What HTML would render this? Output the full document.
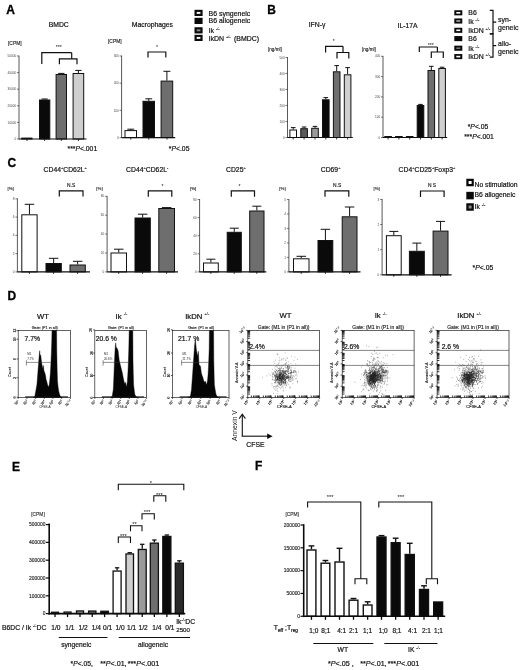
<!DOCTYPE html>
<html lang="en"><head><meta charset="utf-8"><title>Figure</title>
<style>
html,body{margin:0;padding:0;background:#fff;}
svg{display:block;font-family:"Liberation Sans", sans-serif;}
</style></head><body>
<svg width="520" height="670" viewBox="0 0 520 670">
<rect x="0" y="0" width="520" height="670" fill="#ffffff"/>
<text x="6.20" y="13.82" font-size="12.0" font-weight="bold" fill="#000" stroke="#000" stroke-width="0.3">A</text>
<text x="58.70" y="27.45" font-size="6.8" text-anchor="middle" fill="#111" stroke="#111" stroke-width="0.190" >BMDC</text>
<text x="8.00" y="45.36" font-size="4.9" fill="#222" stroke="#222" stroke-width="0.137" >[CPM]</text>
<line x1="19.00" y1="55.62" x2="19.00" y2="139.38" stroke="#222" stroke-width="0.75" stroke-linecap="butt"/>
<line x1="17.00" y1="56.00" x2="19.00" y2="56.00" stroke="#222" stroke-width="0.6000000000000001" stroke-linecap="butt"/>
<text x="16.20" y="57.12" font-size="3.1" text-anchor="end" fill="#444" >50000</text>
<line x1="17.00" y1="72.60" x2="19.00" y2="72.60" stroke="#222" stroke-width="0.6000000000000001" stroke-linecap="butt"/>
<text x="16.20" y="73.72" font-size="3.1" text-anchor="end" fill="#444" >40000</text>
<line x1="17.00" y1="89.20" x2="19.00" y2="89.20" stroke="#222" stroke-width="0.6000000000000001" stroke-linecap="butt"/>
<text x="16.20" y="90.32" font-size="3.1" text-anchor="end" fill="#444" >30000</text>
<line x1="17.00" y1="105.80" x2="19.00" y2="105.80" stroke="#222" stroke-width="0.6000000000000001" stroke-linecap="butt"/>
<text x="16.20" y="106.92" font-size="3.1" text-anchor="end" fill="#444" >20000</text>
<line x1="17.00" y1="122.40" x2="19.00" y2="122.40" stroke="#222" stroke-width="0.6000000000000001" stroke-linecap="butt"/>
<text x="16.20" y="123.52" font-size="3.1" text-anchor="end" fill="#444" >10000</text>
<line x1="17.00" y1="139.00" x2="19.00" y2="139.00" stroke="#222" stroke-width="0.6000000000000001" stroke-linecap="butt"/>
<text x="16.20" y="140.12" font-size="3.1" text-anchor="end" fill="#444" >0</text>
<rect x="21.70" y="138.10" width="10.30" height="0.90" fill="#ffffff" stroke="#111" stroke-width="1.0"/>
<line x1="44.65" y1="99.50" x2="44.65" y2="99.00" stroke="#111" stroke-width="1.0" stroke-linecap="butt"/>
<line x1="41.54" y1="99.00" x2="47.76" y2="99.00" stroke="#111" stroke-width="1.0" stroke-linecap="butt"/>
<rect x="39.50" y="100.00" width="10.30" height="39.00" fill="#0a0a0a" stroke="#111" stroke-width="1.0"/>
<line x1="61.30" y1="74.00" x2="61.30" y2="73.40" stroke="#111" stroke-width="1.0" stroke-linecap="butt"/>
<line x1="58.16" y1="73.40" x2="64.44" y2="73.40" stroke="#111" stroke-width="1.0" stroke-linecap="butt"/>
<rect x="56.10" y="74.50" width="10.40" height="64.50" fill="#6e6e6e" stroke="#111" stroke-width="1.0"/>
<line x1="78.40" y1="73.00" x2="78.40" y2="70.40" stroke="#111" stroke-width="1.0" stroke-linecap="butt"/>
<line x1="75.21" y1="70.40" x2="81.59" y2="70.40" stroke="#111" stroke-width="1.0" stroke-linecap="butt"/>
<rect x="73.10" y="73.50" width="10.60" height="65.50" fill="#cfcfcf" stroke="#111" stroke-width="1.0"/>
<line x1="19.00" y1="139.00" x2="86.50" y2="139.00" stroke="#111" stroke-width="1.2" stroke-linecap="butt"/>
<line x1="27.00" y1="139.00" x2="27.00" y2="141.00" stroke="#111" stroke-width="0.84" stroke-linecap="butt"/>
<line x1="44.60" y1="139.00" x2="44.60" y2="141.00" stroke="#111" stroke-width="0.84" stroke-linecap="butt"/>
<line x1="61.30" y1="139.00" x2="61.30" y2="141.00" stroke="#111" stroke-width="0.84" stroke-linecap="butt"/>
<line x1="78.40" y1="139.00" x2="78.40" y2="141.00" stroke="#111" stroke-width="0.84" stroke-linecap="butt"/>
<path d="M41.8 64V52.7H71.7" fill="none" stroke="#111" stroke-width="1.2" stroke-linejoin="miter"/>
<path d="M59.40 64.20V58.80H77.00V64.20" fill="none" stroke="#111" stroke-width="1.2" stroke-linejoin="miter"/>
<line x1="71.70" y1="52.70" x2="71.70" y2="58.80" stroke="#111" stroke-width="1.2" stroke-linecap="butt"/>
<text x="58.70" y="49.36" font-size="5.2" text-anchor="middle" fill="#111">***</text>
<text x="67.50" y="151.45" font-size="6.8" fill="#111" stroke="#111" stroke-width="0.190" >***<tspan font-style="italic">P</tspan>&lt;.001</text>
<text x="152.40" y="27.45" font-size="6.8" text-anchor="middle" fill="#111" stroke="#111" stroke-width="0.190" >Macrophages</text>
<text x="108.00" y="42.76" font-size="4.9" fill="#222" stroke="#222" stroke-width="0.137" >[CPM]</text>
<line x1="121.60" y1="55.62" x2="121.60" y2="137.97" stroke="#222" stroke-width="0.75" stroke-linecap="butt"/>
<line x1="119.60" y1="56.00" x2="121.60" y2="56.00" stroke="#222" stroke-width="0.6000000000000001" stroke-linecap="butt"/>
<text x="118.80" y="57.12" font-size="3.1" text-anchor="end" fill="#444" >300</text>
<line x1="119.60" y1="83.20" x2="121.60" y2="83.20" stroke="#222" stroke-width="0.6000000000000001" stroke-linecap="butt"/>
<text x="118.80" y="84.32" font-size="3.1" text-anchor="end" fill="#444" >200</text>
<line x1="119.60" y1="110.40" x2="121.60" y2="110.40" stroke="#222" stroke-width="0.6000000000000001" stroke-linecap="butt"/>
<text x="118.80" y="111.52" font-size="3.1" text-anchor="end" fill="#444" >100</text>
<line x1="119.60" y1="137.60" x2="121.60" y2="137.60" stroke="#222" stroke-width="0.6000000000000001" stroke-linecap="butt"/>
<text x="118.80" y="138.72" font-size="3.1" text-anchor="end" fill="#444" >0</text>
<line x1="130.75" y1="130.10" x2="130.75" y2="129.20" stroke="#111" stroke-width="1.0" stroke-linecap="butt"/>
<line x1="127.31" y1="129.20" x2="134.19" y2="129.20" stroke="#111" stroke-width="1.0" stroke-linecap="butt"/>
<rect x="125.00" y="130.60" width="11.50" height="7.00" fill="#ffffff" stroke="#111" stroke-width="1.0"/>
<line x1="148.75" y1="100.80" x2="148.75" y2="98.80" stroke="#111" stroke-width="1.0" stroke-linecap="butt"/>
<line x1="145.31" y1="98.80" x2="152.19" y2="98.80" stroke="#111" stroke-width="1.0" stroke-linecap="butt"/>
<rect x="143.00" y="101.30" width="11.50" height="36.30" fill="#0a0a0a" stroke="#111" stroke-width="1.0"/>
<line x1="166.90" y1="80.60" x2="166.90" y2="71.30" stroke="#111" stroke-width="1.0" stroke-linecap="butt"/>
<line x1="163.43" y1="71.30" x2="170.36" y2="71.30" stroke="#111" stroke-width="1.0" stroke-linecap="butt"/>
<rect x="161.10" y="81.10" width="11.60" height="56.50" fill="#6e6e6e" stroke="#111" stroke-width="1.0"/>
<line x1="121.60" y1="137.60" x2="175.20" y2="137.60" stroke="#111" stroke-width="1.2" stroke-linecap="butt"/>
<line x1="130.80" y1="137.60" x2="130.80" y2="139.60" stroke="#111" stroke-width="0.84" stroke-linecap="butt"/>
<line x1="148.80" y1="137.60" x2="148.80" y2="139.60" stroke="#111" stroke-width="0.84" stroke-linecap="butt"/>
<line x1="167.00" y1="137.60" x2="167.00" y2="139.60" stroke="#111" stroke-width="0.84" stroke-linecap="butt"/>
<path d="M148.00 57.60V52.00H165.80V57.60" fill="none" stroke="#111" stroke-width="1.2" stroke-linejoin="miter"/>
<text x="156.90" y="49.36" font-size="5.2" text-anchor="middle" fill="#111">*</text>
<text x="168.80" y="151.45" font-size="6.8" fill="#111" stroke="#111" stroke-width="0.190" >*<tspan font-style="italic">P</tspan>&lt;.05</text>
<rect x="194.5" y="9.80" width="8.1" height="6.2" fill="#0a0a0a"/>
<rect x="196.7" y="11.95" width="3.7" height="1.9" fill="#ffffff"/>
<text x="208.60" y="15.70" font-size="6.95" fill="#111" stroke="#111" stroke-width="0.195" >B6 syngeneic</text>
<rect x="194.5" y="17.80" width="8.1" height="6.2" fill="#0a0a0a"/>
<rect x="196.7" y="19.95" width="3.7" height="1.9" fill="#0a0a0a"/>
<text x="208.60" y="23.20" font-size="6.95" fill="#111" stroke="#111" stroke-width="0.195" >B6 allogeneic</text>
<rect x="194.5" y="27.25" width="8.1" height="6.2" fill="#0a0a0a"/>
<rect x="196.7" y="29.40" width="3.7" height="1.9" fill="#8c8c8c"/>
<text x="208.60" y="33.00" font-size="6.95" fill="#111" stroke="#111" stroke-width="0.195" >Ik <tspan font-size="3.94" dy="-3.06" stroke-width="0.06">-/-</tspan><tspan dy="3.06" font-size="6.8">&#8203;</tspan></text>
<rect x="194.5" y="34.80" width="8.1" height="6.2" fill="#0a0a0a"/>
<rect x="196.7" y="36.95" width="3.7" height="1.9" fill="#ffffff"/>
<text x="208.60" y="41.00" font-size="6.95" fill="#111" stroke="#111" stroke-width="0.195" >IkDN <tspan font-size="3.94" dy="-3.06" stroke-width="0.06">+/-</tspan><tspan dy="3.06" font-size="6.8">&#8203;</tspan>&#160;&#8201;(BMDC)</text>
<text x="267.30" y="13.92" font-size="12.0" font-weight="bold" fill="#000" stroke="#000" stroke-width="0.3">B</text>
<text x="317.00" y="27.45" font-size="6.8" text-anchor="middle" fill="#111" stroke="#111" stroke-width="0.190" >IFN-γ</text>
<text x="268.00" y="50.66" font-size="4.6" fill="#222" stroke="#222" stroke-width="0.129" >[ng/ml]</text>
<line x1="287.50" y1="57.12" x2="287.50" y2="137.88" stroke="#222" stroke-width="0.75" stroke-linecap="butt"/>
<line x1="285.50" y1="57.50" x2="287.50" y2="57.50" stroke="#222" stroke-width="0.6000000000000001" stroke-linecap="butt"/>
<text x="284.70" y="58.62" font-size="3.1" text-anchor="end" fill="#444" >500</text>
<line x1="285.50" y1="73.50" x2="287.50" y2="73.50" stroke="#222" stroke-width="0.6000000000000001" stroke-linecap="butt"/>
<text x="284.70" y="74.62" font-size="3.1" text-anchor="end" fill="#444" >400</text>
<line x1="285.50" y1="89.50" x2="287.50" y2="89.50" stroke="#222" stroke-width="0.6000000000000001" stroke-linecap="butt"/>
<text x="284.70" y="90.62" font-size="3.1" text-anchor="end" fill="#444" >300</text>
<line x1="285.50" y1="105.50" x2="287.50" y2="105.50" stroke="#222" stroke-width="0.6000000000000001" stroke-linecap="butt"/>
<text x="284.70" y="106.62" font-size="3.1" text-anchor="end" fill="#444" >200</text>
<line x1="285.50" y1="121.50" x2="287.50" y2="121.50" stroke="#222" stroke-width="0.6000000000000001" stroke-linecap="butt"/>
<text x="284.70" y="122.62" font-size="3.1" text-anchor="end" fill="#444" >100</text>
<line x1="285.50" y1="137.50" x2="287.50" y2="137.50" stroke="#222" stroke-width="0.6000000000000001" stroke-linecap="butt"/>
<text x="284.70" y="138.62" font-size="3.1" text-anchor="end" fill="#444" >0</text>
<line x1="293.20" y1="129.50" x2="293.20" y2="127.60" stroke="#111" stroke-width="1.0" stroke-linecap="butt"/>
<line x1="290.90" y1="127.60" x2="295.50" y2="127.60" stroke="#111" stroke-width="1.0" stroke-linecap="butt"/>
<rect x="289.90" y="130.00" width="6.60" height="7.50" fill="#ffffff" stroke="#111" stroke-width="1.0"/>
<line x1="304.10" y1="128.20" x2="304.10" y2="127.00" stroke="#111" stroke-width="1.0" stroke-linecap="butt"/>
<line x1="301.80" y1="127.00" x2="306.40" y2="127.00" stroke="#111" stroke-width="1.0" stroke-linecap="butt"/>
<rect x="300.80" y="128.70" width="6.60" height="8.80" fill="#5a5a5a" stroke="#111" stroke-width="1.0"/>
<line x1="315.00" y1="127.80" x2="315.00" y2="126.40" stroke="#111" stroke-width="1.0" stroke-linecap="butt"/>
<line x1="312.70" y1="126.40" x2="317.30" y2="126.40" stroke="#111" stroke-width="1.0" stroke-linecap="butt"/>
<rect x="311.70" y="128.30" width="6.60" height="9.20" fill="#9a9a9a" stroke="#111" stroke-width="1.0"/>
<line x1="325.80" y1="99.30" x2="325.80" y2="97.60" stroke="#111" stroke-width="1.0" stroke-linecap="butt"/>
<line x1="323.50" y1="97.60" x2="328.10" y2="97.60" stroke="#111" stroke-width="1.0" stroke-linecap="butt"/>
<rect x="322.50" y="99.80" width="6.60" height="37.70" fill="#0a0a0a" stroke="#111" stroke-width="1.0"/>
<line x1="336.70" y1="71.30" x2="336.70" y2="65.60" stroke="#111" stroke-width="1.0" stroke-linecap="butt"/>
<line x1="334.40" y1="65.60" x2="339.00" y2="65.60" stroke="#111" stroke-width="1.0" stroke-linecap="butt"/>
<rect x="333.40" y="71.80" width="6.60" height="65.70" fill="#6e6e6e" stroke="#111" stroke-width="1.0"/>
<line x1="347.60" y1="74.30" x2="347.60" y2="67.60" stroke="#111" stroke-width="1.0" stroke-linecap="butt"/>
<line x1="345.30" y1="67.60" x2="349.90" y2="67.60" stroke="#111" stroke-width="1.0" stroke-linecap="butt"/>
<rect x="344.30" y="74.80" width="6.60" height="62.70" fill="#cfcfcf" stroke="#111" stroke-width="1.0"/>
<line x1="287.50" y1="137.50" x2="352.80" y2="137.50" stroke="#111" stroke-width="1.2" stroke-linecap="butt"/>
<line x1="293.20" y1="137.50" x2="293.20" y2="139.50" stroke="#111" stroke-width="0.84" stroke-linecap="butt"/>
<line x1="304.10" y1="137.50" x2="304.10" y2="139.50" stroke="#111" stroke-width="0.84" stroke-linecap="butt"/>
<line x1="315.00" y1="137.50" x2="315.00" y2="139.50" stroke="#111" stroke-width="0.84" stroke-linecap="butt"/>
<line x1="325.80" y1="137.50" x2="325.80" y2="139.50" stroke="#111" stroke-width="0.84" stroke-linecap="butt"/>
<line x1="336.70" y1="137.50" x2="336.70" y2="139.50" stroke="#111" stroke-width="0.84" stroke-linecap="butt"/>
<line x1="347.60" y1="137.50" x2="347.60" y2="139.50" stroke="#111" stroke-width="0.84" stroke-linecap="butt"/>
<path d="M325.6 52.5V46.3H343" fill="none" stroke="#111" stroke-width="1.2" stroke-linejoin="miter"/>
<path d="M337.00 58.60V52.50H348.80V58.60" fill="none" stroke="#111" stroke-width="1.2" stroke-linejoin="miter"/>
<line x1="343.00" y1="46.30" x2="343.00" y2="52.50" stroke="#111" stroke-width="1.2" stroke-linecap="butt"/>
<text x="333.80" y="43.16" font-size="5.2" text-anchor="middle" fill="#111">*</text>
<text x="407.60" y="27.85" font-size="6.8" text-anchor="middle" fill="#111" stroke="#111" stroke-width="0.190" >IL-17A</text>
<text x="362.00" y="50.66" font-size="4.6" fill="#222" stroke="#222" stroke-width="0.129" >[ng/ml]</text>
<line x1="383.00" y1="55.92" x2="383.00" y2="137.88" stroke="#222" stroke-width="0.75" stroke-linecap="butt"/>
<line x1="381.00" y1="56.30" x2="383.00" y2="56.30" stroke="#222" stroke-width="0.6000000000000001" stroke-linecap="butt"/>
<text x="380.20" y="57.42" font-size="3.1" text-anchor="end" fill="#444" >400</text>
<line x1="381.00" y1="76.60" x2="383.00" y2="76.60" stroke="#222" stroke-width="0.6000000000000001" stroke-linecap="butt"/>
<text x="380.20" y="77.72" font-size="3.1" text-anchor="end" fill="#444" >300</text>
<line x1="381.00" y1="96.90" x2="383.00" y2="96.90" stroke="#222" stroke-width="0.6000000000000001" stroke-linecap="butt"/>
<text x="380.20" y="98.02" font-size="3.1" text-anchor="end" fill="#444" >200</text>
<line x1="381.00" y1="117.20" x2="383.00" y2="117.20" stroke="#222" stroke-width="0.6000000000000001" stroke-linecap="butt"/>
<text x="380.20" y="118.32" font-size="3.1" text-anchor="end" fill="#444" >100</text>
<line x1="381.00" y1="137.50" x2="383.00" y2="137.50" stroke="#222" stroke-width="0.6000000000000001" stroke-linecap="butt"/>
<text x="380.20" y="138.62" font-size="3.1" text-anchor="end" fill="#444" >0</text>
<rect x="384.80" y="136.50" width="6.60" height="1.00" fill="#0a0a0a" stroke="#111" stroke-width="1.0"/>
<rect x="395.60" y="136.50" width="6.60" height="1.00" fill="#0a0a0a" stroke="#111" stroke-width="1.0"/>
<rect x="406.40" y="136.50" width="6.60" height="1.00" fill="#0a0a0a" stroke="#111" stroke-width="1.0"/>
<line x1="420.50" y1="105.00" x2="420.50" y2="104.40" stroke="#111" stroke-width="1.0" stroke-linecap="butt"/>
<line x1="418.20" y1="104.40" x2="422.80" y2="104.40" stroke="#111" stroke-width="1.0" stroke-linecap="butt"/>
<rect x="417.20" y="105.50" width="6.60" height="32.00" fill="#0a0a0a" stroke="#111" stroke-width="1.0"/>
<line x1="431.30" y1="70.00" x2="431.30" y2="66.30" stroke="#111" stroke-width="1.0" stroke-linecap="butt"/>
<line x1="429.00" y1="66.30" x2="433.60" y2="66.30" stroke="#111" stroke-width="1.0" stroke-linecap="butt"/>
<rect x="428.00" y="70.50" width="6.60" height="67.00" fill="#6e6e6e" stroke="#111" stroke-width="1.0"/>
<line x1="442.10" y1="68.00" x2="442.10" y2="67.20" stroke="#111" stroke-width="1.0" stroke-linecap="butt"/>
<line x1="439.80" y1="67.20" x2="444.40" y2="67.20" stroke="#111" stroke-width="1.0" stroke-linecap="butt"/>
<rect x="438.80" y="68.50" width="6.60" height="69.00" fill="#cfcfcf" stroke="#111" stroke-width="1.0"/>
<line x1="383.00" y1="137.50" x2="447.20" y2="137.50" stroke="#111" stroke-width="1.2" stroke-linecap="butt"/>
<line x1="388.10" y1="137.50" x2="388.10" y2="139.50" stroke="#111" stroke-width="0.84" stroke-linecap="butt"/>
<line x1="398.90" y1="137.50" x2="398.90" y2="139.50" stroke="#111" stroke-width="0.84" stroke-linecap="butt"/>
<line x1="409.70" y1="137.50" x2="409.70" y2="139.50" stroke="#111" stroke-width="0.84" stroke-linecap="butt"/>
<line x1="420.50" y1="137.50" x2="420.50" y2="139.50" stroke="#111" stroke-width="0.84" stroke-linecap="butt"/>
<line x1="431.30" y1="137.50" x2="431.30" y2="139.50" stroke="#111" stroke-width="0.84" stroke-linecap="butt"/>
<line x1="442.10" y1="137.50" x2="442.10" y2="139.50" stroke="#111" stroke-width="0.84" stroke-linecap="butt"/>
<path d="M419.3 52V47H437.4" fill="none" stroke="#111" stroke-width="1.2" stroke-linejoin="miter"/>
<path d="M431.30 58.00V52.00H443.30V58.00" fill="none" stroke="#111" stroke-width="1.2" stroke-linejoin="miter"/>
<line x1="437.40" y1="47.00" x2="437.40" y2="52.00" stroke="#111" stroke-width="1.2" stroke-linecap="butt"/>
<text x="430.80" y="46.96" font-size="5.2" text-anchor="middle" fill="#111">***</text>
<rect x="454.3" y="10.25" width="8.0" height="5.1" fill="#0a0a0a"/>
<rect x="456.3" y="12.00" width="4.0" height="1.6" fill="#ffffff"/>
<text x="468.30" y="15.48" font-size="6.9" fill="#111" stroke="#111" stroke-width="0.193" >B6</text>
<rect x="454.3" y="18.45" width="8.0" height="5.1" fill="#0a0a0a"/>
<rect x="456.3" y="20.20" width="4.0" height="1.6" fill="#a8a8a8"/>
<text x="468.30" y="23.68" font-size="6.9" fill="#111" stroke="#111" stroke-width="0.193" >Ik <tspan font-size="3.94" dy="-3.06" stroke-width="0.06">-/-</tspan><tspan dy="3.06" font-size="6.8">&#8203;</tspan></text>
<rect x="454.3" y="27.75" width="8.0" height="5.1" fill="#0a0a0a"/>
<rect x="456.3" y="29.50" width="4.0" height="1.6" fill="#ffffff"/>
<text x="468.30" y="32.98" font-size="6.9" fill="#111" stroke="#111" stroke-width="0.193" >IkDN <tspan font-size="3.94" dy="-3.06" stroke-width="0.06">+/-</tspan><tspan dy="3.06" font-size="6.8">&#8203;</tspan></text>
<rect x="454.3" y="36.05" width="8.0" height="5.1" fill="#0a0a0a"/>
<rect x="456.3" y="37.80" width="4.0" height="1.6" fill="#0a0a0a"/>
<text x="468.30" y="41.28" font-size="6.9" fill="#111" stroke="#111" stroke-width="0.193" >B6</text>
<rect x="454.3" y="45.65" width="8.0" height="5.1" fill="#0a0a0a"/>
<rect x="456.3" y="47.40" width="4.0" height="1.6" fill="#777777"/>
<text x="468.30" y="50.88" font-size="6.9" fill="#111" stroke="#111" stroke-width="0.193" >Ik <tspan font-size="3.94" dy="-3.06" stroke-width="0.06">-/-</tspan><tspan dy="3.06" font-size="6.8">&#8203;</tspan></text>
<rect x="454.3" y="54.05" width="8.0" height="5.1" fill="#0a0a0a"/>
<rect x="456.3" y="55.80" width="4.0" height="1.6" fill="#ffffff"/>
<text x="468.30" y="59.28" font-size="6.9" fill="#111" stroke="#111" stroke-width="0.193" >IkDN <tspan font-size="3.94" dy="-3.06" stroke-width="0.06">+/-</tspan><tspan dy="3.06" font-size="6.8">&#8203;</tspan></text>
<path d="M489.8 10.40H493V22.15H496.2M493 22.15V33.90H489.8" fill="none" stroke="#111" stroke-width="1.2" stroke-linejoin="miter"/>
<path d="M489.8 33.90H493V45.55H496.2M493 45.55V57.20H489.8" fill="none" stroke="#111" stroke-width="1.2" stroke-linejoin="miter"/>
<text x="498.10" y="22.08" font-size="6.9" fill="#111" stroke="#111" stroke-width="0.193" >syn-</text>
<text x="498.10" y="30.28" font-size="6.9" fill="#111" stroke="#111" stroke-width="0.193" >geneic</text>
<text x="498.10" y="45.68" font-size="6.9" fill="#111" stroke="#111" stroke-width="0.193" >allo-</text>
<text x="498.10" y="53.58" font-size="6.9" fill="#111" stroke="#111" stroke-width="0.193" >geneic</text>
<text x="467.70" y="129.45" font-size="6.8" fill="#111" stroke="#111" stroke-width="0.190" >*<tspan font-style="italic">P</tspan>&lt;.05</text>
<text x="464.20" y="138.75" font-size="6.8" fill="#111" stroke="#111" stroke-width="0.190" >***<tspan font-style="italic">P</tspan>&lt;.001</text>
<text x="7.50" y="166.72" font-size="12.0" font-weight="bold" fill="#000" stroke="#000" stroke-width="0.3">C</text>
<text x="65.20" y="172.45" font-size="6.8" text-anchor="middle" fill="#111" stroke="#111" stroke-width="0.190" >CD44<tspan font-size="3.94" dy="-3.06" stroke-width="0.06">+</tspan><tspan dy="3.06" font-size="6.8">&#8203;</tspan>CD62L<tspan font-size="3.94" dy="-3.06" stroke-width="0.06">+</tspan><tspan dy="3.06" font-size="6.8">&#8203;</tspan></text>
<text x="7.50" y="190.08" font-size="4.4" fill="#222" stroke="#222" stroke-width="0.123" >[%]</text>
<line x1="17.40" y1="198.43" x2="17.40" y2="272.27" stroke="#222" stroke-width="0.75" stroke-linecap="butt"/>
<line x1="15.40" y1="198.80" x2="17.40" y2="198.80" stroke="#222" stroke-width="0.6000000000000001" stroke-linecap="butt"/>
<text x="14.60" y="199.92" font-size="3.1" text-anchor="end" fill="#444" >8</text>
<line x1="15.40" y1="217.08" x2="17.40" y2="217.08" stroke="#222" stroke-width="0.6000000000000001" stroke-linecap="butt"/>
<text x="14.60" y="218.19" font-size="3.1" text-anchor="end" fill="#444" >6</text>
<line x1="15.40" y1="235.35" x2="17.40" y2="235.35" stroke="#222" stroke-width="0.6000000000000001" stroke-linecap="butt"/>
<text x="14.60" y="236.47" font-size="3.1" text-anchor="end" fill="#444" >4</text>
<line x1="15.40" y1="253.62" x2="17.40" y2="253.62" stroke="#222" stroke-width="0.6000000000000001" stroke-linecap="butt"/>
<text x="14.60" y="254.74" font-size="3.1" text-anchor="end" fill="#444" >2</text>
<line x1="15.40" y1="271.90" x2="17.40" y2="271.90" stroke="#222" stroke-width="0.6000000000000001" stroke-linecap="butt"/>
<text x="14.60" y="273.02" font-size="3.1" text-anchor="end" fill="#444" >0</text>
<line x1="29.45" y1="214.30" x2="29.45" y2="204.30" stroke="#111" stroke-width="1.0" stroke-linecap="butt"/>
<line x1="24.70" y1="204.30" x2="34.20" y2="204.30" stroke="#111" stroke-width="1.0" stroke-linecap="butt"/>
<rect x="21.80" y="214.80" width="15.30" height="57.10" fill="#ffffff" stroke="#111" stroke-width="1.0"/>
<line x1="53.65" y1="263.00" x2="53.65" y2="258.30" stroke="#111" stroke-width="1.0" stroke-linecap="butt"/>
<line x1="48.90" y1="258.30" x2="58.40" y2="258.30" stroke="#111" stroke-width="1.0" stroke-linecap="butt"/>
<rect x="46.00" y="263.50" width="15.30" height="8.40" fill="#0a0a0a" stroke="#111" stroke-width="1.0"/>
<line x1="77.65" y1="264.50" x2="77.65" y2="261.30" stroke="#111" stroke-width="1.0" stroke-linecap="butt"/>
<line x1="72.90" y1="261.30" x2="82.40" y2="261.30" stroke="#111" stroke-width="1.0" stroke-linecap="butt"/>
<rect x="70.00" y="265.00" width="15.30" height="6.90" fill="#6e6e6e" stroke="#111" stroke-width="1.0"/>
<line x1="17.40" y1="271.90" x2="90.00" y2="271.90" stroke="#111" stroke-width="1.2" stroke-linecap="butt"/>
<line x1="29.40" y1="271.90" x2="29.40" y2="273.90" stroke="#111" stroke-width="0.84" stroke-linecap="butt"/>
<line x1="53.60" y1="271.90" x2="53.60" y2="273.90" stroke="#111" stroke-width="0.84" stroke-linecap="butt"/>
<line x1="77.60" y1="271.90" x2="77.60" y2="273.90" stroke="#111" stroke-width="0.84" stroke-linecap="butt"/>
<path d="M59.30 196.40V190.80H83.00V196.40" fill="none" stroke="#111" stroke-width="1.2" stroke-linejoin="miter"/>
<text x="71.20" y="187.26" font-size="4.9" text-anchor="middle" fill="#111" stroke="#111" stroke-width="0.137" >N.S</text>
<text x="147.20" y="172.45" font-size="6.8" text-anchor="middle" fill="#111" stroke="#111" stroke-width="0.190" >CD44<tspan font-size="3.94" dy="-3.06" stroke-width="0.06">+</tspan><tspan dy="3.06" font-size="6.8">&#8203;</tspan>CD62L<tspan font-size="3.94" dy="-3.06" stroke-width="0.06">-</tspan><tspan dy="3.06" font-size="6.8">&#8203;</tspan></text>
<text x="96.30" y="190.08" font-size="4.4" fill="#222" stroke="#222" stroke-width="0.123" >[%]</text>
<line x1="107.10" y1="195.93" x2="107.10" y2="272.27" stroke="#222" stroke-width="0.75" stroke-linecap="butt"/>
<line x1="105.10" y1="196.30" x2="107.10" y2="196.30" stroke="#222" stroke-width="0.6000000000000001" stroke-linecap="butt"/>
<text x="104.30" y="197.42" font-size="3.1" text-anchor="end" fill="#444" >80</text>
<line x1="105.10" y1="215.20" x2="107.10" y2="215.20" stroke="#222" stroke-width="0.6000000000000001" stroke-linecap="butt"/>
<text x="104.30" y="216.32" font-size="3.1" text-anchor="end" fill="#444" >60</text>
<line x1="105.10" y1="234.10" x2="107.10" y2="234.10" stroke="#222" stroke-width="0.6000000000000001" stroke-linecap="butt"/>
<text x="104.30" y="235.22" font-size="3.1" text-anchor="end" fill="#444" >40</text>
<line x1="105.10" y1="253.00" x2="107.10" y2="253.00" stroke="#222" stroke-width="0.6000000000000001" stroke-linecap="butt"/>
<text x="104.30" y="254.12" font-size="3.1" text-anchor="end" fill="#444" >20</text>
<line x1="105.10" y1="271.90" x2="107.10" y2="271.90" stroke="#222" stroke-width="0.6000000000000001" stroke-linecap="butt"/>
<text x="104.30" y="273.02" font-size="3.1" text-anchor="end" fill="#444" >0</text>
<line x1="118.75" y1="252.50" x2="118.75" y2="249.20" stroke="#111" stroke-width="1.0" stroke-linecap="butt"/>
<line x1="114.00" y1="249.20" x2="123.50" y2="249.20" stroke="#111" stroke-width="1.0" stroke-linecap="butt"/>
<rect x="111.00" y="253.00" width="15.50" height="18.90" fill="#ffffff" stroke="#111" stroke-width="1.0"/>
<line x1="142.65" y1="217.50" x2="142.65" y2="214.20" stroke="#111" stroke-width="1.0" stroke-linecap="butt"/>
<line x1="137.90" y1="214.20" x2="147.40" y2="214.20" stroke="#111" stroke-width="1.0" stroke-linecap="butt"/>
<rect x="135.00" y="218.00" width="15.30" height="53.90" fill="#0a0a0a" stroke="#111" stroke-width="1.0"/>
<line x1="166.65" y1="208.00" x2="166.65" y2="207.60" stroke="#111" stroke-width="1.0" stroke-linecap="butt"/>
<line x1="161.90" y1="207.60" x2="171.40" y2="207.60" stroke="#111" stroke-width="1.0" stroke-linecap="butt"/>
<rect x="158.80" y="208.50" width="15.70" height="63.40" fill="#6e6e6e" stroke="#111" stroke-width="1.0"/>
<line x1="107.10" y1="271.90" x2="178.00" y2="271.90" stroke="#111" stroke-width="1.2" stroke-linecap="butt"/>
<line x1="118.70" y1="271.90" x2="118.70" y2="273.90" stroke="#111" stroke-width="0.84" stroke-linecap="butt"/>
<line x1="142.60" y1="271.90" x2="142.60" y2="273.90" stroke="#111" stroke-width="0.84" stroke-linecap="butt"/>
<line x1="166.60" y1="271.90" x2="166.60" y2="273.90" stroke="#111" stroke-width="0.84" stroke-linecap="butt"/>
<path d="M148.30 196.80V190.80H171.80V196.80" fill="none" stroke="#111" stroke-width="1.2" stroke-linejoin="miter"/>
<text x="162.50" y="188.16" font-size="5.2" text-anchor="middle" fill="#111">*</text>
<text x="235.90" y="172.45" font-size="6.8" text-anchor="middle" fill="#111" stroke="#111" stroke-width="0.190" >CD25<tspan font-size="3.94" dy="-3.06" stroke-width="0.06">+</tspan><tspan dy="3.06" font-size="6.8">&#8203;</tspan></text>
<text x="190.00" y="190.08" font-size="4.4" fill="#222" stroke="#222" stroke-width="0.123" >[%]</text>
<line x1="199.60" y1="199.12" x2="199.60" y2="272.27" stroke="#222" stroke-width="0.75" stroke-linecap="butt"/>
<line x1="197.60" y1="199.50" x2="199.60" y2="199.50" stroke="#222" stroke-width="0.6000000000000001" stroke-linecap="butt"/>
<text x="196.80" y="200.62" font-size="3.1" text-anchor="end" fill="#444" >80</text>
<line x1="197.60" y1="217.60" x2="199.60" y2="217.60" stroke="#222" stroke-width="0.6000000000000001" stroke-linecap="butt"/>
<text x="196.80" y="218.72" font-size="3.1" text-anchor="end" fill="#444" >60</text>
<line x1="197.60" y1="235.70" x2="199.60" y2="235.70" stroke="#222" stroke-width="0.6000000000000001" stroke-linecap="butt"/>
<text x="196.80" y="236.82" font-size="3.1" text-anchor="end" fill="#444" >40</text>
<line x1="197.60" y1="253.80" x2="199.60" y2="253.80" stroke="#222" stroke-width="0.6000000000000001" stroke-linecap="butt"/>
<text x="196.80" y="254.92" font-size="3.1" text-anchor="end" fill="#444" >20</text>
<line x1="197.60" y1="271.90" x2="199.60" y2="271.90" stroke="#222" stroke-width="0.6000000000000001" stroke-linecap="butt"/>
<text x="196.80" y="273.02" font-size="3.1" text-anchor="end" fill="#444" >0</text>
<line x1="210.90" y1="262.50" x2="210.90" y2="259.20" stroke="#111" stroke-width="1.0" stroke-linecap="butt"/>
<line x1="206.40" y1="259.20" x2="215.40" y2="259.20" stroke="#111" stroke-width="1.0" stroke-linecap="butt"/>
<rect x="203.50" y="263.00" width="14.80" height="8.90" fill="#ffffff" stroke="#111" stroke-width="1.0"/>
<line x1="234.25" y1="231.80" x2="234.25" y2="228.20" stroke="#111" stroke-width="1.0" stroke-linecap="butt"/>
<line x1="229.75" y1="228.20" x2="238.75" y2="228.20" stroke="#111" stroke-width="1.0" stroke-linecap="butt"/>
<rect x="227.20" y="232.30" width="14.10" height="39.60" fill="#0a0a0a" stroke="#111" stroke-width="1.0"/>
<line x1="256.85" y1="210.50" x2="256.85" y2="206.20" stroke="#111" stroke-width="1.0" stroke-linecap="butt"/>
<line x1="252.35" y1="206.20" x2="261.35" y2="206.20" stroke="#111" stroke-width="1.0" stroke-linecap="butt"/>
<rect x="249.70" y="211.00" width="14.30" height="60.90" fill="#6e6e6e" stroke="#111" stroke-width="1.0"/>
<line x1="199.60" y1="271.90" x2="266.30" y2="271.90" stroke="#111" stroke-width="1.2" stroke-linecap="butt"/>
<line x1="210.90" y1="271.90" x2="210.90" y2="273.90" stroke="#111" stroke-width="0.84" stroke-linecap="butt"/>
<line x1="234.20" y1="271.90" x2="234.20" y2="273.90" stroke="#111" stroke-width="0.84" stroke-linecap="butt"/>
<line x1="256.80" y1="271.90" x2="256.80" y2="273.90" stroke="#111" stroke-width="0.84" stroke-linecap="butt"/>
<path d="M231.30 196.80V190.80H254.50V196.80" fill="none" stroke="#111" stroke-width="1.2" stroke-linejoin="miter"/>
<text x="239.50" y="188.16" font-size="5.2" text-anchor="middle" fill="#111">*</text>
<text x="330.60" y="172.45" font-size="6.8" text-anchor="middle" fill="#111" stroke="#111" stroke-width="0.190" >CD69<tspan font-size="3.94" dy="-3.06" stroke-width="0.06">+</tspan><tspan dy="3.06" font-size="6.8">&#8203;</tspan></text>
<text x="279.30" y="190.08" font-size="4.4" fill="#222" stroke="#222" stroke-width="0.123" >[%]</text>
<line x1="288.90" y1="199.12" x2="288.90" y2="272.27" stroke="#222" stroke-width="0.75" stroke-linecap="butt"/>
<line x1="286.90" y1="199.50" x2="288.90" y2="199.50" stroke="#222" stroke-width="0.6000000000000001" stroke-linecap="butt"/>
<text x="286.10" y="200.62" font-size="3.1" text-anchor="end" fill="#444" >5</text>
<line x1="286.90" y1="213.98" x2="288.90" y2="213.98" stroke="#222" stroke-width="0.6000000000000001" stroke-linecap="butt"/>
<text x="286.10" y="215.10" font-size="3.1" text-anchor="end" fill="#444" >4</text>
<line x1="286.90" y1="228.46" x2="288.90" y2="228.46" stroke="#222" stroke-width="0.6000000000000001" stroke-linecap="butt"/>
<text x="286.10" y="229.58" font-size="3.1" text-anchor="end" fill="#444" >3</text>
<line x1="286.90" y1="242.94" x2="288.90" y2="242.94" stroke="#222" stroke-width="0.6000000000000001" stroke-linecap="butt"/>
<text x="286.10" y="244.06" font-size="3.1" text-anchor="end" fill="#444" >2</text>
<line x1="286.90" y1="257.42" x2="288.90" y2="257.42" stroke="#222" stroke-width="0.6000000000000001" stroke-linecap="butt"/>
<text x="286.10" y="258.54" font-size="3.1" text-anchor="end" fill="#444" >1</text>
<line x1="286.90" y1="271.90" x2="288.90" y2="271.90" stroke="#222" stroke-width="0.6000000000000001" stroke-linecap="butt"/>
<text x="286.10" y="273.02" font-size="3.1" text-anchor="end" fill="#444" >0</text>
<line x1="301.25" y1="258.30" x2="301.25" y2="256.30" stroke="#111" stroke-width="1.0" stroke-linecap="butt"/>
<line x1="296.50" y1="256.30" x2="306.00" y2="256.30" stroke="#111" stroke-width="1.0" stroke-linecap="butt"/>
<rect x="293.50" y="258.80" width="15.50" height="13.10" fill="#ffffff" stroke="#111" stroke-width="1.0"/>
<line x1="325.40" y1="240.00" x2="325.40" y2="229.30" stroke="#111" stroke-width="1.0" stroke-linecap="butt"/>
<line x1="320.65" y1="229.30" x2="330.15" y2="229.30" stroke="#111" stroke-width="1.0" stroke-linecap="butt"/>
<rect x="318.00" y="240.50" width="14.80" height="31.40" fill="#0a0a0a" stroke="#111" stroke-width="1.0"/>
<line x1="349.60" y1="216.30" x2="349.60" y2="207.00" stroke="#111" stroke-width="1.0" stroke-linecap="butt"/>
<line x1="344.85" y1="207.00" x2="354.35" y2="207.00" stroke="#111" stroke-width="1.0" stroke-linecap="butt"/>
<rect x="342.20" y="216.80" width="14.80" height="55.10" fill="#6e6e6e" stroke="#111" stroke-width="1.0"/>
<line x1="288.90" y1="271.90" x2="360.50" y2="271.90" stroke="#111" stroke-width="1.2" stroke-linecap="butt"/>
<line x1="301.20" y1="271.90" x2="301.20" y2="273.90" stroke="#111" stroke-width="0.84" stroke-linecap="butt"/>
<line x1="325.40" y1="271.90" x2="325.40" y2="273.90" stroke="#111" stroke-width="0.84" stroke-linecap="butt"/>
<line x1="349.60" y1="271.90" x2="349.60" y2="273.90" stroke="#111" stroke-width="0.84" stroke-linecap="butt"/>
<path d="M325.00 196.80V190.80H348.80V196.80" fill="none" stroke="#111" stroke-width="1.2" stroke-linejoin="miter"/>
<text x="337.20" y="187.26" font-size="4.9" text-anchor="middle" fill="#111" stroke="#111" stroke-width="0.137" >N.S</text>
<text x="427.00" y="172.45" font-size="6.8" text-anchor="middle" fill="#111" stroke="#111" stroke-width="0.190" >CD4<tspan font-size="3.94" dy="-3.06" stroke-width="0.06">+</tspan><tspan dy="3.06" font-size="6.8">&#8203;</tspan>CD25<tspan font-size="3.94" dy="-3.06" stroke-width="0.06">+</tspan><tspan dy="3.06" font-size="6.8">&#8203;</tspan>Foxp3<tspan font-size="3.94" dy="-3.06" stroke-width="0.06">+</tspan><tspan dy="3.06" font-size="6.8">&#8203;</tspan></text>
<text x="373.50" y="190.08" font-size="4.4" fill="#222" stroke="#222" stroke-width="0.123" >[%]</text>
<line x1="382.10" y1="199.03" x2="382.10" y2="275.18" stroke="#222" stroke-width="0.75" stroke-linecap="butt"/>
<line x1="380.10" y1="199.40" x2="382.10" y2="199.40" stroke="#222" stroke-width="0.6000000000000001" stroke-linecap="butt"/>
<text x="379.30" y="200.52" font-size="3.1" text-anchor="end" fill="#444" >3</text>
<line x1="380.10" y1="224.53" x2="382.10" y2="224.53" stroke="#222" stroke-width="0.6000000000000001" stroke-linecap="butt"/>
<text x="379.30" y="225.65" font-size="3.1" text-anchor="end" fill="#444" >2</text>
<line x1="380.10" y1="249.66" x2="382.10" y2="249.66" stroke="#222" stroke-width="0.6000000000000001" stroke-linecap="butt"/>
<text x="379.30" y="250.78" font-size="3.1" text-anchor="end" fill="#444" >1</text>
<line x1="380.10" y1="274.79" x2="382.10" y2="274.79" stroke="#222" stroke-width="0.6000000000000001" stroke-linecap="butt"/>
<text x="379.30" y="275.91" font-size="3.1" text-anchor="end" fill="#444" >0</text>
<line x1="393.80" y1="235.20" x2="393.80" y2="231.40" stroke="#111" stroke-width="1.0" stroke-linecap="butt"/>
<line x1="389.30" y1="231.40" x2="398.30" y2="231.40" stroke="#111" stroke-width="1.0" stroke-linecap="butt"/>
<rect x="386.40" y="235.70" width="14.80" height="39.10" fill="#ffffff" stroke="#111" stroke-width="1.0"/>
<line x1="416.85" y1="250.80" x2="416.85" y2="243.10" stroke="#111" stroke-width="1.0" stroke-linecap="butt"/>
<line x1="412.35" y1="243.10" x2="421.35" y2="243.10" stroke="#111" stroke-width="1.0" stroke-linecap="butt"/>
<rect x="409.40" y="251.30" width="14.90" height="23.50" fill="#0a0a0a" stroke="#111" stroke-width="1.0"/>
<line x1="440.55" y1="230.60" x2="440.55" y2="221.40" stroke="#111" stroke-width="1.0" stroke-linecap="butt"/>
<line x1="436.05" y1="221.40" x2="445.05" y2="221.40" stroke="#111" stroke-width="1.0" stroke-linecap="butt"/>
<rect x="433.10" y="231.10" width="14.90" height="43.70" fill="#6e6e6e" stroke="#111" stroke-width="1.0"/>
<line x1="382.10" y1="274.80" x2="451.60" y2="274.80" stroke="#111" stroke-width="1.2" stroke-linecap="butt"/>
<line x1="393.80" y1="274.80" x2="393.80" y2="276.80" stroke="#111" stroke-width="0.84" stroke-linecap="butt"/>
<line x1="416.80" y1="274.80" x2="416.80" y2="276.80" stroke="#111" stroke-width="0.84" stroke-linecap="butt"/>
<line x1="440.50" y1="274.80" x2="440.50" y2="276.80" stroke="#111" stroke-width="0.84" stroke-linecap="butt"/>
<path d="M420.50 196.90V191.00H444.10V196.90" fill="none" stroke="#111" stroke-width="1.2" stroke-linejoin="miter"/>
<text x="432.00" y="186.56" font-size="4.9" text-anchor="middle" fill="#111" stroke="#111" stroke-width="0.137" >N S</text>
<rect x="466.3" y="178.75" width="7.5" height="7.5" fill="#0a0a0a"/>
<rect x="468.6" y="181.00" width="3.0" height="3.0" fill="#ffffff"/>
<text x="474.50" y="186.75" font-size="6.8" fill="#111" stroke="#111" stroke-width="0.190" >No stimulation</text>
<rect x="466.3" y="191.85" width="7.5" height="7.5" fill="#0a0a0a"/>
<rect x="468.6" y="194.10" width="3.0" height="3.0" fill="#0a0a0a"/>
<text x="474.50" y="197.35" font-size="6.8" fill="#111" stroke="#111" stroke-width="0.190" >B6 allogeneic</text>
<rect x="466.3" y="203.25" width="7.5" height="7.5" fill="#0a0a0a"/>
<rect x="468.6" y="205.50" width="3.0" height="3.0" fill="#8a8a8a"/>
<text x="474.50" y="208.85" font-size="6.8" fill="#111" stroke="#111" stroke-width="0.190" >Ik <tspan font-size="3.94" dy="-3.06" stroke-width="0.06">-/-</tspan><tspan dy="3.06" font-size="6.8">&#8203;</tspan></text>
<text x="472.60" y="270.45" font-size="6.8" fill="#111" stroke="#111" stroke-width="0.190" >*<tspan font-style="italic">P</tspan>&lt;.05</text>
<text x="7.40" y="299.82" font-size="12.0" font-weight="bold" fill="#000" stroke="#000" stroke-width="0.3">D</text>
<text x="43.10" y="318.57" font-size="7.7" text-anchor="middle" fill="#111" stroke="#111" stroke-width="0.216" >WT</text>
<text x="44.70" y="329.05" font-size="3.75" text-anchor="middle" fill="#111" stroke="#111" stroke-width="0.105" >Gate: (P1 in all)</text>
<rect x="18.20" y="330.40" width="52.20" height="67.00" fill="none" stroke="#222" stroke-width="0.7"/>
<polygon points="33.00,397.40 34.70,396.80 35.80,391.00 36.90,384.70 37.60,376.00 38.30,366.80 39.00,358.00 39.70,350.70 40.20,356.00 40.70,354.90 41.30,360.00 41.90,364.40 42.80,368.60 43.40,365.40 43.90,370.50 44.70,372.60 45.50,375.20 46.10,379.60 46.70,381.20 47.60,385.00 48.50,387.10 49.20,385.00 49.80,380.00 50.40,373.00 50.90,364.00 51.40,352.00 51.80,340.00 52.00,330.40 56.60,330.40 56.80,352.00 57.10,368.00 57.50,381.20 58.10,387.00 58.70,391.00 59.60,394.50 60.60,396.80 62.00,397.40" fill="#050505" stroke="#050505" stroke-width="0.4" stroke-linejoin="round"/>
<line x1="25.20" y1="396.90" x2="67.90" y2="396.90" stroke="#111" stroke-width="1.0" stroke-linecap="butt"/>
<line x1="26.40" y1="362.40" x2="51.40" y2="362.40" stroke="#333" stroke-width="0.55" stroke-linecap="butt"/>
<line x1="26.40" y1="360.20" x2="26.40" y2="365.60" stroke="#333" stroke-width="0.55" stroke-linecap="butt"/>
<text x="27.30" y="355.24" font-size="2.9" fill="#222" >M1</text>
<text x="27.30" y="360.44" font-size="2.9" fill="#222" >7.7%</text>
<text x="24.60" y="340.65" font-size="6.8" fill="#111" stroke="#111" stroke-width="0.190" >7.7%</text>
<line x1="16.60" y1="330.60" x2="18.20" y2="330.60" stroke="#111" stroke-width="0.7" stroke-linecap="butt"/>
<text x="15.90" y="330.60" font-size="3.3" fill="#111" stroke="#111" stroke-width="0.1" text-anchor="middle" transform="rotate(-90 15.90 330.60)">12</text>
<line x1="16.60" y1="339.20" x2="18.20" y2="339.20" stroke="#111" stroke-width="0.7" stroke-linecap="butt"/>
<text x="15.90" y="339.20" font-size="3.3" fill="#111" stroke="#111" stroke-width="0.1" text-anchor="middle" transform="rotate(-90 15.90 339.20)">10</text>
<line x1="16.60" y1="359.00" x2="18.20" y2="359.00" stroke="#111" stroke-width="0.7" stroke-linecap="butt"/>
<text x="15.90" y="359.00" font-size="3.3" fill="#111" stroke="#111" stroke-width="0.1" text-anchor="middle" transform="rotate(-90 15.90 359.00)">6</text>
<line x1="16.60" y1="377.70" x2="18.20" y2="377.70" stroke="#111" stroke-width="0.7" stroke-linecap="butt"/>
<text x="15.90" y="377.70" font-size="3.3" fill="#111" stroke="#111" stroke-width="0.1" text-anchor="middle" transform="rotate(-90 15.90 377.70)">2</text>
<line x1="16.60" y1="397.30" x2="18.20" y2="397.30" stroke="#111" stroke-width="0.7" stroke-linecap="butt"/>
<text x="15.90" y="397.30" font-size="3.3" fill="#111" stroke="#111" stroke-width="0.1" text-anchor="middle" transform="rotate(-90 15.90 397.30)">0</text>
<text x="11.20" y="372" font-size="3.7" fill="#111" stroke="#111" stroke-width="0.12" text-anchor="middle" transform="rotate(-90 11.20 372)">Count</text>
<line x1="18.20" y1="397.40" x2="18.20" y2="398.90" stroke="#111" stroke-width="0.7" stroke-linecap="butt"/>
<line x1="26.90" y1="397.40" x2="26.90" y2="398.90" stroke="#111" stroke-width="0.7" stroke-linecap="butt"/>
<line x1="35.60" y1="397.40" x2="35.60" y2="398.90" stroke="#111" stroke-width="0.7" stroke-linecap="butt"/>
<line x1="44.30" y1="397.40" x2="44.30" y2="398.90" stroke="#111" stroke-width="0.7" stroke-linecap="butt"/>
<line x1="53.00" y1="397.40" x2="53.00" y2="398.90" stroke="#111" stroke-width="0.7" stroke-linecap="butt"/>
<line x1="61.70" y1="397.40" x2="61.70" y2="398.90" stroke="#111" stroke-width="0.7" stroke-linecap="butt"/>
<line x1="70.40" y1="397.40" x2="70.40" y2="398.90" stroke="#111" stroke-width="0.7" stroke-linecap="butt"/>
<text x="19.40" y="401.40" font-size="3.3" fill="#000" stroke="#000" stroke-width="0.12" text-anchor="end" transform="rotate(-45 19.40 401.40)">10<tspan font-size="2.47" dy="-1.39" stroke-width="0.06">1</tspan><tspan dy="1.39" font-size="3.3">&#8203;</tspan></text>
<text x="28.10" y="401.40" font-size="3.3" fill="#000" stroke="#000" stroke-width="0.12" text-anchor="end" transform="rotate(-45 28.10 401.40)">10<tspan font-size="2.47" dy="-1.39" stroke-width="0.06">2</tspan><tspan dy="1.39" font-size="3.3">&#8203;</tspan></text>
<text x="36.80" y="401.40" font-size="3.3" fill="#000" stroke="#000" stroke-width="0.12" text-anchor="end" transform="rotate(-45 36.80 401.40)">10<tspan font-size="2.47" dy="-1.39" stroke-width="0.06">3</tspan><tspan dy="1.39" font-size="3.3">&#8203;</tspan></text>
<text x="45.50" y="401.40" font-size="3.3" fill="#000" stroke="#000" stroke-width="0.12" text-anchor="end" transform="rotate(-45 45.50 401.40)">10<tspan font-size="2.47" dy="-1.39" stroke-width="0.06">4</tspan><tspan dy="1.39" font-size="3.3">&#8203;</tspan></text>
<text x="54.20" y="401.40" font-size="3.3" fill="#000" stroke="#000" stroke-width="0.12" text-anchor="end" transform="rotate(-45 54.20 401.40)">10<tspan font-size="2.47" dy="-1.39" stroke-width="0.06">5</tspan><tspan dy="1.39" font-size="3.3">&#8203;</tspan></text>
<text x="62.90" y="401.40" font-size="3.3" fill="#000" stroke="#000" stroke-width="0.12" text-anchor="end" transform="rotate(-45 62.90 401.40)">10<tspan font-size="2.47" dy="-1.39" stroke-width="0.06">6</tspan><tspan dy="1.39" font-size="3.3">&#8203;</tspan></text>
<text x="71.60" y="401.40" font-size="3.3" fill="#000" stroke="#000" stroke-width="0.12" text-anchor="end" transform="rotate(-45 71.60 401.40)">10<tspan font-size="2.47" dy="-1.39" stroke-width="0.06">7.2</tspan><tspan dy="1.39" font-size="3.3">&#8203;</tspan></text>
<text x="44.90" y="408.02" font-size="3.1" text-anchor="middle" fill="#111" >CFSE-A</text>
<text x="121.40" y="318.57" font-size="7.7" text-anchor="middle" fill="#111" stroke="#111" stroke-width="0.216" >Ik <tspan font-size="3.85" dy="-3.23" stroke-width="0.06">-/-</tspan><tspan dy="3.23" font-size="7.7">&#8203;</tspan></text>
<text x="121.10" y="329.05" font-size="3.75" text-anchor="middle" fill="#111" stroke="#111" stroke-width="0.105" >Gate: (P1 in all)</text>
<rect x="94.80" y="330.40" width="51.80" height="67.00" fill="none" stroke="#222" stroke-width="0.7"/>
<polygon points="110.50,397.40 112.10,396.70 113.30,389.50 113.90,376.00 114.50,360.80 115.10,348.90 115.70,342.90 116.10,346.50 116.50,347.70 117.30,348.60 118.10,350.70 118.70,356.00 119.30,360.80 120.10,364.00 120.80,366.80 121.60,370.00 122.30,372.80 123.00,376.50 123.70,380.00 124.60,383.50 125.50,382.30 126.00,385.00 126.40,387.10 127.30,382.30 127.80,375.00 128.20,366.80 128.80,349.00 129.20,330.40 132.80,330.40 133.00,360.80 133.30,374.00 133.60,384.70 134.20,390.00 134.80,394.30 136.00,396.80 137.60,397.40" fill="#050505" stroke="#050505" stroke-width="0.4" stroke-linejoin="round"/>
<line x1="101.80" y1="396.90" x2="144.10" y2="396.90" stroke="#111" stroke-width="1.0" stroke-linecap="butt"/>
<line x1="103.10" y1="362.40" x2="128.80" y2="362.40" stroke="#333" stroke-width="0.55" stroke-linecap="butt"/>
<line x1="103.10" y1="360.20" x2="103.10" y2="365.60" stroke="#333" stroke-width="0.55" stroke-linecap="butt"/>
<text x="104.00" y="355.24" font-size="2.9" fill="#222" >M1</text>
<text x="104.00" y="360.44" font-size="2.9" fill="#222" >20.6%</text>
<text x="95.70" y="340.65" font-size="6.8" fill="#111" stroke="#111" stroke-width="0.190" >20.6 %</text>
<line x1="93.20" y1="329.80" x2="94.80" y2="329.80" stroke="#111" stroke-width="0.7" stroke-linecap="butt"/>
<text x="92.50" y="329.80" font-size="3.3" fill="#111" stroke="#111" stroke-width="0.1" text-anchor="middle" transform="rotate(-90 92.50 329.80)">30</text>
<line x1="93.20" y1="353.00" x2="94.80" y2="353.00" stroke="#111" stroke-width="0.7" stroke-linecap="butt"/>
<text x="92.50" y="353.00" font-size="3.3" fill="#111" stroke="#111" stroke-width="0.1" text-anchor="middle" transform="rotate(-90 92.50 353.00)">20</text>
<line x1="93.20" y1="375.50" x2="94.80" y2="375.50" stroke="#111" stroke-width="0.7" stroke-linecap="butt"/>
<text x="92.50" y="375.50" font-size="3.3" fill="#111" stroke="#111" stroke-width="0.1" text-anchor="middle" transform="rotate(-90 92.50 375.50)">10</text>
<line x1="93.20" y1="397.50" x2="94.80" y2="397.50" stroke="#111" stroke-width="0.7" stroke-linecap="butt"/>
<text x="92.50" y="397.50" font-size="3.3" fill="#111" stroke="#111" stroke-width="0.1" text-anchor="middle" transform="rotate(-90 92.50 397.50)">0</text>
<text x="87.80" y="372" font-size="3.7" fill="#111" stroke="#111" stroke-width="0.12" text-anchor="middle" transform="rotate(-90 87.80 372)">Count</text>
<line x1="94.80" y1="397.40" x2="94.80" y2="398.90" stroke="#111" stroke-width="0.7" stroke-linecap="butt"/>
<line x1="103.43" y1="397.40" x2="103.43" y2="398.90" stroke="#111" stroke-width="0.7" stroke-linecap="butt"/>
<line x1="112.07" y1="397.40" x2="112.07" y2="398.90" stroke="#111" stroke-width="0.7" stroke-linecap="butt"/>
<line x1="120.70" y1="397.40" x2="120.70" y2="398.90" stroke="#111" stroke-width="0.7" stroke-linecap="butt"/>
<line x1="129.33" y1="397.40" x2="129.33" y2="398.90" stroke="#111" stroke-width="0.7" stroke-linecap="butt"/>
<line x1="137.97" y1="397.40" x2="137.97" y2="398.90" stroke="#111" stroke-width="0.7" stroke-linecap="butt"/>
<line x1="146.60" y1="397.40" x2="146.60" y2="398.90" stroke="#111" stroke-width="0.7" stroke-linecap="butt"/>
<text x="96.00" y="401.40" font-size="3.3" fill="#000" stroke="#000" stroke-width="0.12" text-anchor="end" transform="rotate(-45 96.00 401.40)">10<tspan font-size="2.47" dy="-1.39" stroke-width="0.06">1</tspan><tspan dy="1.39" font-size="3.3">&#8203;</tspan></text>
<text x="104.63" y="401.40" font-size="3.3" fill="#000" stroke="#000" stroke-width="0.12" text-anchor="end" transform="rotate(-45 104.63 401.40)">10<tspan font-size="2.47" dy="-1.39" stroke-width="0.06">2</tspan><tspan dy="1.39" font-size="3.3">&#8203;</tspan></text>
<text x="113.27" y="401.40" font-size="3.3" fill="#000" stroke="#000" stroke-width="0.12" text-anchor="end" transform="rotate(-45 113.27 401.40)">10<tspan font-size="2.47" dy="-1.39" stroke-width="0.06">3</tspan><tspan dy="1.39" font-size="3.3">&#8203;</tspan></text>
<text x="121.90" y="401.40" font-size="3.3" fill="#000" stroke="#000" stroke-width="0.12" text-anchor="end" transform="rotate(-45 121.90 401.40)">10<tspan font-size="2.47" dy="-1.39" stroke-width="0.06">4</tspan><tspan dy="1.39" font-size="3.3">&#8203;</tspan></text>
<text x="130.53" y="401.40" font-size="3.3" fill="#000" stroke="#000" stroke-width="0.12" text-anchor="end" transform="rotate(-45 130.53 401.40)">10<tspan font-size="2.47" dy="-1.39" stroke-width="0.06">5</tspan><tspan dy="1.39" font-size="3.3">&#8203;</tspan></text>
<text x="139.17" y="401.40" font-size="3.3" fill="#000" stroke="#000" stroke-width="0.12" text-anchor="end" transform="rotate(-45 139.17 401.40)">10<tspan font-size="2.47" dy="-1.39" stroke-width="0.06">6</tspan><tspan dy="1.39" font-size="3.3">&#8203;</tspan></text>
<text x="147.80" y="401.40" font-size="3.3" fill="#000" stroke="#000" stroke-width="0.12" text-anchor="end" transform="rotate(-45 147.80 401.40)">10<tspan font-size="2.47" dy="-1.39" stroke-width="0.06">7.2</tspan><tspan dy="1.39" font-size="3.3">&#8203;</tspan></text>
<text x="121.30" y="408.02" font-size="3.1" text-anchor="middle" fill="#111" >CFSE-A</text>
<text x="197.10" y="318.57" font-size="7.7" text-anchor="middle" fill="#111" stroke="#111" stroke-width="0.216" >IkDN <tspan font-size="3.85" dy="-3.23" stroke-width="0.06">+/-</tspan><tspan dy="3.23" font-size="7.7">&#8203;</tspan></text>
<text x="201.20" y="329.05" font-size="3.75" text-anchor="middle" fill="#111" stroke="#111" stroke-width="0.105" >Gate: (P1 in all)</text>
<rect x="172.60" y="330.40" width="56.40" height="67.00" fill="none" stroke="#222" stroke-width="0.7"/>
<polygon points="188.00,397.40 190.30,396.70 191.50,389.50 192.10,381.00 192.70,372.80 193.50,360.80 194.50,346.50 195.30,338.70 195.80,344.00 196.30,348.90 197.00,353.00 197.70,356.10 198.40,351.30 198.70,358.00 199.00,364.40 199.80,365.40 200.50,366.20 201.30,372.80 202.10,375.40 202.90,377.60 203.60,380.30 204.30,382.30 205.00,381.20 205.50,381.60 206.40,384.70 207.00,383.00 207.60,380.00 208.10,374.00 208.50,366.80 209.20,349.00 209.40,330.40 213.60,330.40 213.80,361.00 214.10,374.00 214.40,384.70 215.20,390.00 216.00,394.30 217.20,396.70 219.00,397.40" fill="#050505" stroke="#050505" stroke-width="0.4" stroke-linejoin="round"/>
<line x1="179.60" y1="396.90" x2="226.50" y2="396.90" stroke="#111" stroke-width="1.0" stroke-linecap="butt"/>
<line x1="181.60" y1="362.40" x2="208.80" y2="362.40" stroke="#333" stroke-width="0.55" stroke-linecap="butt"/>
<line x1="181.60" y1="360.20" x2="181.60" y2="365.60" stroke="#333" stroke-width="0.55" stroke-linecap="butt"/>
<text x="182.50" y="355.24" font-size="2.9" fill="#222" >M1</text>
<text x="182.50" y="360.44" font-size="2.9" fill="#222" >21.7%</text>
<text x="178.10" y="340.65" font-size="6.8" fill="#111" stroke="#111" stroke-width="0.190" >21.7 %</text>
<line x1="171.00" y1="329.80" x2="172.60" y2="329.80" stroke="#111" stroke-width="0.7" stroke-linecap="butt"/>
<text x="170.30" y="329.80" font-size="3.3" fill="#111" stroke="#111" stroke-width="0.1" text-anchor="middle" transform="rotate(-90 170.30 329.80)">30</text>
<line x1="171.00" y1="353.00" x2="172.60" y2="353.00" stroke="#111" stroke-width="0.7" stroke-linecap="butt"/>
<text x="170.30" y="353.00" font-size="3.3" fill="#111" stroke="#111" stroke-width="0.1" text-anchor="middle" transform="rotate(-90 170.30 353.00)">20</text>
<line x1="171.00" y1="375.50" x2="172.60" y2="375.50" stroke="#111" stroke-width="0.7" stroke-linecap="butt"/>
<text x="170.30" y="375.50" font-size="3.3" fill="#111" stroke="#111" stroke-width="0.1" text-anchor="middle" transform="rotate(-90 170.30 375.50)">10</text>
<line x1="171.00" y1="397.50" x2="172.60" y2="397.50" stroke="#111" stroke-width="0.7" stroke-linecap="butt"/>
<text x="170.30" y="397.50" font-size="3.3" fill="#111" stroke="#111" stroke-width="0.1" text-anchor="middle" transform="rotate(-90 170.30 397.50)">0</text>
<text x="165.60" y="372" font-size="3.7" fill="#111" stroke="#111" stroke-width="0.12" text-anchor="middle" transform="rotate(-90 165.60 372)">Count</text>
<line x1="172.60" y1="397.40" x2="172.60" y2="398.90" stroke="#111" stroke-width="0.7" stroke-linecap="butt"/>
<line x1="182.00" y1="397.40" x2="182.00" y2="398.90" stroke="#111" stroke-width="0.7" stroke-linecap="butt"/>
<line x1="191.40" y1="397.40" x2="191.40" y2="398.90" stroke="#111" stroke-width="0.7" stroke-linecap="butt"/>
<line x1="200.80" y1="397.40" x2="200.80" y2="398.90" stroke="#111" stroke-width="0.7" stroke-linecap="butt"/>
<line x1="210.20" y1="397.40" x2="210.20" y2="398.90" stroke="#111" stroke-width="0.7" stroke-linecap="butt"/>
<line x1="219.60" y1="397.40" x2="219.60" y2="398.90" stroke="#111" stroke-width="0.7" stroke-linecap="butt"/>
<line x1="229.00" y1="397.40" x2="229.00" y2="398.90" stroke="#111" stroke-width="0.7" stroke-linecap="butt"/>
<text x="173.80" y="401.40" font-size="3.3" fill="#000" stroke="#000" stroke-width="0.12" text-anchor="end" transform="rotate(-45 173.80 401.40)">10<tspan font-size="2.47" dy="-1.39" stroke-width="0.06">1</tspan><tspan dy="1.39" font-size="3.3">&#8203;</tspan></text>
<text x="183.20" y="401.40" font-size="3.3" fill="#000" stroke="#000" stroke-width="0.12" text-anchor="end" transform="rotate(-45 183.20 401.40)">10<tspan font-size="2.47" dy="-1.39" stroke-width="0.06">2</tspan><tspan dy="1.39" font-size="3.3">&#8203;</tspan></text>
<text x="192.60" y="401.40" font-size="3.3" fill="#000" stroke="#000" stroke-width="0.12" text-anchor="end" transform="rotate(-45 192.60 401.40)">10<tspan font-size="2.47" dy="-1.39" stroke-width="0.06">3</tspan><tspan dy="1.39" font-size="3.3">&#8203;</tspan></text>
<text x="202.00" y="401.40" font-size="3.3" fill="#000" stroke="#000" stroke-width="0.12" text-anchor="end" transform="rotate(-45 202.00 401.40)">10<tspan font-size="2.47" dy="-1.39" stroke-width="0.06">4</tspan><tspan dy="1.39" font-size="3.3">&#8203;</tspan></text>
<text x="211.40" y="401.40" font-size="3.3" fill="#000" stroke="#000" stroke-width="0.12" text-anchor="end" transform="rotate(-45 211.40 401.40)">10<tspan font-size="2.47" dy="-1.39" stroke-width="0.06">5</tspan><tspan dy="1.39" font-size="3.3">&#8203;</tspan></text>
<text x="220.80" y="401.40" font-size="3.3" fill="#000" stroke="#000" stroke-width="0.12" text-anchor="end" transform="rotate(-45 220.80 401.40)">10<tspan font-size="2.47" dy="-1.39" stroke-width="0.06">6</tspan><tspan dy="1.39" font-size="3.3">&#8203;</tspan></text>
<text x="230.20" y="401.40" font-size="3.3" fill="#000" stroke="#000" stroke-width="0.12" text-anchor="end" transform="rotate(-45 230.20 401.40)">10<tspan font-size="2.47" dy="-1.39" stroke-width="0.06">7.2</tspan><tspan dy="1.39" font-size="3.3">&#8203;</tspan></text>
<text x="201.40" y="408.02" font-size="3.1" text-anchor="middle" fill="#111" >CFSE-A</text>
<text x="285.60" y="318.37" font-size="7.7" text-anchor="middle" fill="#111" stroke="#111" stroke-width="0.216" >WT</text>
<text x="283.70" y="329.30" font-size="5.0" text-anchor="middle" fill="#222" stroke="#222" stroke-width="0.140" >Gate: (M1 in (P1 in all))</text>
<rect x="247.80" y="330.40" width="71.80" height="67.00" fill="none" stroke="#222" stroke-width="0.7"/>
<line x1="247.80" y1="350.40" x2="319.60" y2="350.40" stroke="#333" stroke-width="0.6" stroke-linecap="butt"/>
<line x1="247.80" y1="365.40" x2="319.60" y2="365.40" stroke="#333" stroke-width="0.6" stroke-linecap="butt"/>
<text x="249.30" y="348.85" font-size="6.8" fill="#111" stroke="#111" stroke-width="0.190" >2.4%</text>
<path d="M273.2 374.2h.6M275.7 377.2h.6M275.5 377.0h.6M285.2 382.5h.6M281.8 372.0h.6M288.2 376.3h.6M285.2 372.6h.6M278.9 377.2h.6M280.0 378.3h.6M274.3 380.1h.6M277.6 373.9h.6M283.7 375.4h.6M295.5 364.0h.6M285.8 377.4h.6M284.9 380.2h.6M281.8 374.3h.6M284.1 364.2h.6M283.0 375.1h.6M282.1 366.0h.6M287.6 370.8h.6M275.9 385.9h.6M289.3 376.7h.6M285.3 379.9h.6M276.8 375.9h.6M279.8 375.4h.6M290.3 377.6h.6M278.9 387.4h.6M276.8 393.6h.6M275.1 382.0h.6M297.2 382.6h.6M279.7 383.9h.6M279.6 378.8h.6M277.9 376.0h.6M283.8 378.0h.6M276.2 365.3h.6M282.4 382.9h.6M282.9 373.7h.6M279.5 368.4h.6M286.3 375.0h.6M285.3 375.4h.6M282.3 376.7h.6M286.7 383.0h.6M286.3 377.2h.6M289.7 375.8h.6M290.5 369.3h.6M281.9 376.1h.6M279.6 381.5h.6M281.4 380.7h.6M289.7 377.6h.6M289.7 377.6h.6M285.0 373.1h.6M287.0 378.3h.6M287.8 374.2h.6M280.2 375.2h.6M281.3 377.4h.6M279.4 369.3h.6M284.9 366.6h.6M275.6 388.0h.6M285.3 373.3h.6M286.1 371.5h.6M282.9 378.5h.6M292.3 377.6h.6M291.1 356.7h.6M279.6 372.4h.6M280.7 376.0h.6M292.6 375.6h.6M280.6 383.2h.6M274.6 371.8h.6M282.7 377.6h.6M287.8 377.1h.6M277.5 372.1h.6M276.9 388.7h.6M274.7 380.3h.6M285.3 373.9h.6M286.1 376.7h.6M283.2 371.1h.6M290.2 373.3h.6M277.6 378.3h.6M276.2 380.1h.6M277.6 384.1h.6M281.7 365.2h.6M280.6 376.6h.6M283.7 372.7h.6M284.2 379.4h.6M285.9 378.5h.6M280.6 378.3h.6M281.4 376.5h.6M290.7 363.5h.6M288.5 379.4h.6M283.6 377.7h.6M288.4 377.7h.6M278.7 373.0h.6M287.2 369.8h.6M283.1 377.1h.6M280.5 375.0h.6M275.1 371.5h.6M274.0 374.1h.6M287.3 376.0h.6M288.9 381.5h.6M275.0 369.6h.6M287.3 371.1h.6M273.7 361.6h.6M285.3 373.4h.6M283.0 379.4h.6M287.6 369.1h.6M280.4 376.1h.6M283.5 384.9h.6M283.2 382.2h.6M279.0 370.2h.6M291.6 372.6h.6M287.6 366.9h.6M278.7 383.3h.6M279.0 373.1h.6M285.4 378.6h.6M284.3 375.9h.6M288.2 377.1h.6M288.6 379.8h.6M279.4 376.8h.6M278.0 363.7h.6M274.6 375.5h.6M291.8 376.7h.6M287.0 375.1h.6M278.4 377.7h.6M282.8 369.9h.6M279.1 379.7h.6M289.0 373.3h.6M284.9 379.6h.6M278.9 374.3h.6M278.9 376.2h.6M290.6 378.2h.6M281.3 381.8h.6M277.7 380.2h.6M281.2 379.6h.6M283.7 370.1h.6M272.0 369.4h.6M279.7 370.5h.6M278.9 384.9h.6M284.0 383.0h.6M286.9 376.5h.6M271.7 385.2h.6M276.0 380.7h.6M281.5 382.9h.6M283.9 378.2h.6M280.2 372.9h.6M287.6 376.0h.6M283.9 378.5h.6M278.4 376.5h.6M281.7 384.4h.6M286.4 363.0h.6M283.4 376.1h.6M277.9 386.4h.6M276.1 379.6h.6M278.1 370.4h.6M275.0 379.2h.6M280.6 379.5h.6M286.7 378.2h.6M277.7 364.6h.6M282.3 377.9h.6M285.8 376.7h.6M284.5 374.1h.6M283.4 371.9h.6M287.7 371.0h.6M281.6 371.3h.6M290.5 376.2h.6M283.0 377.6h.6M284.8 372.1h.6M281.3 358.9h.6M282.3 372.0h.6M284.6 377.4h.6M287.9 361.6h.6M276.1 373.3h.6M279.2 378.1h.6M279.0 378.6h.6M283.4 374.7h.6M284.1 376.4h.6M276.9 354.7h.6M275.6 373.7h.6M281.7 376.4h.6M281.8 381.3h.6M296.4 378.4h.6M275.7 376.5h.6M279.0 382.8h.6M285.6 381.5h.6M282.4 377.7h.6M283.0 382.7h.6M284.3 373.6h.6M287.7 376.8h.6M282.8 375.1h.6M282.4 376.9h.6M284.7 375.1h.6M285.8 376.5h.6M291.4 378.7h.6M280.3 378.6h.6M282.5 380.3h.6M283.9 375.4h.6M280.6 378.3h.6M287.9 377.3h.6M287.2 376.7h.6M282.8 368.6h.6M279.3 383.1h.6M282.0 370.9h.6M288.2 377.6h.6M294.6 357.1h.6M282.4 378.5h.6M278.9 376.2h.6M281.2 378.1h.6M281.4 372.4h.6M277.8 377.8h.6M279.8 370.1h.6M284.3 382.1h.6M287.3 371.2h.6M279.7 384.3h.6M274.5 368.0h.6M274.9 375.5h.6M275.8 382.1h.6M280.9 376.3h.6M276.6 375.7h.6M284.8 382.0h.6M281.1 382.8h.6M278.3 383.2h.6M286.5 376.9h.6M279.5 373.8h.6M278.9 372.6h.6M293.3 372.8h.6M280.9 374.3h.6M274.0 382.6h.6M281.1 386.0h.6M277.9 380.3h.6M281.4 382.0h.6M270.0 375.3h.6M290.2 381.3h.6M280.8 380.5h.6M276.0 376.1h.6M277.7 354.1h.6M274.6 375.5h.6M284.6 380.4h.6M288.3 384.3h.6M279.9 371.9h.6M281.0 383.8h.6M280.3 373.6h.6M284.7 376.3h.6M275.0 376.0h.6M290.7 372.0h.6M275.1 366.2h.6M287.3 365.3h.6M279.4 357.8h.6M288.4 369.8h.6M283.2 382.4h.6M281.4 367.4h.6M277.6 378.8h.6M288.8 366.6h.6M276.7 372.1h.6M283.3 379.0h.6M288.0 373.7h.6M280.9 379.8h.6M279.1 372.4h.6M281.0 380.2h.6M280.1 374.1h.6M281.5 373.4h.6M285.4 371.9h.6M272.3 374.6h.6M280.2 378.6h.6M285.9 357.9h.6M277.4 377.1h.6M281.6 360.1h.6M277.0 378.0h.6M279.1 368.9h.6M281.6 380.2h.6M282.6 374.0h.6M290.3 374.2h.6M283.2 382.7h.6M282.7 370.8h.6M285.1 381.8h.6M290.9 377.4h.6M284.1 376.0h.6M277.5 391.4h.6M281.2 376.6h.6M282.9 388.0h.6M283.3 383.4h.6M279.5 378.8h.6M275.0 378.6h.6M279.4 375.7h.6M271.9 379.8h.6M280.5 377.9h.6M279.4 374.7h.6M286.4 374.6h.6M285.2 359.9h.6M286.0 378.7h.6M279.1 380.7h.6M278.8 374.9h.6M279.7 374.0h.6M275.1 360.1h.6M280.7 375.9h.6M284.0 380.6h.6M288.8 378.6h.6M278.8 377.1h.6M280.9 379.0h.6M286.5 381.2h.6M275.4 377.0h.6M283.6 372.2h.6M279.5 377.8h.6M277.2 367.2h.6M276.6 370.2h.6M278.6 380.4h.6M290.2 377.2h.6M281.4 370.5h.6M290.9 381.0h.6M275.7 376.8h.6M283.2 382.1h.6M274.5 363.3h.6M287.6 376.2h.6M275.6 374.7h.6M282.7 375.8h.6M286.1 384.6h.6M283.3 374.7h.6M283.9 373.1h.6M292.1 378.2h.6M292.6 380.4h.6M281.9 375.7h.6M288.3 371.8h.6M280.7 377.8h.6M287.6 376.7h.6M284.8 380.8h.6M282.9 378.6h.6M285.0 379.4h.6M282.0 380.3h.6M289.3 379.3h.6M277.4 376.0h.6M293.1 376.0h.6M284.2 376.1h.6M276.2 380.2h.6M287.4 366.7h.6M286.1 377.2h.6M275.6 383.2h.6M291.2 371.2h.6M273.7 380.8h.6M284.8 379.5h.6M280.1 368.8h.6M285.1 380.2h.6M282.5 380.3h.6M279.2 378.2h.6M283.9 373.8h.6M278.1 379.1h.6M287.1 372.2h.6M289.9 370.8h.6M282.8 391.1h.6M288.6 373.2h.6M286.3 385.4h.6M288.5 364.4h.6M279.5 378.6h.6M283.4 372.0h.6M279.2 376.8h.6M282.2 375.5h.6M288.1 373.2h.6M280.7 380.5h.6M284.2 375.9h.6M276.9 385.6h.6M287.6 368.8h.6M278.6 375.6h.6M283.7 380.0h.6M283.5 383.5h.6M280.3 375.0h.6M291.2 372.5h.6M280.5 380.6h.6M287.9 377.1h.6M277.1 371.6h.6M276.5 370.7h.6M287.5 378.3h.6M278.6 373.7h.6M297.1 381.4h.6M276.1 376.6h.6M277.9 375.6h.6M280.4 375.9h.6M280.1 374.5h.6M278.0 376.7h.6M282.6 378.7h.6M280.0 373.7h.6M277.2 378.9h.6M284.6 371.0h.6M288.0 369.0h.6M282.7 372.6h.6M281.9 376.7h.6M285.2 387.7h.6M274.9 379.8h.6M282.1 373.6h.6M280.8 382.3h.6M284.2 378.5h.6M279.3 370.3h.6M280.4 378.0h.6M276.8 379.0h.6M280.4 376.0h.6M274.2 375.0h.6M281.3 383.1h.6M282.7 378.3h.6M283.7 373.8h.6M293.6 378.9h.6M279.9 379.6h.6M290.6 367.3h.6M277.4 379.3h.6M280.9 377.2h.6M280.7 366.3h.6M274.9 379.1h.6M280.4 385.4h.6M277.9 379.4h.6M280.7 377.9h.6M284.8 353.0h.6M279.9 382.2h.6M272.8 379.5h.6M275.3 386.6h.6M291.1 375.6h.6M290.6 375.9h.6M290.7 369.8h.6M275.2 380.6h.6M273.3 387.8h.6M278.8 379.4h.6M281.1 379.6h.6M277.3 378.1h.6M284.8 377.2h.6M282.7 386.0h.6M278.9 374.0h.6M282.0 377.7h.6M274.3 382.8h.6M286.5 378.7h.6M282.8 376.0h.6M278.8 362.8h.6M278.6 380.8h.6M282.1 375.1h.6M279.0 378.6h.6M280.1 378.5h.6M279.3 376.9h.6M276.4 379.6h.6M279.3 374.6h.6M285.8 372.2h.6M279.0 383.3h.6M275.1 382.4h.6M279.2 380.8h.6M280.7 377.6h.6M280.0 371.0h.6M281.3 374.4h.6M282.9 390.1h.6M295.1 371.8h.6M279.1 376.2h.6M279.1 378.2h.6M278.2 381.3h.6M281.8 380.6h.6M282.4 382.3h.6M282.4 379.3h.6M282.5 381.5h.6M280.8 372.1h.6M277.6 379.7h.6M279.1 378.1h.6M276.9 375.2h.6M280.0 378.2h.6M283.2 374.3h.6M279.0 375.3h.6M274.0 371.1h.6M273.2 373.2h.6M275.2 371.4h.6M277.8 378.9h.6M285.3 373.9h.6M284.1 379.9h.6M278.9 380.8h.6M286.3 368.1h.6M279.0 374.9h.6M276.9 376.4h.6M275.4 377.6h.6M277.1 374.0h.6M286.3 377.6h.6M282.1 375.2h.6M284.8 367.8h.6M285.6 360.7h.6M281.6 374.7h.6M278.8 383.6h.6M280.2 380.3h.6M281.7 381.5h.6M281.1 378.0h.6M279.6 375.6h.6M280.5 373.1h.6M284.3 371.7h.6M279.9 381.9h.6M273.6 386.4h.6M279.4 374.1h.6M280.4 370.1h.6M275.3 375.7h.6M281.3 368.3h.6M285.1 384.1h.6M287.3 377.3h.6M273.5 372.8h.6M290.1 372.4h.6M277.8 374.6h.6M282.9 378.7h.6M287.9 375.3h.6M278.8 365.4h.6M279.6 378.2h.6M276.9 377.8h.6M281.9 370.5h.6M276.6 380.7h.6M286.9 378.0h.6M279.8 372.0h.6M280.7 379.0h.6M280.9 387.6h.6M279.7 378.1h.6M290.6 379.5h.6M280.5 381.7h.6M279.9 378.6h.6M282.2 375.4h.6M281.5 381.4h.6M287.6 377.8h.6M275.0 380.9h.6M283.8 379.1h.6M284.6 371.8h.6M293.7 360.8h.6M282.6 372.1h.6M281.9 377.8h.6M282.7 379.0h.6M285.1 379.5h.6M282.0 386.7h.6M274.3 376.2h.6M280.4 371.4h.6M285.8 367.6h.6M295.9 374.6h.6M279.3 374.6h.6M288.8 380.3h.6M277.7 379.8h.6M288.5 370.3h.6M284.9 377.4h.6M279.8 381.9h.6M279.9 374.8h.6M280.9 372.4h.6M281.4 378.7h.6M279.6 377.6h.6M277.7 379.3h.6M282.1 376.6h.6M276.7 390.2h.6M283.4 377.1h.6M285.2 371.4h.6M288.5 377.7h.6M290.5 373.1h.6M274.0 386.4h.6M277.9 374.6h.6M288.4 380.6h.6M286.2 370.6h.6M278.6 376.6h.6M278.6 371.2h.6M283.4 376.6h.6M276.6 374.5h.6M284.4 378.5h.6M276.4 374.6h.6M284.9 385.8h.6M283.6 358.4h.6M291.3 374.1h.6M293.7 395.2h.6M280.6 384.6h.6M294.3 371.1h.6M262.0 377.2h.6M283.5 373.0h.6M281.2 373.5h.6M281.4 375.5h.6M279.2 376.2h.6M288.1 369.2h.6M281.9 370.3h.6M268.6 373.9h.6M284.3 384.7h.6M282.9 378.2h.6M282.5 375.7h.6M275.2 382.2h.6M288.3 373.4h.6M286.3 373.9h.6M280.4 374.0h.6M286.3 374.7h.6M278.2 382.3h.6M276.1 373.9h.6M283.4 381.6h.6M281.1 378.8h.6M279.7 360.2h.6M284.9 377.2h.6M284.7 377.4h.6M282.7 381.7h.6M281.4 373.9h.6M272.4 377.0h.6M279.3 374.7h.6M285.1 383.5h.6M282.9 372.9h.6M282.9 375.9h.6M283.3 371.4h.6M277.7 378.9h.6M282.6 376.5h.6M285.5 371.4h.6M284.6 383.4h.6M277.4 379.1h.6M285.7 370.8h.6M285.5 382.1h.6M278.0 380.2h.6M285.1 370.7h.6M282.2 378.4h.6M283.1 375.2h.6M278.1 382.6h.6M298.3 372.1h.6M275.1 372.4h.6M282.6 359.2h.6M276.8 378.3h.6M289.5 388.0h.6M278.8 378.9h.6M279.9 375.8h.6M277.3 373.1h.6M286.8 382.8h.6M287.3 372.1h.6M286.3 378.1h.6M285.1 363.5h.6M276.1 376.4h.6M280.7 374.3h.6M282.9 380.9h.6M283.3 379.8h.6M280.4 374.6h.6M282.1 378.3h.6M276.7 375.9h.6M290.3 387.8h.6M283.8 376.5h.6M275.1 372.5h.6M283.2 364.9h.6M282.2 371.8h.6M289.9 379.1h.6M282.1 379.5h.6M276.8 353.8h.6M278.9 378.2h.6M285.5 382.9h.6M275.3 377.8h.6M288.3 375.7h.6M282.6 375.2h.6M279.8 374.5h.6M276.7 379.3h.6M276.8 379.2h.6M280.6 376.2h.6M276.9 376.3h.6M282.5 379.5h.6M277.7 377.7h.6M286.4 374.4h.6M280.4 377.3h.6M290.9 373.3h.6M284.6 377.3h.6M283.9 372.3h.6M274.7 376.8h.6M282.0 379.0h.6M281.0 373.6h.6M277.0 382.4h.6M297.4 381.2h.6M278.5 384.7h.6M283.1 368.5h.6M280.1 376.2h.6M277.9 371.0h.6M296.7 375.9h.6M286.6 374.2h.6M281.5 377.8h.6M286.1 363.0h.6M271.7 383.5h.6M276.8 378.7h.6M277.8 383.0h.6M284.5 382.2h.6M285.0 373.7h.6M277.1 386.2h.6M289.6 372.9h.6M274.0 375.8h.6M282.5 374.3h.6M277.2 378.9h.6M291.4 372.1h.6M281.4 379.6h.6M279.9 375.1h.6M288.1 378.5h.6M277.5 381.5h.6M276.8 380.6h.6M276.0 386.6h.6M282.8 377.0h.6M287.3 378.0h.6M284.1 372.8h.6M281.4 374.1h.6M281.7 377.0h.6M296.1 372.9h.6M277.7 377.6h.6M289.9 376.8h.6M290.1 381.4h.6M283.4 373.1h.6M285.2 375.4h.6M289.6 386.5h.6M281.2 381.9h.6M292.2 379.8h.6M294.7 368.2h.6M280.2 382.9h.6M284.9 383.2h.6M286.7 377.9h.6M277.6 376.7h.6M280.0 379.4h.6M279.6 380.5h.6M273.5 377.0h.6M284.0 371.6h.6M280.4 372.4h.6M276.2 370.2h.6M280.9 381.4h.6M274.1 388.9h.6M277.1 378.5h.6M291.7 372.5h.6M285.2 377.1h.6M295.0 375.0h.6M295.1 378.7h.6M278.5 376.6h.6M279.6 377.6h.6M279.4 376.2h.6M271.8 372.7h.6M291.5 368.0h.6M283.5 379.6h.6M277.0 376.8h.6M281.6 383.0h.6M278.7 377.5h.6M272.0 373.8h.6M289.3 377.3h.6M277.8 368.8h.6M297.0 359.5h.6M282.1 378.3h.6M275.9 374.3h.6M279.6 367.4h.6M272.0 376.2h.6M284.9 382.3h.6M285.5 364.7h.6M278.3 370.5h.6M287.4 366.1h.6M285.2 380.2h.6M287.1 358.2h.6M279.7 377.9h.6M280.4 388.8h.6M277.5 382.3h.6M280.6 385.2h.6M281.4 379.8h.6M280.6 374.1h.6M278.6 375.0h.6M279.8 385.2h.6M280.3 380.6h.6M279.3 371.8h.6M278.6 378.1h.6M281.1 384.2h.6M283.1 377.2h.6M288.3 371.3h.6M283.7 382.4h.6M275.4 390.2h.6M279.0 382.4h.6M279.3 375.7h.6M276.9 377.4h.6M281.5 376.3h.6M285.9 370.7h.6M273.4 393.4h.6M278.3 368.5h.6M283.2 381.7h.6M278.8 360.8h.6M278.9 378.8h.6M281.1 376.9h.6M279.4 378.4h.6M280.7 379.2h.6M276.0 376.2h.6M266.7 375.9h.6M280.2 378.9h.6M280.5 368.8h.6M281.5 380.3h.6M284.9 382.2h.6M276.1 366.8h.6M277.2 380.0h.6M285.3 364.2h.6M279.4 380.3h.6M282.4 382.9h.6M282.2 377.7h.6M272.3 379.0h.6M280.2 378.0h.6M282.4 378.2h.6M283.8 378.2h.6M285.4 378.3h.6M275.6 375.1h.6M277.2 378.2h.6M283.6 375.9h.6M282.6 377.1h.6M279.6 374.7h.6M292.6 383.7h.6M284.0 380.7h.6M276.5 375.8h.6M275.2 378.2h.6M277.5 377.5h.6M283.8 370.6h.6M276.3 377.5h.6M290.3 373.7h.6M284.9 380.9h.6M282.7 371.4h.6M283.1 374.8h.6M272.7 374.3h.6M277.4 377.8h.6M275.5 378.8h.6M281.3 384.4h.6M294.3 376.7h.6M288.9 367.5h.6M282.2 374.5h.6M279.5 384.2h.6M288.1 380.2h.6" stroke="#222" stroke-width="0.6" stroke-opacity="0.85" fill="none"/>
<text x="287.00" y="368.54" font-size="2.6" fill="#222" >R1</text>
<text x="290.50" y="373.44" font-size="2.6" fill="#222" >2.4%</text>
<line x1="246.20" y1="397.40" x2="247.80" y2="397.40" stroke="#111" stroke-width="0.7" stroke-linecap="butt"/>
<text x="243.40" y="398.00" font-size="3.4" fill="#000" stroke="#000" stroke-width="0.12" text-anchor="middle" transform="rotate(-45 243.40 398.00)">10<tspan font-size="2.47" dy="-1.39" stroke-width="0.06">1</tspan><tspan dy="1.39" font-size="3.3">&#8203;</tspan></text>
<line x1="247.80" y1="397.40" x2="247.80" y2="399.00" stroke="#111" stroke-width="0.7" stroke-linecap="butt"/>
<line x1="246.20" y1="386.23" x2="247.80" y2="386.23" stroke="#111" stroke-width="0.7" stroke-linecap="butt"/>
<text x="243.40" y="386.83" font-size="3.4" fill="#000" stroke="#000" stroke-width="0.12" text-anchor="middle" transform="rotate(-45 243.40 386.83)">10<tspan font-size="2.47" dy="-1.39" stroke-width="0.06">2</tspan><tspan dy="1.39" font-size="3.3">&#8203;</tspan></text>
<line x1="259.77" y1="397.40" x2="259.77" y2="399.00" stroke="#111" stroke-width="0.7" stroke-linecap="butt"/>
<line x1="246.20" y1="375.07" x2="247.80" y2="375.07" stroke="#111" stroke-width="0.7" stroke-linecap="butt"/>
<text x="243.40" y="375.67" font-size="3.4" fill="#000" stroke="#000" stroke-width="0.12" text-anchor="middle" transform="rotate(-45 243.40 375.67)">10<tspan font-size="2.47" dy="-1.39" stroke-width="0.06">3</tspan><tspan dy="1.39" font-size="3.3">&#8203;</tspan></text>
<line x1="271.73" y1="397.40" x2="271.73" y2="399.00" stroke="#111" stroke-width="0.7" stroke-linecap="butt"/>
<line x1="246.20" y1="363.90" x2="247.80" y2="363.90" stroke="#111" stroke-width="0.7" stroke-linecap="butt"/>
<text x="243.40" y="364.50" font-size="3.4" fill="#000" stroke="#000" stroke-width="0.12" text-anchor="middle" transform="rotate(-45 243.40 364.50)">10<tspan font-size="2.47" dy="-1.39" stroke-width="0.06">4</tspan><tspan dy="1.39" font-size="3.3">&#8203;</tspan></text>
<line x1="283.70" y1="397.40" x2="283.70" y2="399.00" stroke="#111" stroke-width="0.7" stroke-linecap="butt"/>
<line x1="246.20" y1="352.73" x2="247.80" y2="352.73" stroke="#111" stroke-width="0.7" stroke-linecap="butt"/>
<text x="243.40" y="353.33" font-size="3.4" fill="#000" stroke="#000" stroke-width="0.12" text-anchor="middle" transform="rotate(-45 243.40 353.33)">10<tspan font-size="2.47" dy="-1.39" stroke-width="0.06">5</tspan><tspan dy="1.39" font-size="3.3">&#8203;</tspan></text>
<line x1="295.67" y1="397.40" x2="295.67" y2="399.00" stroke="#111" stroke-width="0.7" stroke-linecap="butt"/>
<line x1="246.20" y1="341.57" x2="247.80" y2="341.57" stroke="#111" stroke-width="0.7" stroke-linecap="butt"/>
<text x="243.40" y="342.17" font-size="3.4" fill="#000" stroke="#000" stroke-width="0.12" text-anchor="middle" transform="rotate(-45 243.40 342.17)">10<tspan font-size="2.47" dy="-1.39" stroke-width="0.06">6</tspan><tspan dy="1.39" font-size="3.3">&#8203;</tspan></text>
<line x1="307.63" y1="397.40" x2="307.63" y2="399.00" stroke="#111" stroke-width="0.7" stroke-linecap="butt"/>
<line x1="246.20" y1="330.40" x2="247.80" y2="330.40" stroke="#111" stroke-width="0.7" stroke-linecap="butt"/>
<text x="243.40" y="331.00" font-size="3.4" fill="#000" stroke="#000" stroke-width="0.12" text-anchor="middle" transform="rotate(-45 243.40 331.00)">10<tspan font-size="2.47" dy="-1.39" stroke-width="0.06">7.2</tspan><tspan dy="1.39" font-size="3.3">&#8203;</tspan></text>
<line x1="319.60" y1="397.40" x2="319.60" y2="399.00" stroke="#111" stroke-width="0.7" stroke-linecap="butt"/>
<path d="M247.80 394.05h2.3M251.39 397.40v-1.9M247.80 392.04h2.3M253.54 397.40v-1.9M247.80 390.70h2.3M254.98 397.40v-1.9M247.80 389.58h2.3M256.18 397.40v-1.9M247.80 388.69h2.3M257.13 397.40v-1.9M247.80 387.91h2.3M257.97 397.40v-1.9M247.80 387.35h2.3M258.57 397.40v-1.9M247.80 386.79h2.3M259.17 397.40v-1.9M247.80 382.88h2.3M263.36 397.40v-1.9M247.80 380.87h2.3M265.51 397.40v-1.9M247.80 379.53h2.3M266.95 397.40v-1.9M247.80 378.42h2.3M268.14 397.40v-1.9M247.80 377.52h2.3M269.10 397.40v-1.9M247.80 376.74h2.3M269.94 397.40v-1.9M247.80 376.18h2.3M270.54 397.40v-1.9M247.80 375.62h2.3M271.13 397.40v-1.9M247.80 371.72h2.3M275.32 397.40v-1.9M247.80 369.71h2.3M277.48 397.40v-1.9M247.80 368.37h2.3M278.91 397.40v-1.9M247.80 367.25h2.3M280.11 397.40v-1.9M247.80 366.36h2.3M281.07 397.40v-1.9M247.80 365.57h2.3M281.91 397.40v-1.9M247.80 365.02h2.3M282.50 397.40v-1.9M247.80 364.46h2.3M283.10 397.40v-1.9M247.80 360.55h2.3M287.29 397.40v-1.9M247.80 358.54h2.3M289.44 397.40v-1.9M247.80 357.20h2.3M290.88 397.40v-1.9M247.80 356.08h2.3M292.08 397.40v-1.9M247.80 355.19h2.3M293.03 397.40v-1.9M247.80 354.41h2.3M293.87 397.40v-1.9M247.80 353.85h2.3M294.47 397.40v-1.9M247.80 353.29h2.3M295.07 397.40v-1.9M247.80 349.38h2.3M299.26 397.40v-1.9M247.80 347.37h2.3M301.41 397.40v-1.9M247.80 346.03h2.3M302.85 397.40v-1.9M247.80 344.92h2.3M304.04 397.40v-1.9M247.80 344.02h2.3M305.00 397.40v-1.9M247.80 343.24h2.3M305.84 397.40v-1.9M247.80 342.68h2.3M306.44 397.40v-1.9M247.80 342.12h2.3M307.04 397.40v-1.9M247.80 338.22h2.3M311.22 397.40v-1.9M247.80 336.21h2.3M313.38 397.40v-1.9M247.80 334.87h2.3M314.81 397.40v-1.9M247.80 333.75h2.3M316.01 397.40v-1.9M247.80 332.86h2.3M316.97 397.40v-1.9M247.80 332.07h2.3M317.81 397.40v-1.9M247.80 331.52h2.3M318.40 397.40v-1.9M247.80 330.96h2.3M319.00 397.40v-1.9" stroke="#000" stroke-width="0.8" fill="none"/>
<text x="238.40" y="372.7" font-size="3.75" fill="#111" stroke="#111" stroke-width="0.12" text-anchor="middle" transform="rotate(-90 238.40 372.7)">Annexin V-A</text>
<text x="249.00" y="401.40" font-size="3.5" fill="#000" stroke="#000" stroke-width="0.12" text-anchor="end" transform="rotate(-45 249.00 401.40)">10<tspan font-size="2.62" dy="-1.47" stroke-width="0.06">1</tspan><tspan dy="1.47" font-size="3.5">&#8203;</tspan></text>
<text x="260.97" y="401.40" font-size="3.5" fill="#000" stroke="#000" stroke-width="0.12" text-anchor="end" transform="rotate(-45 260.97 401.40)">10<tspan font-size="2.62" dy="-1.47" stroke-width="0.06">2</tspan><tspan dy="1.47" font-size="3.5">&#8203;</tspan></text>
<text x="272.93" y="401.40" font-size="3.5" fill="#000" stroke="#000" stroke-width="0.12" text-anchor="end" transform="rotate(-45 272.93 401.40)">10<tspan font-size="2.62" dy="-1.47" stroke-width="0.06">3</tspan><tspan dy="1.47" font-size="3.5">&#8203;</tspan></text>
<text x="284.90" y="401.40" font-size="3.5" fill="#000" stroke="#000" stroke-width="0.12" text-anchor="end" transform="rotate(-45 284.90 401.40)">10<tspan font-size="2.62" dy="-1.47" stroke-width="0.06">4</tspan><tspan dy="1.47" font-size="3.5">&#8203;</tspan></text>
<text x="296.87" y="401.40" font-size="3.5" fill="#000" stroke="#000" stroke-width="0.12" text-anchor="end" transform="rotate(-45 296.87 401.40)">10<tspan font-size="2.62" dy="-1.47" stroke-width="0.06">5</tspan><tspan dy="1.47" font-size="3.5">&#8203;</tspan></text>
<text x="308.83" y="401.40" font-size="3.5" fill="#000" stroke="#000" stroke-width="0.12" text-anchor="end" transform="rotate(-45 308.83 401.40)">10<tspan font-size="2.62" dy="-1.47" stroke-width="0.06">6</tspan><tspan dy="1.47" font-size="3.5">&#8203;</tspan></text>
<text x="320.80" y="401.40" font-size="3.5" fill="#000" stroke="#000" stroke-width="0.12" text-anchor="end" transform="rotate(-45 320.80 401.40)">10<tspan font-size="2.62" dy="-1.47" stroke-width="0.06">7.2</tspan><tspan dy="1.47" font-size="3.5">&#8203;</tspan></text>
<text x="284.30" y="407.94" font-size="4.0" text-anchor="middle" fill="#111" stroke="#111" stroke-width="0.112" >CFSE-A</text>
<text x="380.60" y="318.37" font-size="7.7" text-anchor="middle" fill="#111" stroke="#111" stroke-width="0.216" >Ik <tspan font-size="3.85" dy="-3.23" stroke-width="0.06">-/-</tspan><tspan dy="3.23" font-size="7.7">&#8203;</tspan></text>
<text x="378.15" y="329.30" font-size="5.0" text-anchor="middle" fill="#222" stroke="#222" stroke-width="0.140" >Gate: (M1 in (P1 in all))</text>
<rect x="342.20" y="330.40" width="71.90" height="67.00" fill="none" stroke="#222" stroke-width="0.7"/>
<line x1="342.20" y1="350.40" x2="414.10" y2="350.40" stroke="#333" stroke-width="0.6" stroke-linecap="butt"/>
<line x1="342.20" y1="365.40" x2="414.10" y2="365.40" stroke="#333" stroke-width="0.6" stroke-linecap="butt"/>
<text x="343.90" y="348.85" font-size="6.8" fill="#111" stroke="#111" stroke-width="0.190" >2.6%</text>
<path d="M369.8 373.1h.6M375.5 378.1h.6M374.2 372.4h.6M373.6 372.4h.6M370.6 378.6h.6M383.7 384.3h.6M371.3 374.6h.6M372.7 377.2h.6M375.7 375.5h.6M380.1 377.1h.6M370.9 378.7h.6M371.0 376.2h.6M381.8 375.7h.6M368.3 383.9h.6M375.3 375.5h.6M371.2 368.0h.6M373.5 359.2h.6M370.6 372.5h.6M372.7 381.4h.6M373.8 373.6h.6M373.9 374.2h.6M373.0 381.8h.6M372.6 376.0h.6M374.6 383.1h.6M371.9 381.2h.6M383.8 376.4h.6M371.7 382.0h.6M361.5 366.9h.6M375.1 376.1h.6M372.3 369.4h.6M371.8 384.3h.6M372.4 378.3h.6M365.7 370.4h.6M375.1 364.8h.6M373.8 370.8h.6M380.1 380.4h.6M370.7 375.7h.6M379.2 362.2h.6M374.2 375.6h.6M367.2 363.8h.6M380.2 378.5h.6M370.4 372.5h.6M374.9 375.2h.6M364.2 382.0h.6M372.7 367.5h.6M376.8 357.5h.6M385.4 370.1h.6M377.1 378.4h.6M378.7 374.5h.6M385.6 370.1h.6M379.7 374.4h.6M371.4 381.6h.6M369.6 386.0h.6M373.7 373.1h.6M367.5 376.5h.6M372.5 381.7h.6M371.7 375.9h.6M370.5 383.2h.6M374.1 365.7h.6M376.0 378.6h.6M374.4 382.9h.6M372.6 381.2h.6M382.1 365.1h.6M373.4 381.7h.6M375.7 375.6h.6M381.9 379.2h.6M381.2 371.9h.6M376.1 372.1h.6M367.1 376.3h.6M370.2 372.8h.6M367.8 361.3h.6M372.1 374.5h.6M370.6 380.3h.6M373.0 382.5h.6M377.9 379.8h.6M376.4 375.8h.6M377.2 372.0h.6M375.6 381.7h.6M365.2 371.0h.6M370.6 375.8h.6M370.1 380.4h.6M373.1 375.6h.6M372.1 387.9h.6M378.1 380.2h.6M375.8 372.9h.6M378.6 377.1h.6M375.5 374.8h.6M378.5 380.3h.6M373.3 379.8h.6M378.6 377.7h.6M370.0 384.8h.6M384.5 379.0h.6M368.7 379.3h.6M381.0 369.6h.6M373.6 376.1h.6M369.1 380.1h.6M377.7 385.1h.6M375.4 373.2h.6M373.8 358.1h.6M368.2 373.8h.6M374.9 381.3h.6M373.3 378.5h.6M372.4 379.7h.6M371.3 366.9h.6M376.1 347.7h.6M373.4 386.4h.6M373.8 384.0h.6M369.7 376.9h.6M376.1 380.5h.6M386.6 363.8h.6M370.1 384.1h.6M366.2 372.7h.6M372.9 382.1h.6M382.6 367.9h.6M367.7 382.9h.6M372.5 365.2h.6M375.5 373.8h.6M369.1 381.3h.6M364.8 375.4h.6M379.3 379.6h.6M372.0 372.4h.6M368.3 376.3h.6M376.8 377.5h.6M375.3 377.7h.6M370.5 378.4h.6M373.2 381.0h.6M368.0 385.1h.6M370.1 382.6h.6M367.8 377.3h.6M371.7 376.3h.6M375.9 367.1h.6M381.5 379.2h.6M373.7 375.5h.6M369.5 373.7h.6M368.9 376.3h.6M375.3 376.3h.6M369.2 382.5h.6M379.7 380.4h.6M373.2 374.7h.6M378.5 370.6h.6M379.0 379.0h.6M361.3 391.8h.6M380.0 390.9h.6M371.4 380.5h.6M373.4 378.2h.6M371.7 379.9h.6M373.9 374.6h.6M366.4 372.6h.6M373.3 385.3h.6M380.1 375.5h.6M375.0 385.5h.6M363.3 375.1h.6M365.6 376.1h.6M370.9 376.2h.6M378.0 370.2h.6M376.1 378.4h.6M371.4 378.7h.6M365.8 378.0h.6M379.4 373.6h.6M374.2 374.8h.6M384.0 381.3h.6M365.4 369.7h.6M367.6 381.5h.6M372.2 373.6h.6M383.5 369.9h.6M372.1 379.3h.6M380.8 380.5h.6M371.0 376.6h.6M372.7 363.9h.6M384.0 363.4h.6M368.5 381.0h.6M367.9 375.3h.6M382.5 367.9h.6M372.5 373.8h.6M376.8 378.5h.6M375.5 380.3h.6M370.5 382.2h.6M363.1 375.7h.6M369.7 393.8h.6M373.4 377.3h.6M376.7 375.5h.6M380.0 377.0h.6M379.8 366.5h.6M374.4 372.6h.6M377.6 357.4h.6M372.6 381.5h.6M382.9 357.8h.6M373.0 380.4h.6M375.4 380.2h.6M380.0 375.6h.6M372.3 376.4h.6M387.5 374.0h.6M377.2 373.3h.6M370.6 378.5h.6M370.7 379.0h.6M373.5 386.9h.6M374.9 374.3h.6M374.9 387.1h.6M368.3 370.5h.6M370.5 377.2h.6M370.7 376.6h.6M371.9 373.5h.6M374.8 382.0h.6M366.2 372.0h.6M386.3 385.0h.6M373.9 376.6h.6M370.1 376.9h.6M373.2 382.3h.6M371.3 386.9h.6M370.3 372.4h.6M373.2 376.1h.6M366.5 380.8h.6M378.8 381.0h.6M372.2 375.7h.6M373.3 381.7h.6M377.4 371.5h.6M373.6 380.6h.6M374.6 378.4h.6M374.2 377.3h.6M371.7 385.7h.6M372.1 375.9h.6M382.1 380.2h.6M382.7 371.4h.6M364.2 374.3h.6M376.2 379.3h.6M370.2 370.3h.6M372.8 373.5h.6M372.7 378.0h.6M376.8 375.4h.6M378.6 375.5h.6M375.8 369.0h.6M373.8 376.4h.6M370.4 372.0h.6M371.5 385.1h.6M387.6 377.5h.6M370.2 379.9h.6M380.4 377.0h.6M375.4 381.7h.6M383.1 365.1h.6M371.3 381.0h.6M370.2 379.2h.6M377.3 384.3h.6M387.1 373.9h.6M379.7 377.0h.6M372.6 354.5h.6M373.4 373.3h.6M374.5 387.4h.6M380.9 375.8h.6M376.5 379.0h.6M374.0 381.8h.6M373.1 379.8h.6M373.3 378.7h.6M377.3 379.8h.6M369.3 361.6h.6M369.5 379.7h.6M373.0 377.0h.6M368.6 346.7h.6M378.9 371.7h.6M365.8 374.1h.6M374.9 373.8h.6M368.7 380.8h.6M386.1 371.9h.6M372.0 375.1h.6M367.3 376.8h.6M373.6 379.7h.6M382.0 380.0h.6M369.6 381.6h.6M375.6 377.4h.6M371.2 374.6h.6M367.3 365.0h.6M374.6 379.1h.6M385.0 390.4h.6M373.0 391.2h.6M373.8 376.7h.6M369.7 372.9h.6M369.2 373.2h.6M366.1 377.2h.6M374.7 385.4h.6M373.7 376.7h.6M371.8 377.1h.6M373.3 374.2h.6M379.6 381.2h.6M370.2 373.1h.6M367.8 375.7h.6M372.6 386.4h.6M368.9 378.1h.6M379.8 369.3h.6M377.6 374.3h.6M373.0 378.0h.6M374.7 380.4h.6M364.5 379.5h.6M372.8 380.7h.6M378.1 384.0h.6M374.8 377.8h.6M368.0 373.2h.6M378.6 376.4h.6M370.7 375.2h.6M380.5 378.4h.6M365.7 382.7h.6M371.8 376.2h.6M381.9 380.3h.6M382.7 369.6h.6M373.6 374.4h.6M383.0 362.8h.6M369.7 378.7h.6M362.8 389.2h.6M364.5 385.5h.6M382.0 377.4h.6M374.0 374.5h.6M370.5 366.9h.6M371.6 375.2h.6M373.1 366.5h.6M385.3 381.1h.6M365.3 373.2h.6M367.6 378.5h.6M377.5 379.1h.6M372.6 374.8h.6M382.8 369.8h.6M372.9 385.5h.6M373.3 383.2h.6M376.8 373.0h.6M372.3 375.3h.6M384.9 375.2h.6M373.5 374.6h.6M367.0 379.5h.6M372.2 372.7h.6M373.0 372.9h.6M376.0 372.1h.6M374.7 377.9h.6M369.7 378.6h.6M367.1 372.6h.6M370.5 378.3h.6M375.8 376.2h.6M375.6 381.8h.6M371.0 382.6h.6M372.6 360.6h.6M370.4 376.6h.6M372.4 373.4h.6M374.4 379.2h.6M382.7 371.5h.6M376.3 368.1h.6M369.9 383.5h.6M370.7 376.1h.6M368.6 374.6h.6M383.9 382.5h.6M366.0 375.7h.6M369.0 377.9h.6M379.9 378.2h.6M369.9 376.6h.6M380.1 370.5h.6M374.3 373.4h.6M376.3 378.2h.6M378.4 375.0h.6M379.1 379.4h.6M373.8 377.9h.6M369.5 370.3h.6M387.2 381.1h.6M377.9 364.2h.6M369.3 367.6h.6M372.7 377.8h.6M368.9 375.9h.6M369.6 377.6h.6M383.2 375.6h.6M378.6 375.0h.6M375.9 375.8h.6M370.7 383.5h.6M374.1 372.9h.6M362.7 390.1h.6M386.9 355.7h.6M368.8 384.6h.6M366.9 374.1h.6M371.4 377.3h.6M373.1 382.9h.6M369.8 383.6h.6M387.5 384.7h.6M368.1 380.9h.6M374.2 366.7h.6M370.0 377.7h.6M373.6 376.2h.6M367.1 379.2h.6M384.0 383.6h.6M366.3 377.9h.6M382.8 379.1h.6M367.4 380.6h.6M384.8 375.2h.6M374.4 381.5h.6M382.0 372.3h.6M375.8 373.2h.6M377.6 381.6h.6M371.0 380.2h.6M371.0 375.1h.6M369.0 383.8h.6M379.4 382.5h.6M381.6 364.0h.6M378.7 376.3h.6M386.6 395.9h.6M374.6 374.3h.6M373.3 374.7h.6M374.5 382.4h.6M375.2 379.5h.6M370.8 382.8h.6M373.0 374.9h.6M367.3 382.0h.6M372.9 376.2h.6M367.0 360.8h.6M370.1 372.7h.6M374.8 385.6h.6M372.4 379.0h.6M379.7 373.6h.6M378.7 385.1h.6M372.4 381.2h.6M372.9 375.0h.6M374.9 377.4h.6M379.0 374.2h.6M366.0 376.4h.6M372.2 378.1h.6M369.5 375.0h.6M368.9 381.3h.6M374.7 381.1h.6M381.6 380.4h.6M374.7 359.0h.6M381.0 376.2h.6M371.2 369.2h.6M374.7 381.9h.6M374.8 372.3h.6M373.6 374.6h.6M385.1 365.3h.6M380.2 377.4h.6M372.2 383.2h.6M373.4 378.5h.6M364.4 377.1h.6M369.9 380.2h.6M374.1 380.4h.6M375.4 381.9h.6M370.5 384.8h.6M376.3 376.0h.6M369.2 372.6h.6M381.9 374.8h.6M369.5 362.4h.6M373.8 370.9h.6M372.2 379.3h.6M368.9 377.5h.6M374.3 379.4h.6M385.0 376.0h.6M368.0 383.9h.6M375.4 369.1h.6M368.9 378.4h.6M382.1 373.4h.6M372.9 371.0h.6M373.2 375.1h.6M375.8 379.1h.6M374.4 383.3h.6M382.8 371.8h.6M373.6 378.0h.6M369.0 383.0h.6M372.3 380.0h.6M377.2 354.3h.6M367.4 380.0h.6M378.7 379.0h.6M381.6 382.9h.6M374.1 374.2h.6M368.9 390.5h.6M379.3 373.1h.6M377.8 376.5h.6M372.7 387.7h.6M374.4 379.8h.6M374.9 369.0h.6M371.5 384.9h.6M372.2 373.6h.6M378.4 379.3h.6M372.5 374.2h.6M377.9 371.4h.6M374.3 375.9h.6M380.3 375.1h.6M369.9 386.0h.6M377.0 375.1h.6M380.5 376.0h.6M372.1 384.4h.6M377.2 371.9h.6M374.4 379.9h.6M373.8 359.2h.6M385.9 370.3h.6M373.0 378.8h.6M374.8 371.8h.6M379.0 372.3h.6M380.5 374.9h.6M383.7 375.0h.6M374.4 375.2h.6M371.6 375.8h.6M392.7 354.7h.6M380.6 377.6h.6M373.3 377.5h.6M366.7 374.7h.6M373.3 376.0h.6M382.4 375.7h.6M373.7 382.2h.6M378.5 364.0h.6M375.5 376.3h.6M378.8 371.2h.6M369.7 379.2h.6M383.5 369.8h.6M374.0 371.6h.6M381.7 379.9h.6M370.4 376.9h.6M368.8 380.1h.6M369.2 376.5h.6M370.7 375.1h.6M372.6 381.8h.6M387.4 378.8h.6M373.1 377.5h.6M369.9 382.7h.6M374.0 384.6h.6M376.0 380.5h.6M369.3 382.2h.6M372.8 360.1h.6M373.5 378.4h.6M377.2 373.9h.6M373.9 375.7h.6M372.9 377.3h.6M373.5 381.7h.6M383.1 376.1h.6M366.4 387.9h.6M382.7 372.3h.6M376.3 388.5h.6M376.0 353.0h.6M369.5 381.3h.6M374.0 388.6h.6M378.2 371.5h.6M371.1 379.7h.6M378.1 374.6h.6M376.8 376.8h.6M373.2 377.5h.6M368.3 383.3h.6M367.1 376.7h.6M373.7 377.2h.6M376.1 375.2h.6M380.1 372.8h.6M377.2 376.1h.6M377.8 380.8h.6M371.6 378.4h.6M372.2 380.5h.6M380.0 381.0h.6M374.3 370.7h.6M373.0 376.3h.6M370.2 376.7h.6M368.7 382.5h.6M376.7 375.6h.6M374.0 374.4h.6M370.0 377.7h.6M377.3 376.3h.6M381.3 373.1h.6M370.5 377.8h.6M374.2 365.9h.6M372.9 380.6h.6M382.5 371.6h.6M376.0 376.6h.6M375.7 373.7h.6M373.4 375.2h.6M372.7 381.2h.6M373.3 382.2h.6M373.6 373.5h.6M374.7 368.2h.6M372.4 373.3h.6M380.0 376.5h.6M376.3 371.4h.6M372.2 373.2h.6M380.4 379.0h.6M368.9 384.5h.6M364.2 383.9h.6M369.3 363.9h.6M379.7 388.0h.6M369.9 383.7h.6M376.8 374.8h.6M378.0 371.0h.6M378.2 382.6h.6M371.3 384.9h.6M374.6 368.6h.6M370.9 371.1h.6M370.5 373.2h.6M383.2 381.6h.6M375.8 381.0h.6M369.0 365.6h.6M366.8 364.4h.6M378.2 361.4h.6M368.6 379.3h.6M375.9 374.3h.6M375.2 379.1h.6M373.9 377.6h.6M374.6 382.8h.6M378.0 370.5h.6M370.2 389.2h.6M370.7 368.3h.6M375.6 364.3h.6M380.2 375.7h.6M373.6 371.7h.6M373.8 381.6h.6M369.9 378.0h.6M384.1 373.8h.6M380.6 387.2h.6M374.9 374.1h.6M370.6 379.5h.6M377.1 375.0h.6M370.5 379.9h.6M367.6 375.9h.6M371.6 375.5h.6M373.4 374.8h.6M377.7 382.7h.6M375.2 382.6h.6M373.9 374.1h.6M377.1 372.1h.6M377.2 371.1h.6M376.9 382.0h.6M381.7 381.4h.6M372.7 383.3h.6M377.9 372.6h.6M370.7 383.1h.6M374.3 387.1h.6M367.1 378.8h.6M376.2 377.8h.6M367.9 381.5h.6M381.9 376.1h.6M373.5 380.5h.6M373.3 377.2h.6M376.3 379.8h.6M367.7 377.0h.6M365.6 372.4h.6M379.3 376.6h.6M373.8 383.9h.6M380.6 383.2h.6M370.2 378.7h.6M379.6 353.4h.6M384.6 372.1h.6M372.7 377.7h.6M369.6 383.5h.6M371.9 373.9h.6M370.6 379.9h.6M379.2 378.2h.6M365.2 387.0h.6M371.0 379.5h.6M365.9 377.6h.6M374.4 375.3h.6M373.8 375.1h.6M367.7 365.9h.6M370.1 377.6h.6M371.0 379.9h.6M374.1 379.9h.6M378.0 378.9h.6M371.0 371.9h.6M376.6 374.4h.6M377.7 377.9h.6M382.1 369.5h.6M364.6 370.3h.6M381.6 373.0h.6M375.1 379.9h.6M371.9 362.4h.6M376.9 380.4h.6M378.2 368.8h.6M373.0 379.3h.6M368.6 383.6h.6M376.7 390.7h.6M367.6 383.6h.6M370.6 371.3h.6M371.9 379.6h.6M372.1 376.5h.6M374.5 381.6h.6M370.4 374.2h.6M373.6 383.5h.6M375.4 385.1h.6M383.0 369.9h.6M379.4 380.4h.6M370.6 374.2h.6M365.5 372.4h.6M377.9 377.2h.6M370.4 372.5h.6M372.1 379.3h.6M371.0 380.3h.6M374.0 376.0h.6M374.9 380.3h.6M374.5 384.9h.6M375.8 370.8h.6M380.1 375.9h.6M379.5 375.6h.6M365.8 371.0h.6M374.4 383.9h.6M370.4 386.7h.6M381.1 366.5h.6M374.3 379.7h.6M375.7 377.1h.6M375.8 379.2h.6M369.0 381.2h.6M373.1 373.3h.6M372.7 379.4h.6M374.4 380.8h.6M377.7 377.7h.6M372.0 376.1h.6M364.2 373.9h.6M372.1 374.1h.6M379.1 377.3h.6M384.7 372.3h.6M372.9 380.3h.6M370.3 380.0h.6M376.7 375.8h.6M371.2 376.2h.6M382.6 377.8h.6M373.5 376.1h.6M371.6 384.0h.6M375.5 374.5h.6M374.4 376.8h.6M373.5 361.0h.6M370.9 356.5h.6M377.4 375.0h.6M365.9 374.9h.6M369.7 375.3h.6M370.6 376.0h.6M375.4 373.0h.6M373.8 377.4h.6M378.6 379.3h.6M375.0 379.4h.6M379.0 375.7h.6M368.8 372.8h.6M380.2 375.6h.6M369.0 384.6h.6M372.6 371.5h.6M369.0 380.7h.6M374.2 371.7h.6M371.0 374.7h.6M375.2 378.3h.6M374.4 373.4h.6M372.9 373.2h.6M374.0 375.8h.6M374.0 383.3h.6M385.0 355.0h.6M375.1 376.4h.6M369.1 385.2h.6M373.2 375.1h.6M383.7 372.5h.6M380.8 371.8h.6M378.9 376.4h.6M370.9 377.3h.6M370.5 374.9h.6M376.3 391.6h.6M380.7 379.6h.6M371.1 375.8h.6M384.3 367.7h.6M367.5 381.6h.6M370.2 370.8h.6M373.3 358.1h.6M370.4 380.5h.6M375.2 382.3h.6M370.5 378.0h.6M372.2 379.1h.6M373.2 381.1h.6M370.6 379.3h.6M384.9 373.0h.6M374.5 378.2h.6M382.7 374.5h.6M369.0 369.7h.6M374.9 374.8h.6M369.3 377.3h.6M371.7 380.1h.6M379.2 373.5h.6M366.3 385.7h.6M385.8 373.6h.6M366.8 376.5h.6M375.5 369.3h.6M376.7 386.4h.6M372.7 379.5h.6M376.6 381.3h.6M374.2 351.4h.6M374.9 375.0h.6M372.4 375.8h.6M372.9 387.7h.6M375.1 376.4h.6M377.7 360.9h.6M379.2 371.0h.6M369.3 376.8h.6M371.6 376.4h.6M383.6 368.0h.6M381.1 378.4h.6M378.6 377.1h.6M380.2 381.9h.6M386.1 375.8h.6M377.4 377.1h.6M381.7 393.3h.6M369.5 369.0h.6M375.2 381.8h.6M377.7 369.0h.6M363.7 383.7h.6M383.2 372.4h.6M377.9 373.1h.6M376.9 376.0h.6M374.2 381.6h.6M370.8 381.0h.6M378.6 372.8h.6M372.1 373.6h.6M379.1 392.6h.6M372.5 367.3h.6M364.1 372.0h.6M372.4 384.0h.6M372.4 377.6h.6M370.4 375.7h.6M376.6 369.8h.6M371.1 378.8h.6M371.6 380.2h.6M374.7 376.8h.6M380.1 386.1h.6M370.8 379.1h.6M378.3 379.3h.6M370.2 377.5h.6M374.0 372.8h.6M372.8 373.1h.6M376.1 364.7h.6M379.5 373.4h.6M377.5 376.8h.6M371.9 370.8h.6M370.5 380.3h.6M374.6 378.6h.6M373.5 375.7h.6M384.5 372.7h.6M365.0 371.8h.6M373.6 377.9h.6M379.8 377.4h.6M371.9 382.2h.6M373.2 369.3h.6M374.0 370.8h.6M379.6 376.3h.6M377.7 375.3h.6M373.0 367.8h.6M379.2 379.6h.6M370.7 375.8h.6M371.4 381.9h.6M376.9 377.2h.6M373.4 378.3h.6M375.3 374.0h.6M383.7 375.6h.6M373.1 374.1h.6M373.3 377.7h.6M369.5 370.6h.6M371.7 380.0h.6M370.4 374.5h.6M370.7 382.8h.6M369.4 368.8h.6M373.1 377.7h.6M377.7 380.7h.6M371.8 380.4h.6M385.9 375.2h.6M376.4 375.6h.6M372.9 378.0h.6M371.8 372.2h.6M372.1 384.2h.6M381.2 365.8h.6M376.9 389.9h.6M369.1 372.7h.6M376.7 380.6h.6M377.2 374.2h.6M363.5 385.9h.6M365.6 384.2h.6M379.8 374.3h.6M378.6 377.7h.6M366.2 345.7h.6M382.4 381.3h.6M381.3 375.9h.6M374.3 377.8h.6M380.7 374.0h.6M377.6 380.0h.6M378.5 377.2h.6M368.7 376.8h.6M375.3 375.7h.6M368.1 381.8h.6M380.0 377.6h.6M378.2 374.6h.6M376.8 372.9h.6M372.0 375.2h.6M375.0 362.9h.6M375.2 382.9h.6M372.1 367.6h.6M371.2 376.7h.6M366.8 380.5h.6M369.5 376.8h.6M377.1 377.8h.6M371.4 386.7h.6M370.4 383.1h.6M372.6 378.8h.6M373.2 372.6h.6M376.0 380.3h.6M374.7 374.0h.6M381.8 370.4h.6M381.1 375.9h.6M374.5 364.0h.6M376.7 380.8h.6M370.2 380.5h.6M374.8 370.0h.6M373.3 367.4h.6M386.7 378.2h.6M369.8 379.1h.6M368.0 384.0h.6M371.5 389.9h.6M376.6 379.7h.6M380.1 377.4h.6M380.5 378.8h.6M375.7 372.2h.6M367.9 382.2h.6M375.4 386.9h.6M374.1 372.5h.6M375.5 373.6h.6M372.1 382.1h.6M382.7 365.4h.6M369.2 381.8h.6M366.7 384.1h.6M377.6 382.7h.6M372.1 379.0h.6M369.9 381.0h.6M370.7 375.6h.6M374.6 381.5h.6M370.1 380.8h.6M374.1 384.3h.6M370.8 372.5h.6M372.4 377.7h.6M380.3 377.7h.6M375.6 377.0h.6M381.3 361.8h.6M376.6 387.5h.6M374.8 353.3h.6M387.3 376.3h.6M367.8 379.9h.6M375.9 363.2h.6M377.4 380.0h.6M376.4 377.2h.6M371.6 374.5h.6M372.3 388.7h.6M374.1 375.4h.6M379.7 381.0h.6M371.1 381.4h.6M371.3 377.4h.6M376.5 379.3h.6M371.0 385.8h.6M379.8 382.4h.6M376.6 361.9h.6M369.8 375.4h.6M383.6 394.2h.6M372.5 388.0h.6M374.9 374.4h.6M376.5 375.4h.6M374.2 374.1h.6M373.7 380.5h.6M370.6 376.8h.6M370.9 371.1h.6M375.1 376.4h.6M377.1 363.1h.6M374.7 371.6h.6M372.1 371.4h.6M369.2 379.7h.6M363.6 374.8h.6M381.0 369.0h.6M376.6 369.3h.6M373.4 377.0h.6M371.2 371.3h.6M371.0 387.5h.6M372.6 377.1h.6M377.2 378.4h.6M373.6 375.8h.6M373.8 376.0h.6M368.6 380.6h.6M369.5 378.8h.6M371.9 381.8h.6M382.4 378.3h.6M377.3 378.9h.6M377.8 374.9h.6M370.0 384.6h.6M382.3 371.2h.6M378.6 379.2h.6M376.4 369.4h.6M371.5 379.0h.6M369.2 373.1h.6M372.0 377.3h.6M379.7 370.7h.6M370.5 388.4h.6M369.2 373.6h.6M370.8 375.3h.6M374.0 367.8h.6M377.9 364.6h.6M373.8 379.6h.6M382.5 370.6h.6M371.8 379.6h.6M375.0 376.3h.6M374.3 371.4h.6M372.9 382.5h.6M369.5 383.7h.6M372.2 379.3h.6M381.8 381.2h.6M382.4 372.2h.6M367.6 382.0h.6M377.1 385.4h.6M375.9 380.1h.6M373.8 380.5h.6M367.7 373.8h.6M378.8 370.3h.6M374.5 383.7h.6M373.6 373.2h.6M373.7 374.6h.6M372.7 377.3h.6M369.7 380.6h.6M378.2 375.5h.6M372.4 377.3h.6M370.7 375.7h.6M369.5 373.8h.6M371.5 353.1h.6M369.2 381.9h.6M371.7 376.7h.6M377.7 374.9h.6M375.2 379.2h.6M371.7 384.0h.6M369.7 381.2h.6M378.9 367.6h.6M377.5 376.2h.6M374.4 377.8h.6M374.5 376.3h.6M375.4 372.5h.6M371.4 382.6h.6M366.5 379.5h.6M373.4 369.7h.6M375.1 376.4h.6M373.0 377.1h.6M379.4 373.8h.6M371.0 379.3h.6M383.6 372.2h.6M381.1 376.2h.6M373.9 375.7h.6M371.1 377.7h.6M373.0 373.4h.6M369.0 382.2h.6M366.3 363.6h.6M383.5 373.1h.6M371.8 375.8h.6M370.8 377.9h.6M378.6 366.1h.6M372.4 379.4h.6M372.3 378.6h.6M360.2 379.5h.6M373.9 385.7h.6M368.7 380.9h.6M373.1 378.2h.6M371.7 378.5h.6M374.2 389.8h.6M381.3 367.9h.6M380.3 380.0h.6M367.8 389.8h.6M373.7 372.3h.6M378.9 374.8h.6M371.2 378.6h.6M374.5 379.3h.6M378.7 368.7h.6M376.7 371.0h.6M374.8 372.2h.6M375.6 376.9h.6M376.9 366.2h.6M372.2 383.7h.6M377.1 378.6h.6M367.7 376.0h.6M372.9 377.6h.6M387.2 367.6h.6M372.3 382.4h.6M374.9 378.6h.6M376.5 390.5h.6M367.7 375.6h.6M367.9 366.4h.6M370.3 380.9h.6M377.8 369.9h.6M384.5 371.1h.6M375.5 375.1h.6M385.6 378.2h.6M380.9 366.2h.6M374.9 380.9h.6M369.0 381.6h.6M375.5 381.6h.6M366.8 378.0h.6M371.9 375.2h.6M366.5 374.9h.6M375.0 373.1h.6M372.2 370.9h.6M379.5 371.4h.6M369.8 379.9h.6M375.6 365.5h.6M375.7 375.5h.6M371.7 377.9h.6M374.3 377.0h.6M367.9 377.0h.6M378.1 375.1h.6M369.4 375.5h.6M374.9 374.4h.6M370.2 380.6h.6M365.6 382.7h.6M383.6 375.8h.6M382.1 387.1h.6M371.6 376.6h.6M361.7 385.3h.6M381.5 373.8h.6M381.3 377.1h.6M374.7 371.6h.6M376.1 379.4h.6M364.3 373.4h.6M371.7 373.8h.6M376.2 374.1h.6M385.7 372.0h.6M368.6 378.2h.6M369.9 377.5h.6M376.4 378.5h.6M380.3 363.1h.6M379.4 380.4h.6M378.4 394.7h.6M377.1 377.5h.6M374.0 374.7h.6M373.1 379.8h.6M375.5 371.7h.6M372.1 378.6h.6M371.1 381.7h.6M375.1 378.8h.6M368.6 383.1h.6M375.8 380.1h.6M373.5 376.9h.6M378.4 376.8h.6M368.4 377.9h.6M371.3 369.5h.6M377.7 346.9h.6M372.3 378.0h.6M372.4 379.4h.6M373.6 380.7h.6M378.6 369.2h.6M373.7 380.7h.6M381.0 370.5h.6M375.5 371.6h.6M380.7 374.5h.6M377.0 380.1h.6M378.6 377.9h.6M364.3 382.6h.6M378.1 376.9h.6M373.3 376.5h.6M369.8 371.4h.6M374.2 379.1h.6M373.5 372.5h.6M371.8 370.5h.6M371.6 378.2h.6M381.5 383.6h.6M384.7 377.5h.6M376.6 373.5h.6M381.0 369.7h.6M381.8 376.8h.6M368.7 381.1h.6M381.8 376.3h.6M375.3 374.8h.6M371.8 378.7h.6M374.4 367.4h.6M374.4 376.6h.6M370.7 383.4h.6M364.8 380.8h.6M365.9 378.3h.6M375.4 379.5h.6M377.1 379.6h.6M384.6 371.6h.6M375.6 381.4h.6M364.1 373.0h.6M375.1 372.5h.6M368.9 379.6h.6M382.0 394.3h.6M374.7 381.6h.6M374.1 375.4h.6M367.9 373.1h.6M377.7 374.6h.6M369.6 379.0h.6M371.5 378.3h.6M382.7 378.3h.6M376.8 377.0h.6M372.6 364.4h.6M381.0 377.6h.6M384.5 372.3h.6M369.5 380.4h.6M370.0 362.6h.6M377.8 357.9h.6M368.2 390.8h.6M364.8 385.4h.6M361.0 374.1h.6M378.7 378.1h.6M363.6 388.9h.6M372.6 380.9h.6M375.3 378.2h.6M370.8 387.0h.6M374.9 379.7h.6M375.1 370.4h.6M369.5 380.2h.6M376.7 377.8h.6M354.6 382.3h.6M380.4 380.6h.6M377.6 372.5h.6M368.3 377.7h.6M371.9 375.4h.6M386.7 371.1h.6M368.2 379.5h.6M376.9 379.5h.6M376.9 389.1h.6M372.2 382.4h.6M370.8 378.1h.6M366.6 374.5h.6M371.1 378.0h.6M369.2 376.1h.6M372.6 370.9h.6M378.7 373.5h.6M373.7 376.7h.6M377.2 387.2h.6M376.2 374.0h.6M380.9 378.5h.6M373.3 379.0h.6M375.2 374.6h.6M389.7 378.0h.6M381.6 372.3h.6M369.0 372.0h.6M380.5 367.8h.6M369.7 374.4h.6M368.3 373.2h.6M385.8 371.8h.6M367.3 378.4h.6M370.8 383.2h.6M373.9 381.9h.6M379.3 368.5h.6M367.0 377.8h.6M373.0 379.5h.6M373.3 377.2h.6M373.3 372.8h.6M368.6 379.8h.6M386.2 370.8h.6M369.5 385.6h.6M373.3 374.9h.6M383.5 374.9h.6M373.1 378.1h.6M372.5 380.2h.6M377.1 372.9h.6M374.9 386.4h.6M374.9 378.3h.6M371.3 376.9h.6M366.3 374.6h.6M369.5 375.7h.6M371.2 380.1h.6M377.6 373.1h.6M363.8 372.6h.6M374.2 375.5h.6M368.8 378.3h.6M382.3 370.0h.6M372.7 378.6h.6M372.6 368.5h.6M381.7 368.1h.6" stroke="#222" stroke-width="0.6" stroke-opacity="0.95" fill="none"/>
<text x="379.40" y="368.54" font-size="2.6" fill="#222" >R1</text>
<text x="382.90" y="373.44" font-size="2.6" fill="#222" >2.6%</text>
<line x1="340.60" y1="397.40" x2="342.20" y2="397.40" stroke="#111" stroke-width="0.7" stroke-linecap="butt"/>
<text x="337.80" y="398.00" font-size="3.4" fill="#000" stroke="#000" stroke-width="0.12" text-anchor="middle" transform="rotate(-45 337.80 398.00)">10<tspan font-size="2.47" dy="-1.39" stroke-width="0.06">1</tspan><tspan dy="1.39" font-size="3.3">&#8203;</tspan></text>
<line x1="342.20" y1="397.40" x2="342.20" y2="399.00" stroke="#111" stroke-width="0.7" stroke-linecap="butt"/>
<line x1="340.60" y1="386.23" x2="342.20" y2="386.23" stroke="#111" stroke-width="0.7" stroke-linecap="butt"/>
<text x="337.80" y="386.83" font-size="3.4" fill="#000" stroke="#000" stroke-width="0.12" text-anchor="middle" transform="rotate(-45 337.80 386.83)">10<tspan font-size="2.47" dy="-1.39" stroke-width="0.06">2</tspan><tspan dy="1.39" font-size="3.3">&#8203;</tspan></text>
<line x1="354.18" y1="397.40" x2="354.18" y2="399.00" stroke="#111" stroke-width="0.7" stroke-linecap="butt"/>
<line x1="340.60" y1="375.07" x2="342.20" y2="375.07" stroke="#111" stroke-width="0.7" stroke-linecap="butt"/>
<text x="337.80" y="375.67" font-size="3.4" fill="#000" stroke="#000" stroke-width="0.12" text-anchor="middle" transform="rotate(-45 337.80 375.67)">10<tspan font-size="2.47" dy="-1.39" stroke-width="0.06">3</tspan><tspan dy="1.39" font-size="3.3">&#8203;</tspan></text>
<line x1="366.17" y1="397.40" x2="366.17" y2="399.00" stroke="#111" stroke-width="0.7" stroke-linecap="butt"/>
<line x1="340.60" y1="363.90" x2="342.20" y2="363.90" stroke="#111" stroke-width="0.7" stroke-linecap="butt"/>
<text x="337.80" y="364.50" font-size="3.4" fill="#000" stroke="#000" stroke-width="0.12" text-anchor="middle" transform="rotate(-45 337.80 364.50)">10<tspan font-size="2.47" dy="-1.39" stroke-width="0.06">4</tspan><tspan dy="1.39" font-size="3.3">&#8203;</tspan></text>
<line x1="378.15" y1="397.40" x2="378.15" y2="399.00" stroke="#111" stroke-width="0.7" stroke-linecap="butt"/>
<line x1="340.60" y1="352.73" x2="342.20" y2="352.73" stroke="#111" stroke-width="0.7" stroke-linecap="butt"/>
<text x="337.80" y="353.33" font-size="3.4" fill="#000" stroke="#000" stroke-width="0.12" text-anchor="middle" transform="rotate(-45 337.80 353.33)">10<tspan font-size="2.47" dy="-1.39" stroke-width="0.06">5</tspan><tspan dy="1.39" font-size="3.3">&#8203;</tspan></text>
<line x1="390.13" y1="397.40" x2="390.13" y2="399.00" stroke="#111" stroke-width="0.7" stroke-linecap="butt"/>
<line x1="340.60" y1="341.57" x2="342.20" y2="341.57" stroke="#111" stroke-width="0.7" stroke-linecap="butt"/>
<text x="337.80" y="342.17" font-size="3.4" fill="#000" stroke="#000" stroke-width="0.12" text-anchor="middle" transform="rotate(-45 337.80 342.17)">10<tspan font-size="2.47" dy="-1.39" stroke-width="0.06">6</tspan><tspan dy="1.39" font-size="3.3">&#8203;</tspan></text>
<line x1="402.12" y1="397.40" x2="402.12" y2="399.00" stroke="#111" stroke-width="0.7" stroke-linecap="butt"/>
<line x1="340.60" y1="330.40" x2="342.20" y2="330.40" stroke="#111" stroke-width="0.7" stroke-linecap="butt"/>
<text x="337.80" y="331.00" font-size="3.4" fill="#000" stroke="#000" stroke-width="0.12" text-anchor="middle" transform="rotate(-45 337.80 331.00)">10<tspan font-size="2.47" dy="-1.39" stroke-width="0.06">7.2</tspan><tspan dy="1.39" font-size="3.3">&#8203;</tspan></text>
<line x1="414.10" y1="397.40" x2="414.10" y2="399.00" stroke="#111" stroke-width="0.7" stroke-linecap="butt"/>
<path d="M342.20 394.05h2.3M345.80 397.40v-1.9M342.20 392.04h2.3M347.95 397.40v-1.9M342.20 390.70h2.3M349.39 397.40v-1.9M342.20 389.58h2.3M350.59 397.40v-1.9M342.20 388.69h2.3M351.55 397.40v-1.9M342.20 387.91h2.3M352.39 397.40v-1.9M342.20 387.35h2.3M352.99 397.40v-1.9M342.20 386.79h2.3M353.58 397.40v-1.9M342.20 382.88h2.3M357.78 397.40v-1.9M342.20 380.87h2.3M359.94 397.40v-1.9M342.20 379.53h2.3M361.37 397.40v-1.9M342.20 378.42h2.3M362.57 397.40v-1.9M342.20 377.52h2.3M363.53 397.40v-1.9M342.20 376.74h2.3M364.37 397.40v-1.9M342.20 376.18h2.3M364.97 397.40v-1.9M342.20 375.62h2.3M365.57 397.40v-1.9M342.20 371.72h2.3M369.76 397.40v-1.9M342.20 369.71h2.3M371.92 397.40v-1.9M342.20 368.37h2.3M373.36 397.40v-1.9M342.20 367.25h2.3M374.56 397.40v-1.9M342.20 366.36h2.3M375.51 397.40v-1.9M342.20 365.57h2.3M376.35 397.40v-1.9M342.20 365.02h2.3M376.95 397.40v-1.9M342.20 364.46h2.3M377.55 397.40v-1.9M342.20 360.55h2.3M381.75 397.40v-1.9M342.20 358.54h2.3M383.90 397.40v-1.9M342.20 357.20h2.3M385.34 397.40v-1.9M342.20 356.08h2.3M386.54 397.40v-1.9M342.20 355.19h2.3M387.50 397.40v-1.9M342.20 354.41h2.3M388.34 397.40v-1.9M342.20 353.85h2.3M388.94 397.40v-1.9M342.20 353.29h2.3M389.53 397.40v-1.9M342.20 349.38h2.3M393.73 397.40v-1.9M342.20 347.37h2.3M395.89 397.40v-1.9M342.20 346.03h2.3M397.32 397.40v-1.9M342.20 344.92h2.3M398.52 397.40v-1.9M342.20 344.02h2.3M399.48 397.40v-1.9M342.20 343.24h2.3M400.32 397.40v-1.9M342.20 342.68h2.3M400.92 397.40v-1.9M342.20 342.12h2.3M401.52 397.40v-1.9M342.20 338.22h2.3M405.71 397.40v-1.9M342.20 336.21h2.3M407.87 397.40v-1.9M342.20 334.87h2.3M409.31 397.40v-1.9M342.20 333.75h2.3M410.50 397.40v-1.9M342.20 332.86h2.3M411.46 397.40v-1.9M342.20 332.07h2.3M412.30 397.40v-1.9M342.20 331.52h2.3M412.90 397.40v-1.9M342.20 330.96h2.3M413.50 397.40v-1.9" stroke="#000" stroke-width="0.8" fill="none"/>
<text x="332.80" y="372.7" font-size="3.75" fill="#111" stroke="#111" stroke-width="0.12" text-anchor="middle" transform="rotate(-90 332.80 372.7)">Annexin V-A</text>
<text x="343.40" y="401.40" font-size="3.5" fill="#000" stroke="#000" stroke-width="0.12" text-anchor="end" transform="rotate(-45 343.40 401.40)">10<tspan font-size="2.62" dy="-1.47" stroke-width="0.06">1</tspan><tspan dy="1.47" font-size="3.5">&#8203;</tspan></text>
<text x="355.38" y="401.40" font-size="3.5" fill="#000" stroke="#000" stroke-width="0.12" text-anchor="end" transform="rotate(-45 355.38 401.40)">10<tspan font-size="2.62" dy="-1.47" stroke-width="0.06">2</tspan><tspan dy="1.47" font-size="3.5">&#8203;</tspan></text>
<text x="367.37" y="401.40" font-size="3.5" fill="#000" stroke="#000" stroke-width="0.12" text-anchor="end" transform="rotate(-45 367.37 401.40)">10<tspan font-size="2.62" dy="-1.47" stroke-width="0.06">3</tspan><tspan dy="1.47" font-size="3.5">&#8203;</tspan></text>
<text x="379.35" y="401.40" font-size="3.5" fill="#000" stroke="#000" stroke-width="0.12" text-anchor="end" transform="rotate(-45 379.35 401.40)">10<tspan font-size="2.62" dy="-1.47" stroke-width="0.06">4</tspan><tspan dy="1.47" font-size="3.5">&#8203;</tspan></text>
<text x="391.33" y="401.40" font-size="3.5" fill="#000" stroke="#000" stroke-width="0.12" text-anchor="end" transform="rotate(-45 391.33 401.40)">10<tspan font-size="2.62" dy="-1.47" stroke-width="0.06">5</tspan><tspan dy="1.47" font-size="3.5">&#8203;</tspan></text>
<text x="403.32" y="401.40" font-size="3.5" fill="#000" stroke="#000" stroke-width="0.12" text-anchor="end" transform="rotate(-45 403.32 401.40)">10<tspan font-size="2.62" dy="-1.47" stroke-width="0.06">6</tspan><tspan dy="1.47" font-size="3.5">&#8203;</tspan></text>
<text x="415.30" y="401.40" font-size="3.5" fill="#000" stroke="#000" stroke-width="0.12" text-anchor="end" transform="rotate(-45 415.30 401.40)">10<tspan font-size="2.62" dy="-1.47" stroke-width="0.06">7.2</tspan><tspan dy="1.47" font-size="3.5">&#8203;</tspan></text>
<text x="378.75" y="407.94" font-size="4.0" text-anchor="middle" fill="#111" stroke="#111" stroke-width="0.112" >CFSE-A</text>
<text x="469.20" y="318.37" font-size="7.7" text-anchor="middle" fill="#111" stroke="#111" stroke-width="0.216" >IkDN <tspan font-size="3.85" dy="-3.23" stroke-width="0.06">+/-</tspan><tspan dy="3.23" font-size="7.7">&#8203;</tspan></text>
<text x="473.05" y="329.30" font-size="5.0" text-anchor="middle" fill="#222" stroke="#222" stroke-width="0.140" >Gate: (M1 in (P1 in all))</text>
<rect x="437.10" y="330.40" width="71.90" height="67.00" fill="none" stroke="#222" stroke-width="0.7"/>
<line x1="437.10" y1="350.40" x2="509.00" y2="350.40" stroke="#333" stroke-width="0.6" stroke-linecap="butt"/>
<line x1="437.10" y1="365.40" x2="509.00" y2="365.40" stroke="#333" stroke-width="0.6" stroke-linecap="butt"/>
<text x="441.70" y="348.85" font-size="6.8" fill="#111" stroke="#111" stroke-width="0.190" >2.6 %</text>
<path d="M465.7 372.7h.6M470.3 384.5h.6M468.4 384.1h.6M465.4 377.5h.6M462.1 381.0h.6M478.0 375.3h.6M471.6 373.0h.6M473.2 368.5h.6M472.9 359.8h.6M458.6 380.5h.6M471.0 376.9h.6M467.0 379.7h.6M473.8 358.6h.6M468.0 372.4h.6M466.1 374.3h.6M468.7 382.4h.6M463.4 379.3h.6M470.1 381.2h.6M467.8 380.5h.6M471.8 380.5h.6M464.2 372.1h.6M471.8 380.6h.6M473.1 370.4h.6M462.1 382.0h.6M469.9 374.7h.6M461.9 387.9h.6M471.9 377.1h.6M476.0 381.2h.6M471.3 372.6h.6M472.7 378.2h.6M467.0 376.3h.6M471.8 380.3h.6M473.5 374.7h.6M466.8 379.4h.6M469.2 378.0h.6M467.1 383.1h.6M464.6 378.7h.6M474.0 379.7h.6M471.4 377.1h.6M466.3 375.2h.6M460.6 377.9h.6M474.3 382.0h.6M468.2 389.5h.6M467.7 381.1h.6M467.1 378.9h.6M472.2 381.3h.6M481.8 375.2h.6M463.6 378.6h.6M466.8 381.9h.6M468.6 376.6h.6M469.6 385.8h.6M469.2 378.4h.6M461.5 380.8h.6M478.7 367.3h.6M468.5 374.8h.6M465.6 378.4h.6M467.7 385.6h.6M464.5 378.5h.6M468.3 375.5h.6M469.7 365.7h.6M470.6 376.0h.6M468.8 369.0h.6M471.0 382.2h.6M469.1 373.7h.6M470.2 377.2h.6M468.4 378.3h.6M479.8 379.6h.6M479.5 379.5h.6M463.2 373.0h.6M472.8 382.5h.6M463.8 389.8h.6M467.0 384.6h.6M468.4 378.0h.6M463.9 385.8h.6M471.3 372.0h.6M473.0 377.7h.6M467.3 382.2h.6M464.8 378.4h.6M465.5 378.4h.6M482.2 376.8h.6M471.0 381.1h.6M470.4 375.1h.6M468.7 375.7h.6M472.0 371.1h.6M483.4 366.9h.6M468.6 376.1h.6M460.3 378.0h.6M463.2 378.4h.6M467.2 377.9h.6M467.8 374.5h.6M472.3 379.9h.6M472.1 374.8h.6M474.0 373.5h.6M473.0 369.6h.6M471.8 369.7h.6M471.0 382.6h.6M480.2 377.3h.6M467.4 374.4h.6M460.5 388.9h.6M464.6 376.3h.6M454.7 385.8h.6M464.3 370.6h.6M473.4 376.3h.6M462.6 381.6h.6M475.1 378.8h.6M462.7 375.5h.6M468.0 380.1h.6M465.0 387.5h.6M470.0 376.7h.6M469.0 377.7h.6M468.4 379.0h.6M468.0 380.2h.6M467.3 376.9h.6M461.5 374.9h.6M472.9 368.1h.6M470.7 376.0h.6M464.8 374.8h.6M468.0 375.7h.6M470.7 377.1h.6M466.8 382.9h.6M477.4 372.9h.6M479.6 378.8h.6M472.8 370.3h.6M468.4 375.5h.6M470.4 380.5h.6M466.4 373.2h.6M467.0 375.3h.6M467.5 378.2h.6M471.0 381.3h.6M471.3 372.1h.6M467.7 378.1h.6M467.7 380.2h.6M474.2 380.4h.6M474.6 372.8h.6M469.1 372.5h.6M474.0 356.0h.6M461.0 380.0h.6M464.3 374.5h.6M468.3 374.6h.6M466.6 382.7h.6M469.8 373.6h.6M475.5 370.1h.6M467.6 371.9h.6M478.8 371.3h.6M475.8 378.2h.6M460.7 378.1h.6M464.5 383.1h.6M468.7 376.2h.6M461.5 383.6h.6M462.9 381.9h.6M470.5 373.1h.6M466.5 374.1h.6M471.4 372.0h.6M478.8 393.5h.6M471.8 377.0h.6M471.1 376.2h.6M472.9 380.5h.6M474.7 377.3h.6M473.5 375.0h.6M473.5 379.6h.6M467.2 373.6h.6M478.0 375.0h.6M480.0 375.6h.6M464.9 368.9h.6M468.9 375.2h.6M466.0 378.4h.6M479.3 377.3h.6M466.6 377.5h.6M464.0 373.7h.6M459.9 357.3h.6M464.5 374.1h.6M469.1 380.2h.6M468.8 372.2h.6M480.5 378.4h.6M469.7 382.6h.6M466.3 381.9h.6M478.2 378.1h.6M464.8 371.9h.6M466.9 373.8h.6M467.0 382.7h.6M468.4 379.4h.6M463.1 375.7h.6M463.0 380.1h.6M471.8 384.0h.6M473.7 381.4h.6M464.7 382.0h.6M476.7 373.3h.6M478.0 371.5h.6M468.1 376.5h.6M466.4 374.7h.6M471.7 373.8h.6M474.3 372.3h.6M476.0 372.6h.6M463.4 375.1h.6M468.9 374.3h.6M469.1 382.7h.6M470.2 378.9h.6M462.6 366.8h.6M471.6 380.3h.6M470.8 381.7h.6M484.7 375.7h.6M469.0 380.9h.6M468.1 367.1h.6M469.1 376.9h.6M474.9 366.3h.6M475.4 368.2h.6M470.2 374.6h.6M475.5 384.5h.6M468.2 381.5h.6M474.2 366.9h.6M481.5 375.5h.6M475.6 374.7h.6M467.3 375.2h.6M470.0 375.1h.6M466.5 377.5h.6M463.8 371.9h.6M468.8 376.9h.6M466.6 380.0h.6M465.8 374.8h.6M466.0 377.8h.6M479.2 373.8h.6M465.1 380.2h.6M468.8 380.9h.6M473.0 375.2h.6M469.2 375.0h.6M462.4 372.4h.6M464.7 376.1h.6M469.0 377.4h.6M473.6 373.0h.6M470.4 376.8h.6M480.4 381.3h.6M463.7 378.3h.6M461.8 374.9h.6M464.8 379.4h.6M466.3 385.1h.6M468.1 369.1h.6M469.2 375.8h.6M467.1 379.5h.6M468.1 383.5h.6M468.3 385.7h.6M476.4 375.4h.6M470.8 375.9h.6M470.1 378.4h.6M467.7 379.4h.6M474.8 380.3h.6M469.2 384.1h.6M476.9 363.6h.6M466.4 378.6h.6M465.1 375.5h.6M463.9 381.6h.6M464.4 377.0h.6M460.5 380.8h.6M470.9 373.2h.6M464.0 382.9h.6M458.8 370.4h.6M465.2 379.7h.6M471.7 385.1h.6M477.1 376.6h.6M469.8 371.0h.6M473.4 379.7h.6M465.0 371.6h.6M463.8 378.6h.6M478.3 376.4h.6M472.5 371.9h.6M464.0 380.2h.6M467.9 384.7h.6M467.0 377.7h.6M467.9 377.9h.6M473.4 373.1h.6M466.8 381.1h.6M470.6 372.6h.6M478.0 377.7h.6M474.5 375.0h.6M474.1 373.5h.6M471.4 381.5h.6M466.7 377.8h.6M470.1 374.8h.6M472.8 377.5h.6M473.8 376.6h.6M474.2 380.0h.6M471.5 375.4h.6M467.1 366.0h.6M464.0 374.0h.6M476.2 373.9h.6M471.7 364.5h.6M468.3 377.6h.6M472.2 379.9h.6M465.4 380.3h.6M465.7 379.5h.6M457.9 380.4h.6M473.6 388.1h.6M462.8 389.2h.6M470.9 380.9h.6M464.4 374.3h.6M466.2 380.0h.6M474.4 369.6h.6M467.6 385.3h.6M463.5 359.4h.6M468.2 379.1h.6M480.2 371.5h.6M477.3 371.3h.6M467.2 385.2h.6M467.4 373.8h.6M472.7 381.0h.6M467.1 375.2h.6M466.2 375.3h.6M478.6 376.8h.6M477.9 370.8h.6M471.5 369.3h.6M466.9 379.8h.6M470.0 368.8h.6M473.6 377.6h.6M463.1 379.1h.6M464.1 384.0h.6M478.6 371.0h.6M481.9 368.5h.6M469.0 377.7h.6M462.9 375.0h.6M475.4 380.6h.6M464.3 379.0h.6M471.6 378.9h.6M457.0 378.0h.6M469.7 370.9h.6M466.0 376.5h.6M471.1 375.5h.6M469.4 384.1h.6M473.7 372.3h.6M464.1 376.3h.6M466.1 378.6h.6M473.2 380.6h.6M466.9 376.3h.6M479.3 381.9h.6M473.2 373.6h.6M469.9 378.9h.6M468.8 376.4h.6M480.8 372.6h.6M468.0 359.4h.6M473.2 373.7h.6M465.0 377.1h.6M480.9 364.4h.6M475.0 375.2h.6M468.7 376.8h.6M467.5 381.7h.6M469.3 377.4h.6M472.4 374.9h.6M476.4 361.7h.6M460.0 382.9h.6M465.0 374.1h.6M463.5 379.0h.6M467.1 377.7h.6M464.0 378.5h.6M475.0 378.7h.6M474.1 377.6h.6M471.3 380.0h.6M482.0 362.7h.6M473.1 358.6h.6M471.5 383.2h.6M470.7 381.6h.6M469.0 384.1h.6M465.0 378.2h.6M472.2 385.3h.6M472.0 383.1h.6M468.1 378.3h.6M469.4 375.7h.6M469.2 376.2h.6M467.7 385.2h.6M468.8 379.7h.6M476.3 363.9h.6M471.3 379.3h.6M466.8 376.0h.6M472.3 379.6h.6M455.5 362.2h.6M475.1 378.5h.6M469.2 375.4h.6M466.3 388.8h.6M471.8 377.2h.6M467.1 383.2h.6M465.8 355.3h.6M462.8 380.6h.6M459.6 368.8h.6M466.2 366.4h.6M465.2 376.3h.6M462.4 377.8h.6M468.7 376.7h.6M480.1 371.4h.6M469.3 394.1h.6M467.8 377.4h.6M474.2 377.7h.6M478.7 380.3h.6M468.4 381.7h.6M472.4 371.3h.6M472.5 380.4h.6M464.0 374.4h.6M463.5 388.2h.6M476.8 378.7h.6M464.4 375.3h.6M468.4 381.2h.6M468.5 370.0h.6M475.7 381.0h.6M468.2 380.8h.6M470.0 372.2h.6M462.3 377.9h.6M464.1 385.5h.6M476.4 382.4h.6M469.2 372.6h.6M474.9 380.4h.6M463.9 375.6h.6M471.8 381.6h.6M462.4 381.0h.6M467.4 386.1h.6M456.5 384.4h.6M470.1 379.0h.6M454.3 369.9h.6M467.0 375.2h.6M470.5 378.4h.6M469.3 377.2h.6M469.4 378.3h.6M470.5 378.1h.6M467.2 374.6h.6M472.3 369.4h.6M471.3 375.4h.6M470.1 373.3h.6M468.7 369.3h.6M466.8 376.2h.6M470.7 379.3h.6M464.7 373.7h.6M464.0 382.4h.6M476.0 380.8h.6M469.0 372.3h.6M472.2 356.6h.6M473.2 380.6h.6M476.2 370.1h.6M467.1 375.6h.6M482.8 382.7h.6M464.3 373.0h.6M474.1 379.3h.6M461.1 382.0h.6M460.7 366.3h.6M477.4 369.4h.6M468.0 381.0h.6M464.8 375.9h.6M476.9 379.4h.6M468.8 383.4h.6M472.3 385.2h.6M473.2 376.9h.6M474.8 379.1h.6M466.0 375.9h.6M469.9 374.2h.6M474.1 381.2h.6M461.1 375.5h.6M469.3 379.6h.6M478.7 378.9h.6M461.4 385.9h.6M464.5 378.4h.6M469.8 379.2h.6M478.6 373.8h.6M478.9 373.9h.6M468.6 374.6h.6M470.7 376.8h.6M467.8 377.8h.6M467.0 375.8h.6M478.1 375.1h.6M463.9 373.5h.6M477.4 383.5h.6M466.6 378.5h.6M462.2 380.9h.6M469.0 390.4h.6M481.1 378.4h.6M467.0 371.7h.6M465.0 380.4h.6M462.9 375.5h.6M464.5 368.0h.6M475.1 368.2h.6M480.1 349.8h.6M465.7 377.3h.6M464.6 377.7h.6M476.6 369.9h.6M462.1 374.4h.6M465.8 376.7h.6M465.7 361.6h.6M467.6 388.7h.6M470.6 375.3h.6M472.9 361.9h.6M472.2 375.1h.6M475.1 361.3h.6M470.5 382.4h.6M467.3 392.0h.6M460.7 385.1h.6M481.7 373.5h.6M470.9 391.6h.6M468.1 372.2h.6M460.5 373.2h.6M471.5 386.3h.6M466.6 386.9h.6M461.9 380.5h.6M470.2 376.9h.6M466.1 384.4h.6M470.8 383.8h.6M477.1 379.0h.6M471.3 371.6h.6M468.1 375.2h.6M479.9 378.8h.6M463.8 376.4h.6M462.3 390.0h.6M467.5 377.4h.6M469.6 390.2h.6M470.1 375.3h.6M469.5 383.6h.6M463.7 378.7h.6M472.8 362.7h.6M462.6 380.8h.6M466.7 375.0h.6M472.9 377.1h.6M471.6 373.5h.6M468.3 381.4h.6M472.8 383.9h.6M467.5 380.9h.6M464.3 378.6h.6M466.7 384.2h.6M467.1 375.8h.6M471.1 380.4h.6M467.5 374.4h.6M468.8 386.8h.6M476.0 369.5h.6M470.2 375.3h.6M465.5 386.2h.6M465.8 372.2h.6M470.1 372.4h.6M471.9 375.0h.6M456.4 377.1h.6M472.2 373.9h.6M469.0 376.5h.6M465.7 381.4h.6M465.8 383.9h.6M465.8 377.8h.6M466.4 374.4h.6M476.1 373.9h.6M470.3 373.2h.6M472.3 386.0h.6M477.9 377.2h.6M466.7 373.7h.6M472.9 388.3h.6M461.1 376.8h.6M470.4 381.1h.6M473.4 383.2h.6M463.6 378.7h.6M471.2 374.8h.6M472.3 374.7h.6M468.2 375.1h.6M466.9 378.2h.6M464.4 375.3h.6M462.2 370.1h.6M469.2 379.5h.6M471.9 377.0h.6M466.1 374.3h.6M462.0 370.7h.6M477.8 372.0h.6M480.7 359.8h.6M471.1 375.3h.6M469.3 373.4h.6M465.2 377.6h.6M470.0 388.4h.6M471.0 379.9h.6M472.4 382.5h.6M472.6 373.4h.6M467.3 372.8h.6M464.0 385.0h.6M468.8 383.5h.6M473.7 371.5h.6M467.1 378.9h.6M465.2 374.5h.6M465.6 390.4h.6M468.1 375.1h.6M472.2 366.7h.6M473.6 379.0h.6M467.9 377.0h.6M469.3 377.9h.6M472.0 371.8h.6M478.7 382.4h.6M468.0 377.6h.6M472.3 386.8h.6M468.4 368.9h.6M470.4 394.7h.6M462.8 380.6h.6M468.2 383.2h.6M470.9 372.2h.6M468.6 375.6h.6M475.3 377.3h.6M478.9 371.0h.6M462.9 377.6h.6M465.0 383.7h.6M476.6 376.1h.6M480.2 375.3h.6M473.7 378.5h.6M469.0 379.8h.6M460.1 365.2h.6M471.0 391.5h.6M473.5 383.0h.6M463.8 376.3h.6M474.6 371.6h.6M469.4 376.2h.6M477.8 382.9h.6M473.3 371.4h.6M471.7 375.9h.6M462.7 368.1h.6M466.3 371.5h.6M474.9 379.4h.6M467.7 381.8h.6M472.6 379.2h.6M469.1 374.3h.6M463.9 382.5h.6M471.6 370.2h.6M464.3 376.6h.6M471.6 377.1h.6M462.3 380.7h.6M469.0 392.3h.6M474.8 377.9h.6M474.1 374.8h.6M468.6 382.7h.6M472.0 379.9h.6M481.0 387.5h.6M468.1 380.0h.6M466.4 382.2h.6M462.6 377.5h.6M468.8 383.8h.6M474.4 360.0h.6M464.0 375.2h.6M464.3 379.2h.6M462.4 380.6h.6M481.7 369.0h.6M467.7 382.6h.6M472.5 384.9h.6M472.9 382.4h.6M464.0 391.4h.6M471.1 381.5h.6M463.5 383.0h.6M469.2 367.9h.6M471.0 372.3h.6M474.4 380.1h.6M473.4 376.8h.6M482.8 368.9h.6M465.6 378.3h.6M470.5 362.1h.6M467.4 377.2h.6M463.7 379.0h.6M463.8 376.0h.6M481.8 377.4h.6M471.9 378.4h.6M467.5 374.3h.6M471.4 374.8h.6M470.2 387.1h.6M468.2 382.1h.6M467.1 378.5h.6M465.9 380.0h.6M466.9 374.5h.6M469.2 377.0h.6M473.9 381.8h.6M468.9 373.0h.6M470.0 364.8h.6M467.7 383.2h.6M466.9 377.1h.6M476.3 377.0h.6M476.6 375.2h.6M474.7 374.8h.6M465.5 376.0h.6M466.6 384.9h.6M483.4 376.7h.6M467.0 370.7h.6M466.4 377.4h.6M469.6 383.5h.6M470.0 383.1h.6M478.8 368.7h.6M462.6 378.2h.6M469.7 381.3h.6M470.2 375.8h.6M470.0 383.8h.6M469.5 383.5h.6M472.9 382.8h.6M465.4 378.1h.6M475.6 375.5h.6M473.0 373.6h.6M471.0 382.5h.6M464.1 373.9h.6M468.5 381.6h.6M470.4 384.5h.6M464.3 380.3h.6M473.2 384.0h.6M468.2 386.3h.6M463.8 384.3h.6M466.6 372.4h.6M462.2 364.5h.6M457.5 367.9h.6M461.4 379.2h.6M471.9 370.3h.6M462.2 377.1h.6M462.8 373.9h.6M461.2 376.7h.6M472.4 364.3h.6M471.9 366.8h.6M462.4 380.4h.6M470.3 372.5h.6M465.7 384.0h.6M466.5 375.5h.6M464.9 379.4h.6M461.6 374.8h.6M475.6 372.6h.6M470.9 374.7h.6M458.6 366.4h.6M478.2 378.6h.6M466.3 379.1h.6M466.9 380.8h.6M466.1 387.0h.6M472.3 386.1h.6M466.1 376.6h.6M475.4 368.9h.6M464.6 373.5h.6M467.2 381.2h.6M466.7 367.3h.6M472.8 371.8h.6M473.6 370.7h.6M471.8 361.0h.6M463.7 365.1h.6M470.4 378.5h.6M475.4 376.0h.6M468.6 374.6h.6M469.2 384.5h.6M464.3 376.6h.6M472.3 368.7h.6M473.7 376.5h.6M482.8 370.4h.6M467.5 375.9h.6M468.4 371.6h.6M464.5 374.8h.6M472.3 375.0h.6M471.7 379.8h.6M462.9 374.7h.6M463.5 370.7h.6M468.4 377.6h.6M461.0 365.5h.6M472.0 381.1h.6M472.9 374.3h.6M475.8 374.7h.6M473.0 376.8h.6M472.4 380.1h.6M465.3 374.2h.6M472.5 362.5h.6M475.9 373.7h.6M463.2 369.1h.6M470.5 374.6h.6M465.1 384.3h.6M461.8 372.7h.6M476.3 371.1h.6M470.9 374.4h.6M474.6 375.8h.6M471.8 382.0h.6M473.2 371.5h.6M477.7 376.7h.6M469.1 380.3h.6M469.1 377.4h.6M477.1 371.4h.6M467.9 374.3h.6M467.1 379.1h.6M457.8 386.5h.6M464.5 382.5h.6M464.6 379.9h.6M463.6 387.0h.6M471.9 380.6h.6M461.4 379.8h.6M470.0 380.2h.6M464.2 378.0h.6M470.5 366.6h.6M471.2 378.8h.6M463.4 382.1h.6M466.2 379.1h.6M462.1 382.3h.6M465.2 374.4h.6M470.4 378.7h.6M476.2 376.8h.6M466.5 378.5h.6M457.8 385.2h.6M471.3 378.7h.6M462.1 381.5h.6M473.7 380.1h.6M479.0 381.3h.6M468.8 378.1h.6M463.9 370.8h.6M480.3 376.4h.6M464.8 379.0h.6M458.9 364.4h.6M466.5 379.7h.6M470.1 382.7h.6M469.2 372.9h.6M463.5 383.3h.6M484.8 377.1h.6M471.7 376.3h.6M473.5 377.5h.6M470.8 378.0h.6M476.4 373.6h.6M471.0 377.4h.6M473.9 372.0h.6M474.9 373.7h.6M469.3 377.4h.6M469.7 380.8h.6M468.3 375.7h.6M473.7 373.0h.6M466.9 379.5h.6M472.0 377.7h.6M470.2 377.6h.6M472.4 377.2h.6M470.6 380.0h.6M466.2 379.0h.6M468.4 382.7h.6M474.1 374.9h.6M458.7 380.6h.6M477.2 375.7h.6M464.5 365.8h.6M469.4 372.3h.6M470.8 378.5h.6M468.4 374.5h.6M476.2 372.3h.6M471.1 363.9h.6M469.4 376.7h.6M471.5 373.1h.6M466.0 373.9h.6M470.6 380.0h.6M472.6 373.1h.6M478.6 375.6h.6M469.0 382.2h.6M477.3 384.3h.6M464.8 374.3h.6M470.7 378.9h.6M472.7 390.3h.6M467.2 381.9h.6M466.0 373.6h.6M476.9 378.5h.6M472.4 371.4h.6M469.6 378.6h.6M466.8 380.4h.6M464.9 382.0h.6M470.1 376.2h.6M464.0 381.2h.6M468.6 382.3h.6M467.2 379.8h.6M470.7 382.8h.6M467.2 377.2h.6M465.2 387.6h.6M470.8 360.8h.6M462.9 379.7h.6M467.8 370.2h.6M468.6 381.5h.6M472.0 382.3h.6M466.5 382.3h.6M469.1 379.8h.6M475.2 373.6h.6M465.2 380.4h.6M466.3 374.5h.6M478.0 387.9h.6M468.4 379.1h.6M467.7 379.0h.6M469.4 385.8h.6M469.7 380.9h.6M475.9 377.0h.6M463.0 365.4h.6M468.3 364.3h.6M466.9 384.1h.6M474.8 370.8h.6M463.3 376.2h.6M471.1 370.1h.6M465.6 381.2h.6M477.9 369.8h.6M472.4 373.9h.6M471.3 376.0h.6M472.8 379.6h.6M471.6 357.0h.6M473.0 374.2h.6M477.2 373.4h.6M458.8 368.3h.6M472.5 370.3h.6M468.9 372.9h.6M469.1 383.2h.6M472.2 380.8h.6M467.9 376.8h.6M461.6 372.8h.6M469.3 381.7h.6M462.8 385.1h.6M468.3 378.2h.6M472.0 382.0h.6M466.9 372.6h.6M467.3 383.5h.6M476.2 364.8h.6M469.3 380.5h.6M462.6 379.4h.6M481.5 383.5h.6M469.7 376.1h.6M467.2 381.7h.6M470.5 381.0h.6M474.9 391.4h.6M468.7 389.1h.6M474.3 384.6h.6M469.3 378.1h.6M466.4 373.2h.6M469.1 372.8h.6M467.2 377.0h.6M469.8 376.9h.6M465.6 377.4h.6M467.4 378.8h.6M479.4 368.7h.6M463.5 373.8h.6M476.8 380.8h.6M463.7 375.5h.6M466.4 369.8h.6M477.9 376.2h.6M469.3 383.2h.6M473.7 376.0h.6M466.6 367.7h.6M470.3 382.9h.6M465.2 384.0h.6M479.6 374.9h.6M468.2 379.8h.6M470.1 374.1h.6M465.6 383.1h.6M480.1 371.3h.6M471.5 374.4h.6M467.4 379.3h.6M469.7 375.9h.6M468.9 379.9h.6M476.0 376.1h.6M469.7 373.1h.6M467.3 380.4h.6M465.7 375.4h.6M470.0 377.6h.6M468.9 370.9h.6M469.0 379.2h.6M467.5 382.7h.6M469.8 378.4h.6M464.9 381.9h.6M462.0 375.2h.6M467.8 376.6h.6M473.6 373.7h.6M470.0 384.7h.6M481.7 381.5h.6M473.6 380.1h.6M472.5 377.2h.6M482.5 378.1h.6M466.7 380.6h.6M471.9 377.8h.6M468.1 379.7h.6M469.0 374.4h.6M466.4 380.0h.6M469.2 376.7h.6M471.7 369.5h.6M466.1 374.9h.6M471.2 378.8h.6M463.7 377.1h.6M463.6 368.6h.6M467.6 383.2h.6M469.4 357.5h.6M463.8 377.2h.6M471.2 372.4h.6M465.8 367.5h.6M468.5 372.0h.6M467.4 380.4h.6M465.7 372.8h.6M462.8 376.4h.6M459.3 375.4h.6M476.0 375.5h.6M466.4 382.8h.6M478.4 372.3h.6M471.4 376.7h.6M466.2 381.5h.6M475.4 372.1h.6M478.4 374.0h.6M468.6 380.6h.6M464.3 372.4h.6M459.6 381.1h.6M485.2 378.4h.6M473.8 373.7h.6M468.8 379.9h.6M469.1 374.5h.6M460.6 375.9h.6M474.1 377.6h.6M468.0 384.1h.6M469.7 377.2h.6M471.9 394.3h.6M477.1 373.3h.6M466.1 377.6h.6M471.9 375.1h.6M478.1 356.3h.6M469.7 374.8h.6M465.6 374.8h.6M466.3 376.9h.6M464.3 380.2h.6M466.0 379.3h.6M468.5 386.4h.6M472.3 384.4h.6M476.8 374.0h.6M467.8 374.5h.6M481.9 372.9h.6M475.6 378.3h.6M469.4 379.5h.6M464.7 381.8h.6M472.4 384.4h.6M467.8 383.6h.6M471.4 374.3h.6M456.4 381.4h.6M472.3 383.7h.6M471.1 373.7h.6M470.6 382.0h.6M466.7 379.0h.6M469.8 391.4h.6M468.2 376.5h.6M464.5 378.3h.6M463.8 378.5h.6M480.9 362.6h.6M462.2 379.5h.6M470.0 369.8h.6M470.8 381.8h.6M471.8 371.6h.6M468.5 386.7h.6M478.3 374.2h.6M469.9 373.4h.6M462.2 379.7h.6M462.7 372.1h.6M469.7 392.8h.6M465.1 370.5h.6M477.8 365.0h.6M462.8 380.3h.6M469.4 360.8h.6M468.4 381.1h.6M468.9 375.4h.6M477.0 380.7h.6M468.0 383.1h.6M469.0 380.7h.6M469.4 380.4h.6M464.0 385.0h.6M470.8 381.4h.6M464.4 380.8h.6M475.3 369.4h.6M457.7 384.2h.6M467.9 373.0h.6M468.1 378.4h.6M472.4 380.6h.6M468.2 379.0h.6M472.6 375.6h.6M472.5 377.4h.6M475.0 378.7h.6M482.5 372.9h.6M477.6 384.1h.6M465.1 377.3h.6M471.0 374.3h.6M472.5 375.8h.6M471.7 376.0h.6M465.6 386.4h.6M465.8 378.6h.6M451.9 377.6h.6M467.9 378.7h.6M471.1 374.6h.6M459.1 379.0h.6M469.0 375.6h.6M472.7 375.9h.6M466.1 374.7h.6M472.8 374.1h.6M463.9 375.5h.6M480.1 381.4h.6M479.7 373.7h.6M467.3 377.7h.6M469.1 382.1h.6M473.4 382.6h.6M469.8 375.8h.6M471.5 377.7h.6M481.8 372.9h.6M472.7 377.3h.6M476.1 376.6h.6M474.9 374.7h.6M470.8 372.6h.6M474.9 378.4h.6M474.4 369.1h.6M457.2 379.3h.6M470.8 384.2h.6M476.4 369.9h.6M465.4 377.1h.6M481.9 372.8h.6M473.2 384.9h.6M468.4 387.9h.6M468.2 376.7h.6M461.4 374.9h.6M468.7 384.7h.6M469.3 378.7h.6M466.1 387.2h.6M465.9 374.9h.6M467.4 368.4h.6M468.6 384.3h.6M482.3 386.0h.6M465.4 380.6h.6M467.6 377.2h.6M465.6 376.9h.6M472.0 384.2h.6M474.2 370.0h.6M472.5 376.9h.6M472.0 386.7h.6M465.2 386.4h.6M470.6 376.6h.6M468.7 381.2h.6M467.9 379.8h.6M464.3 376.1h.6M478.3 380.4h.6M466.3 382.5h.6M463.2 377.6h.6M468.0 376.9h.6M464.1 375.4h.6M468.3 382.6h.6M466.3 378.1h.6M467.5 379.2h.6M468.8 375.3h.6M468.8 369.2h.6M472.6 379.0h.6M466.8 378.8h.6M469.6 385.8h.6M477.2 371.8h.6M476.0 381.3h.6M473.7 372.2h.6M468.2 382.6h.6M468.2 375.9h.6M469.0 378.4h.6M467.5 385.2h.6M479.9 381.7h.6M469.6 381.9h.6M472.7 375.6h.6M467.3 372.3h.6M464.5 374.9h.6M466.7 382.6h.6M476.3 380.7h.6M477.3 378.8h.6M464.9 375.6h.6M465.2 369.4h.6M462.2 380.1h.6M470.2 377.6h.6M468.0 364.0h.6M475.7 373.7h.6M466.5 376.1h.6M469.0 377.9h.6M469.8 368.0h.6M471.3 380.3h.6M463.5 372.9h.6M461.0 379.7h.6M469.0 379.0h.6M466.9 383.9h.6M468.1 382.8h.6M469.4 379.3h.6M470.7 378.4h.6" stroke="#222" stroke-width="0.6" stroke-opacity="0.92" fill="none"/>
<text x="474.60" y="368.54" font-size="2.6" fill="#222" >R1</text>
<text x="478.10" y="373.44" font-size="2.6" fill="#222" >2.6%</text>
<line x1="435.50" y1="397.40" x2="437.10" y2="397.40" stroke="#111" stroke-width="0.7" stroke-linecap="butt"/>
<text x="432.70" y="398.00" font-size="3.4" fill="#000" stroke="#000" stroke-width="0.12" text-anchor="middle" transform="rotate(-45 432.70 398.00)">10<tspan font-size="2.47" dy="-1.39" stroke-width="0.06">1</tspan><tspan dy="1.39" font-size="3.3">&#8203;</tspan></text>
<line x1="437.10" y1="397.40" x2="437.10" y2="399.00" stroke="#111" stroke-width="0.7" stroke-linecap="butt"/>
<line x1="435.50" y1="386.23" x2="437.10" y2="386.23" stroke="#111" stroke-width="0.7" stroke-linecap="butt"/>
<text x="432.70" y="386.83" font-size="3.4" fill="#000" stroke="#000" stroke-width="0.12" text-anchor="middle" transform="rotate(-45 432.70 386.83)">10<tspan font-size="2.47" dy="-1.39" stroke-width="0.06">2</tspan><tspan dy="1.39" font-size="3.3">&#8203;</tspan></text>
<line x1="449.08" y1="397.40" x2="449.08" y2="399.00" stroke="#111" stroke-width="0.7" stroke-linecap="butt"/>
<line x1="435.50" y1="375.07" x2="437.10" y2="375.07" stroke="#111" stroke-width="0.7" stroke-linecap="butt"/>
<text x="432.70" y="375.67" font-size="3.4" fill="#000" stroke="#000" stroke-width="0.12" text-anchor="middle" transform="rotate(-45 432.70 375.67)">10<tspan font-size="2.47" dy="-1.39" stroke-width="0.06">3</tspan><tspan dy="1.39" font-size="3.3">&#8203;</tspan></text>
<line x1="461.07" y1="397.40" x2="461.07" y2="399.00" stroke="#111" stroke-width="0.7" stroke-linecap="butt"/>
<line x1="435.50" y1="363.90" x2="437.10" y2="363.90" stroke="#111" stroke-width="0.7" stroke-linecap="butt"/>
<text x="432.70" y="364.50" font-size="3.4" fill="#000" stroke="#000" stroke-width="0.12" text-anchor="middle" transform="rotate(-45 432.70 364.50)">10<tspan font-size="2.47" dy="-1.39" stroke-width="0.06">4</tspan><tspan dy="1.39" font-size="3.3">&#8203;</tspan></text>
<line x1="473.05" y1="397.40" x2="473.05" y2="399.00" stroke="#111" stroke-width="0.7" stroke-linecap="butt"/>
<line x1="435.50" y1="352.73" x2="437.10" y2="352.73" stroke="#111" stroke-width="0.7" stroke-linecap="butt"/>
<text x="432.70" y="353.33" font-size="3.4" fill="#000" stroke="#000" stroke-width="0.12" text-anchor="middle" transform="rotate(-45 432.70 353.33)">10<tspan font-size="2.47" dy="-1.39" stroke-width="0.06">5</tspan><tspan dy="1.39" font-size="3.3">&#8203;</tspan></text>
<line x1="485.03" y1="397.40" x2="485.03" y2="399.00" stroke="#111" stroke-width="0.7" stroke-linecap="butt"/>
<line x1="435.50" y1="341.57" x2="437.10" y2="341.57" stroke="#111" stroke-width="0.7" stroke-linecap="butt"/>
<text x="432.70" y="342.17" font-size="3.4" fill="#000" stroke="#000" stroke-width="0.12" text-anchor="middle" transform="rotate(-45 432.70 342.17)">10<tspan font-size="2.47" dy="-1.39" stroke-width="0.06">6</tspan><tspan dy="1.39" font-size="3.3">&#8203;</tspan></text>
<line x1="497.02" y1="397.40" x2="497.02" y2="399.00" stroke="#111" stroke-width="0.7" stroke-linecap="butt"/>
<line x1="435.50" y1="330.40" x2="437.10" y2="330.40" stroke="#111" stroke-width="0.7" stroke-linecap="butt"/>
<text x="432.70" y="331.00" font-size="3.4" fill="#000" stroke="#000" stroke-width="0.12" text-anchor="middle" transform="rotate(-45 432.70 331.00)">10<tspan font-size="2.47" dy="-1.39" stroke-width="0.06">7.2</tspan><tspan dy="1.39" font-size="3.3">&#8203;</tspan></text>
<line x1="509.00" y1="397.40" x2="509.00" y2="399.00" stroke="#111" stroke-width="0.7" stroke-linecap="butt"/>
<path d="M437.10 394.05h2.3M440.70 397.40v-1.9M437.10 392.04h2.3M442.85 397.40v-1.9M437.10 390.70h2.3M444.29 397.40v-1.9M437.10 389.58h2.3M445.49 397.40v-1.9M437.10 388.69h2.3M446.45 397.40v-1.9M437.10 387.91h2.3M447.29 397.40v-1.9M437.10 387.35h2.3M447.88 397.40v-1.9M437.10 386.79h2.3M448.48 397.40v-1.9M437.10 382.88h2.3M452.68 397.40v-1.9M437.10 380.87h2.3M454.84 397.40v-1.9M437.10 379.53h2.3M456.27 397.40v-1.9M437.10 378.42h2.3M457.47 397.40v-1.9M437.10 377.52h2.3M458.43 397.40v-1.9M437.10 376.74h2.3M459.27 397.40v-1.9M437.10 376.18h2.3M459.87 397.40v-1.9M437.10 375.62h2.3M460.47 397.40v-1.9M437.10 371.72h2.3M464.66 397.40v-1.9M437.10 369.71h2.3M466.82 397.40v-1.9M437.10 368.37h2.3M468.26 397.40v-1.9M437.10 367.25h2.3M469.46 397.40v-1.9M437.10 366.36h2.3M470.41 397.40v-1.9M437.10 365.57h2.3M471.25 397.40v-1.9M437.10 365.02h2.3M471.85 397.40v-1.9M437.10 364.46h2.3M472.45 397.40v-1.9M437.10 360.55h2.3M476.64 397.40v-1.9M437.10 358.54h2.3M478.80 397.40v-1.9M437.10 357.20h2.3M480.24 397.40v-1.9M437.10 356.08h2.3M481.44 397.40v-1.9M437.10 355.19h2.3M482.40 397.40v-1.9M437.10 354.41h2.3M483.24 397.40v-1.9M437.10 353.85h2.3M483.84 397.40v-1.9M437.10 353.29h2.3M484.43 397.40v-1.9M437.10 349.38h2.3M488.63 397.40v-1.9M437.10 347.37h2.3M490.79 397.40v-1.9M437.10 346.03h2.3M492.22 397.40v-1.9M437.10 344.92h2.3M493.42 397.40v-1.9M437.10 344.02h2.3M494.38 397.40v-1.9M437.10 343.24h2.3M495.22 397.40v-1.9M437.10 342.68h2.3M495.82 397.40v-1.9M437.10 342.12h2.3M496.42 397.40v-1.9M437.10 338.22h2.3M500.61 397.40v-1.9M437.10 336.21h2.3M502.77 397.40v-1.9M437.10 334.87h2.3M504.21 397.40v-1.9M437.10 333.75h2.3M505.40 397.40v-1.9M437.10 332.86h2.3M506.36 397.40v-1.9M437.10 332.07h2.3M507.20 397.40v-1.9M437.10 331.52h2.3M507.80 397.40v-1.9M437.10 330.96h2.3M508.40 397.40v-1.9" stroke="#000" stroke-width="0.8" fill="none"/>
<text x="427.70" y="372.7" font-size="3.75" fill="#111" stroke="#111" stroke-width="0.12" text-anchor="middle" transform="rotate(-90 427.70 372.7)">Annexin V-A</text>
<text x="438.30" y="401.40" font-size="3.5" fill="#000" stroke="#000" stroke-width="0.12" text-anchor="end" transform="rotate(-45 438.30 401.40)">10<tspan font-size="2.62" dy="-1.47" stroke-width="0.06">1</tspan><tspan dy="1.47" font-size="3.5">&#8203;</tspan></text>
<text x="450.28" y="401.40" font-size="3.5" fill="#000" stroke="#000" stroke-width="0.12" text-anchor="end" transform="rotate(-45 450.28 401.40)">10<tspan font-size="2.62" dy="-1.47" stroke-width="0.06">2</tspan><tspan dy="1.47" font-size="3.5">&#8203;</tspan></text>
<text x="462.27" y="401.40" font-size="3.5" fill="#000" stroke="#000" stroke-width="0.12" text-anchor="end" transform="rotate(-45 462.27 401.40)">10<tspan font-size="2.62" dy="-1.47" stroke-width="0.06">3</tspan><tspan dy="1.47" font-size="3.5">&#8203;</tspan></text>
<text x="474.25" y="401.40" font-size="3.5" fill="#000" stroke="#000" stroke-width="0.12" text-anchor="end" transform="rotate(-45 474.25 401.40)">10<tspan font-size="2.62" dy="-1.47" stroke-width="0.06">4</tspan><tspan dy="1.47" font-size="3.5">&#8203;</tspan></text>
<text x="486.23" y="401.40" font-size="3.5" fill="#000" stroke="#000" stroke-width="0.12" text-anchor="end" transform="rotate(-45 486.23 401.40)">10<tspan font-size="2.62" dy="-1.47" stroke-width="0.06">5</tspan><tspan dy="1.47" font-size="3.5">&#8203;</tspan></text>
<text x="498.22" y="401.40" font-size="3.5" fill="#000" stroke="#000" stroke-width="0.12" text-anchor="end" transform="rotate(-45 498.22 401.40)">10<tspan font-size="2.62" dy="-1.47" stroke-width="0.06">6</tspan><tspan dy="1.47" font-size="3.5">&#8203;</tspan></text>
<text x="510.20" y="401.40" font-size="3.5" fill="#000" stroke="#000" stroke-width="0.12" text-anchor="end" transform="rotate(-45 510.20 401.40)">10<tspan font-size="2.62" dy="-1.47" stroke-width="0.06">7.2</tspan><tspan dy="1.47" font-size="3.5">&#8203;</tspan></text>
<text x="473.65" y="407.94" font-size="4.0" text-anchor="middle" fill="#111" stroke="#111" stroke-width="0.112" >CFSE-A</text>
<path d="M242.3 436.2V414.6" fill="none" stroke="#111" stroke-width="1.1" stroke-linejoin="miter"/>
<path d="M239.2 418.6L242.3 414.2L245.4 418.6" fill="none" stroke="#111" stroke-width="1.1" stroke-linejoin="miter"/>
<path d="M241.75 436.2H268" fill="none" stroke="#111" stroke-width="1.1" stroke-linejoin="miter"/>
<polygon points="267.2,433.5 272.6,436.2 267.2,438.9" fill="#0a0a0a"/>
<text x="237.1" y="425.6" font-size="6.8" fill="#111" text-anchor="middle" transform="rotate(-90 237.1 425.6)">Annexin V</text>
<text x="255.40" y="447.15" font-size="6.8" text-anchor="middle" fill="#111" stroke="#111" stroke-width="0.190" >CFSE</text>
<text x="12.00" y="471.32" font-size="12.0" font-weight="bold" fill="#000" stroke="#000" stroke-width="0.3">E</text>
<text x="31.20" y="516.36" font-size="4.9" fill="#333" stroke="#333" stroke-width="0.137" >[CPM]</text>
<line x1="49.20" y1="523.50" x2="49.20" y2="614.40" stroke="#0a0a0a" stroke-width="1.6" stroke-linecap="butt"/>
<line x1="46.00" y1="524.60" x2="49.20" y2="524.60" stroke="#0a0a0a" stroke-width="1.2" stroke-linecap="butt"/>
<text x="45.40" y="526.36" font-size="4.9" text-anchor="end" fill="#222" stroke="#222" stroke-width="0.137" >500000</text>
<line x1="46.00" y1="542.40" x2="49.20" y2="542.40" stroke="#0a0a0a" stroke-width="1.2" stroke-linecap="butt"/>
<text x="45.40" y="544.16" font-size="4.9" text-anchor="end" fill="#222" stroke="#222" stroke-width="0.137" >400000</text>
<line x1="46.00" y1="560.20" x2="49.20" y2="560.20" stroke="#0a0a0a" stroke-width="1.2" stroke-linecap="butt"/>
<text x="45.40" y="561.96" font-size="4.9" text-anchor="end" fill="#222" stroke="#222" stroke-width="0.137" >300000</text>
<line x1="46.00" y1="578.00" x2="49.20" y2="578.00" stroke="#0a0a0a" stroke-width="1.2" stroke-linecap="butt"/>
<text x="45.40" y="579.76" font-size="4.9" text-anchor="end" fill="#222" stroke="#222" stroke-width="0.137" >200000</text>
<line x1="46.00" y1="595.80" x2="49.20" y2="595.80" stroke="#0a0a0a" stroke-width="1.2" stroke-linecap="butt"/>
<text x="45.40" y="597.56" font-size="4.9" text-anchor="end" fill="#222" stroke="#222" stroke-width="0.137" >100000</text>
<line x1="46.00" y1="613.60" x2="49.20" y2="613.60" stroke="#0a0a0a" stroke-width="1.2" stroke-linecap="butt"/>
<text x="45.40" y="615.36" font-size="4.9" text-anchor="end" fill="#222" stroke="#222" stroke-width="0.137" >0</text>
<rect x="51.60" y="612.25" width="6.90" height="1.35" fill="#ffffff" stroke="#111" stroke-width="1.3"/>
<rect x="64.10" y="612.05" width="6.90" height="1.55" fill="#cfcfcf" stroke="#111" stroke-width="1.3"/>
<rect x="76.50" y="610.95" width="7.00" height="2.65" fill="#9a9a9a" stroke="#111" stroke-width="1.3"/>
<rect x="88.60" y="611.05" width="7.30" height="2.55" fill="#6e6e6e" stroke="#111" stroke-width="1.3"/>
<rect x="100.80" y="611.25" width="7.60" height="2.35" fill="#0a0a0a" stroke="#111" stroke-width="1.3"/>
<line x1="117.10" y1="570.40" x2="117.10" y2="567.80" stroke="#111" stroke-width="1.3" stroke-linecap="butt"/>
<line x1="114.90" y1="567.80" x2="119.30" y2="567.80" stroke="#111" stroke-width="1.3" stroke-linecap="butt"/>
<rect x="113.10" y="571.05" width="8.00" height="42.55" fill="#ffffff" stroke="#111" stroke-width="1.3"/>
<line x1="129.75" y1="553.30" x2="129.75" y2="552.70" stroke="#111" stroke-width="1.3" stroke-linecap="butt"/>
<line x1="127.55" y1="552.70" x2="131.95" y2="552.70" stroke="#111" stroke-width="1.3" stroke-linecap="butt"/>
<rect x="126.00" y="553.95" width="7.50" height="59.65" fill="#cfcfcf" stroke="#111" stroke-width="1.3"/>
<line x1="142.25" y1="548.80" x2="142.25" y2="544.30" stroke="#111" stroke-width="1.3" stroke-linecap="butt"/>
<line x1="140.05" y1="544.30" x2="144.45" y2="544.30" stroke="#111" stroke-width="1.3" stroke-linecap="butt"/>
<rect x="138.30" y="549.45" width="7.90" height="64.15" fill="#9a9a9a" stroke="#111" stroke-width="1.3"/>
<line x1="154.35" y1="542.50" x2="154.35" y2="540.00" stroke="#111" stroke-width="1.3" stroke-linecap="butt"/>
<line x1="152.15" y1="540.00" x2="156.55" y2="540.00" stroke="#111" stroke-width="1.3" stroke-linecap="butt"/>
<rect x="150.30" y="543.15" width="8.10" height="70.45" fill="#6e6e6e" stroke="#111" stroke-width="1.3"/>
<line x1="166.85" y1="535.80" x2="166.85" y2="535.00" stroke="#111" stroke-width="1.3" stroke-linecap="butt"/>
<line x1="164.65" y1="535.00" x2="169.05" y2="535.00" stroke="#111" stroke-width="1.3" stroke-linecap="butt"/>
<rect x="162.80" y="536.45" width="8.10" height="77.15" fill="#0a0a0a" stroke="#111" stroke-width="1.3"/>
<line x1="179.35" y1="562.50" x2="179.35" y2="560.80" stroke="#111" stroke-width="1.3" stroke-linecap="butt"/>
<line x1="177.15" y1="560.80" x2="181.55" y2="560.80" stroke="#111" stroke-width="1.3" stroke-linecap="butt"/>
<rect x="175.30" y="563.15" width="8.10" height="50.45" fill="#2a2a2a" stroke="#111" stroke-width="1.3"/>
<line x1="48.40" y1="613.60" x2="185.20" y2="613.60" stroke="#0a0a0a" stroke-width="1.6" stroke-linecap="butt"/>
<line x1="55.05" y1="613.60" x2="55.05" y2="617.10" stroke="#0a0a0a" stroke-width="1.3" stroke-linecap="butt"/>
<line x1="67.55" y1="613.60" x2="67.55" y2="617.10" stroke="#0a0a0a" stroke-width="1.3" stroke-linecap="butt"/>
<line x1="80.00" y1="613.60" x2="80.00" y2="617.10" stroke="#0a0a0a" stroke-width="1.3" stroke-linecap="butt"/>
<line x1="92.25" y1="613.60" x2="92.25" y2="617.10" stroke="#0a0a0a" stroke-width="1.3" stroke-linecap="butt"/>
<line x1="104.60" y1="613.60" x2="104.60" y2="617.10" stroke="#0a0a0a" stroke-width="1.3" stroke-linecap="butt"/>
<line x1="117.10" y1="613.60" x2="117.10" y2="617.10" stroke="#0a0a0a" stroke-width="1.3" stroke-linecap="butt"/>
<line x1="129.75" y1="613.60" x2="129.75" y2="617.10" stroke="#0a0a0a" stroke-width="1.3" stroke-linecap="butt"/>
<line x1="142.25" y1="613.60" x2="142.25" y2="617.10" stroke="#0a0a0a" stroke-width="1.3" stroke-linecap="butt"/>
<line x1="154.35" y1="613.60" x2="154.35" y2="617.10" stroke="#0a0a0a" stroke-width="1.3" stroke-linecap="butt"/>
<line x1="166.85" y1="613.60" x2="166.85" y2="617.10" stroke="#0a0a0a" stroke-width="1.3" stroke-linecap="butt"/>
<line x1="179.35" y1="613.60" x2="179.35" y2="617.10" stroke="#0a0a0a" stroke-width="1.3" stroke-linecap="butt"/>
<path d="M118.30 490.20V484.30H183.80V490.20" fill="none" stroke="#111" stroke-width="1.1" stroke-linejoin="miter"/>
<text x="150.80" y="484.51" font-size="5.8" text-anchor="middle" fill="#111">*</text>
<path d="M153.80 501.80V495.80H165.80V501.80" fill="none" stroke="#111" stroke-width="1.1" stroke-linejoin="miter"/>
<text x="159.40" y="496.51" font-size="5.8" text-anchor="middle" fill="#111">***</text>
<path d="M142.00 519.60V513.80H154.30V519.60" fill="none" stroke="#111" stroke-width="1.1" stroke-linejoin="miter"/>
<text x="147.20" y="513.51" font-size="5.8" text-anchor="middle" fill="#111">***</text>
<path d="M130.50 531.30V525.80H142.00V531.30" fill="none" stroke="#111" stroke-width="1.1" stroke-linejoin="miter"/>
<text x="134.40" y="526.31" font-size="5.8" text-anchor="middle" fill="#111">**</text>
<path d="M118.30 543.00V537.00H130.50V543.00" fill="none" stroke="#111" stroke-width="1.1" stroke-linejoin="miter"/>
<text x="123.40" y="538.31" font-size="5.8" text-anchor="middle" fill="#111">***</text>
<text x="2.00" y="630.25" font-size="6.8" fill="#111" stroke="#111" stroke-width="0.190" >B6DC / Ik <tspan font-size="3.74" dy="-2.86" stroke-width="0.06">-/-</tspan><tspan dy="2.86" font-size="6.8">&#8203;</tspan>DC</text>
<text x="55.90" y="630.18" font-size="6.6" text-anchor="middle" fill="#111" stroke="#111" stroke-width="0.185" >1/0</text>
<text x="69.90" y="630.18" font-size="6.6" text-anchor="middle" fill="#111" stroke="#111" stroke-width="0.185" >1/1</text>
<text x="83.10" y="630.18" font-size="6.6" text-anchor="middle" fill="#111" stroke="#111" stroke-width="0.185" >1/2</text>
<text x="96.40" y="630.18" font-size="6.6" text-anchor="middle" fill="#111" stroke="#111" stroke-width="0.185" >1/4</text>
<text x="107.60" y="630.18" font-size="6.6" text-anchor="middle" fill="#111" stroke="#111" stroke-width="0.185" >0/1</text>
<text x="120.00" y="630.18" font-size="6.6" text-anchor="middle" fill="#111" stroke="#111" stroke-width="0.185" >1/0</text>
<text x="131.60" y="630.18" font-size="6.6" text-anchor="middle" fill="#111" stroke="#111" stroke-width="0.185" >1/1</text>
<text x="143.20" y="630.18" font-size="6.6" text-anchor="middle" fill="#111" stroke="#111" stroke-width="0.185" >1/2</text>
<text x="156.90" y="630.18" font-size="6.6" text-anchor="middle" fill="#111" stroke="#111" stroke-width="0.185" >1/4</text>
<text x="169.90" y="630.18" font-size="6.6" text-anchor="middle" fill="#111" stroke="#111" stroke-width="0.185" >0/1</text>
<text x="176.20" y="624.35" font-size="6.8" fill="#111" stroke="#111" stroke-width="0.190" >Ik<tspan font-size="4.08" dy="-2.86" stroke-width="0.06">-/-</tspan><tspan dy="2.86" font-size="6.8">&#8203;</tspan>DC</text>
<text x="176.20" y="632.43" font-size="6.2" fill="#111" stroke="#111" stroke-width="0.174" >2500</text>
<line x1="58.80" y1="637.50" x2="107.50" y2="637.50" stroke="#111" stroke-width="1.0" stroke-linecap="butt"/>
<line x1="118.80" y1="637.50" x2="190.00" y2="637.50" stroke="#111" stroke-width="1.0" stroke-linecap="butt"/>
<text x="76.20" y="647.41" font-size="6.7" text-anchor="middle" fill="#111" stroke="#111" stroke-width="0.188" >syngeneic</text>
<text x="153.00" y="647.41" font-size="6.7" text-anchor="middle" fill="#111" stroke="#111" stroke-width="0.188" >allogeneic</text>
<text x="70.60" y="666.05" font-size="6.8" fill="#111" stroke="#111" stroke-width="0.190" textLength="22.2" lengthAdjust="spacingAndGlyphs">*<tspan font-style="italic">P</tspan>&lt;.05,</text>
<text x="100.20" y="666.05" font-size="6.8" fill="#111" stroke="#111" stroke-width="0.190" textLength="26.4" lengthAdjust="spacingAndGlyphs">**<tspan font-style="italic">P</tspan>&lt;.01,</text>
<text x="127.70" y="666.05" font-size="6.8" fill="#111" stroke="#111" stroke-width="0.190" textLength="31.7" lengthAdjust="spacingAndGlyphs">***<tspan font-style="italic">P</tspan>&lt;.001</text>
<text x="255.00" y="470.12" font-size="12.0" font-weight="bold" fill="#000" stroke="#000" stroke-width="0.3">F</text>
<text x="285.40" y="516.16" font-size="4.9" fill="#333" stroke="#333" stroke-width="0.137" >[CPM]</text>
<line x1="303.70" y1="524.20" x2="303.70" y2="617.10" stroke="#0a0a0a" stroke-width="1.6" stroke-linecap="butt"/>
<line x1="300.50" y1="525.00" x2="303.70" y2="525.00" stroke="#0a0a0a" stroke-width="1.2" stroke-linecap="butt"/>
<text x="300.10" y="526.76" font-size="4.9" text-anchor="end" fill="#222" stroke="#222" stroke-width="0.137" >200000</text>
<line x1="300.50" y1="547.82" x2="303.70" y2="547.82" stroke="#0a0a0a" stroke-width="1.2" stroke-linecap="butt"/>
<text x="300.10" y="549.58" font-size="4.9" text-anchor="end" fill="#222" stroke="#222" stroke-width="0.137" >150000</text>
<line x1="300.50" y1="570.64" x2="303.70" y2="570.64" stroke="#0a0a0a" stroke-width="1.2" stroke-linecap="butt"/>
<text x="300.10" y="572.40" font-size="4.9" text-anchor="end" fill="#222" stroke="#222" stroke-width="0.137" >100000</text>
<line x1="300.50" y1="593.46" x2="303.70" y2="593.46" stroke="#0a0a0a" stroke-width="1.2" stroke-linecap="butt"/>
<text x="300.10" y="595.22" font-size="4.9" text-anchor="end" fill="#222" stroke="#222" stroke-width="0.137" >50000</text>
<line x1="300.50" y1="616.28" x2="303.70" y2="616.28" stroke="#0a0a0a" stroke-width="1.2" stroke-linecap="butt"/>
<text x="300.10" y="618.04" font-size="4.9" text-anchor="end" fill="#222" stroke="#222" stroke-width="0.137" >0</text>
<line x1="311.45" y1="549.30" x2="311.45" y2="545.90" stroke="#111" stroke-width="1.4" stroke-linecap="butt"/>
<line x1="308.55" y1="545.90" x2="314.35" y2="545.90" stroke="#111" stroke-width="1.4" stroke-linecap="butt"/>
<rect x="307.00" y="550.00" width="8.90" height="66.30" fill="#ffffff" stroke="#111" stroke-width="1.4"/>
<line x1="325.45" y1="562.50" x2="325.45" y2="560.50" stroke="#111" stroke-width="1.4" stroke-linecap="butt"/>
<line x1="322.55" y1="560.50" x2="328.35" y2="560.50" stroke="#111" stroke-width="1.4" stroke-linecap="butt"/>
<rect x="321.10" y="563.20" width="8.70" height="53.10" fill="#ffffff" stroke="#111" stroke-width="1.4"/>
<line x1="339.50" y1="561.30" x2="339.50" y2="548.30" stroke="#111" stroke-width="1.4" stroke-linecap="butt"/>
<line x1="336.60" y1="548.30" x2="342.40" y2="548.30" stroke="#111" stroke-width="1.4" stroke-linecap="butt"/>
<rect x="335.00" y="562.00" width="9.00" height="54.30" fill="#ffffff" stroke="#111" stroke-width="1.4"/>
<line x1="353.50" y1="599.50" x2="353.50" y2="598.50" stroke="#111" stroke-width="1.4" stroke-linecap="butt"/>
<line x1="350.60" y1="598.50" x2="356.40" y2="598.50" stroke="#111" stroke-width="1.4" stroke-linecap="butt"/>
<rect x="349.10" y="600.20" width="8.80" height="16.10" fill="#ffffff" stroke="#111" stroke-width="1.4"/>
<line x1="367.65" y1="604.30" x2="367.65" y2="601.80" stroke="#111" stroke-width="1.4" stroke-linecap="butt"/>
<line x1="364.75" y1="601.80" x2="370.55" y2="601.80" stroke="#111" stroke-width="1.4" stroke-linecap="butt"/>
<rect x="363.30" y="605.00" width="8.70" height="11.30" fill="#ffffff" stroke="#111" stroke-width="1.4"/>
<line x1="381.50" y1="536.30" x2="381.50" y2="535.60" stroke="#111" stroke-width="1.4" stroke-linecap="butt"/>
<line x1="378.60" y1="535.60" x2="384.40" y2="535.60" stroke="#111" stroke-width="1.4" stroke-linecap="butt"/>
<rect x="377.00" y="537.00" width="9.00" height="79.30" fill="#0a0a0a" stroke="#111" stroke-width="1.4"/>
<line x1="395.65" y1="542.00" x2="395.65" y2="538.20" stroke="#111" stroke-width="1.4" stroke-linecap="butt"/>
<line x1="392.75" y1="538.20" x2="398.55" y2="538.20" stroke="#111" stroke-width="1.4" stroke-linecap="butt"/>
<rect x="391.20" y="542.70" width="8.90" height="73.60" fill="#0a0a0a" stroke="#111" stroke-width="1.4"/>
<line x1="409.75" y1="553.80" x2="409.75" y2="543.30" stroke="#111" stroke-width="1.4" stroke-linecap="butt"/>
<line x1="406.85" y1="543.30" x2="412.65" y2="543.30" stroke="#111" stroke-width="1.4" stroke-linecap="butt"/>
<rect x="405.20" y="554.50" width="9.10" height="61.80" fill="#0a0a0a" stroke="#111" stroke-width="1.4"/>
<line x1="424.00" y1="588.80" x2="424.00" y2="585.80" stroke="#111" stroke-width="1.4" stroke-linecap="butt"/>
<line x1="421.10" y1="585.80" x2="426.90" y2="585.80" stroke="#111" stroke-width="1.4" stroke-linecap="butt"/>
<rect x="419.50" y="589.50" width="9.00" height="26.80" fill="#0a0a0a" stroke="#111" stroke-width="1.4"/>
<rect x="433.70" y="602.00" width="8.90" height="14.30" fill="#0a0a0a" stroke="#111" stroke-width="1.4"/>
<line x1="302.90" y1="616.30" x2="445.20" y2="616.30" stroke="#0a0a0a" stroke-width="1.6" stroke-linecap="butt"/>
<line x1="311.45" y1="616.30" x2="311.45" y2="619.80" stroke="#0a0a0a" stroke-width="1.3" stroke-linecap="butt"/>
<line x1="325.45" y1="616.30" x2="325.45" y2="619.80" stroke="#0a0a0a" stroke-width="1.3" stroke-linecap="butt"/>
<line x1="339.50" y1="616.30" x2="339.50" y2="619.80" stroke="#0a0a0a" stroke-width="1.3" stroke-linecap="butt"/>
<line x1="353.50" y1="616.30" x2="353.50" y2="619.80" stroke="#0a0a0a" stroke-width="1.3" stroke-linecap="butt"/>
<line x1="367.65" y1="616.30" x2="367.65" y2="619.80" stroke="#0a0a0a" stroke-width="1.3" stroke-linecap="butt"/>
<line x1="381.50" y1="616.30" x2="381.50" y2="619.80" stroke="#0a0a0a" stroke-width="1.3" stroke-linecap="butt"/>
<line x1="395.65" y1="616.30" x2="395.65" y2="619.80" stroke="#0a0a0a" stroke-width="1.3" stroke-linecap="butt"/>
<line x1="409.75" y1="616.30" x2="409.75" y2="619.80" stroke="#0a0a0a" stroke-width="1.3" stroke-linecap="butt"/>
<line x1="424.00" y1="616.30" x2="424.00" y2="619.80" stroke="#0a0a0a" stroke-width="1.3" stroke-linecap="butt"/>
<line x1="438.15" y1="616.30" x2="438.15" y2="619.80" stroke="#0a0a0a" stroke-width="1.3" stroke-linecap="butt"/>
<path d="M307.60 507.60V502.00H360.80V578.80" fill="none" stroke="#111" stroke-width="1.1" stroke-linejoin="miter"/>
<path d="M355.00 584.30V578.80H366.80V584.30" fill="none" stroke="#111" stroke-width="1.1" stroke-linejoin="miter"/>
<text x="330.20" y="499.11" font-size="5.8" text-anchor="middle" fill="#111">***</text>
<path d="M378.80 507.60V502.00H431.80V578.80" fill="none" stroke="#111" stroke-width="1.1" stroke-linejoin="miter"/>
<path d="M426.30 584.30V578.80H437.50V584.30" fill="none" stroke="#111" stroke-width="1.1" stroke-linejoin="miter"/>
<text x="400.80" y="499.11" font-size="5.8" text-anchor="middle" fill="#111">***</text>
<text x="273.80" y="630.25" font-size="6.8" fill="#111" stroke="#111" stroke-width="0.190" >T<tspan font-size="4.76" dy="2.04">eff</tspan><tspan dy="-2.04" font-size="6.8">&#8203;</tspan> ;T<tspan font-size="4.76" dy="2.04">reg</tspan><tspan dy="-2.04" font-size="6.8">&#8203;</tspan></text>
<text x="313.80" y="632.94" font-size="6.5" text-anchor="middle" fill="#111" stroke="#111" stroke-width="0.182" >1;0</text>
<text x="325.80" y="632.94" font-size="6.5" text-anchor="middle" fill="#111" stroke="#111" stroke-width="0.182" >8;1</text>
<text x="341.70" y="632.94" font-size="6.5" text-anchor="middle" fill="#111" stroke="#111" stroke-width="0.182" >4:1</text>
<text x="353.50" y="632.94" font-size="6.5" text-anchor="middle" fill="#111" stroke="#111" stroke-width="0.182" >2:1</text>
<text x="367.50" y="632.94" font-size="6.5" text-anchor="middle" fill="#111" stroke="#111" stroke-width="0.182" >1;1</text>
<text x="383.20" y="632.94" font-size="6.5" text-anchor="middle" fill="#111" stroke="#111" stroke-width="0.182" >1;0</text>
<text x="396.90" y="632.94" font-size="6.5" text-anchor="middle" fill="#111" stroke="#111" stroke-width="0.182" >8;1</text>
<text x="412.50" y="632.94" font-size="6.5" text-anchor="middle" fill="#111" stroke="#111" stroke-width="0.182" >4:1</text>
<text x="426.40" y="632.94" font-size="6.5" text-anchor="middle" fill="#111" stroke="#111" stroke-width="0.182" >2:1</text>
<text x="438.40" y="632.94" font-size="6.5" text-anchor="middle" fill="#111" stroke="#111" stroke-width="0.182" >1;1</text>
<line x1="313.30" y1="643.50" x2="373.30" y2="643.50" stroke="#111" stroke-width="1.0" stroke-linecap="butt"/>
<line x1="384.30" y1="643.50" x2="437.50" y2="643.50" stroke="#111" stroke-width="1.0" stroke-linecap="butt"/>
<text x="342.90" y="652.05" font-size="6.8" text-anchor="middle" fill="#111" stroke="#111" stroke-width="0.190" >WT</text>
<text x="408.00" y="652.05" font-size="6.8" fill="#111" stroke="#111" stroke-width="0.190" >IK <tspan font-size="3.94" dy="-3.06" stroke-width="0.06">-/-</tspan><tspan dy="3.06" font-size="6.8">&#8203;</tspan></text>
<text x="328.00" y="666.35" font-size="6.8" fill="#111" stroke="#111" stroke-width="0.190" textLength="25.8" lengthAdjust="spacingAndGlyphs">*<tspan font-style="italic">P</tspan>&lt;.05 ,</text>
<text x="360.20" y="666.35" font-size="6.8" fill="#111" stroke="#111" stroke-width="0.190" textLength="26.4" lengthAdjust="spacingAndGlyphs">**<tspan font-style="italic">P</tspan>&lt;.01,</text>
<text x="387.70" y="666.35" font-size="6.8" fill="#111" stroke="#111" stroke-width="0.190" textLength="31.7" lengthAdjust="spacingAndGlyphs">***<tspan font-style="italic">P</tspan>&lt;.001</text>
</svg>
</body></html>
